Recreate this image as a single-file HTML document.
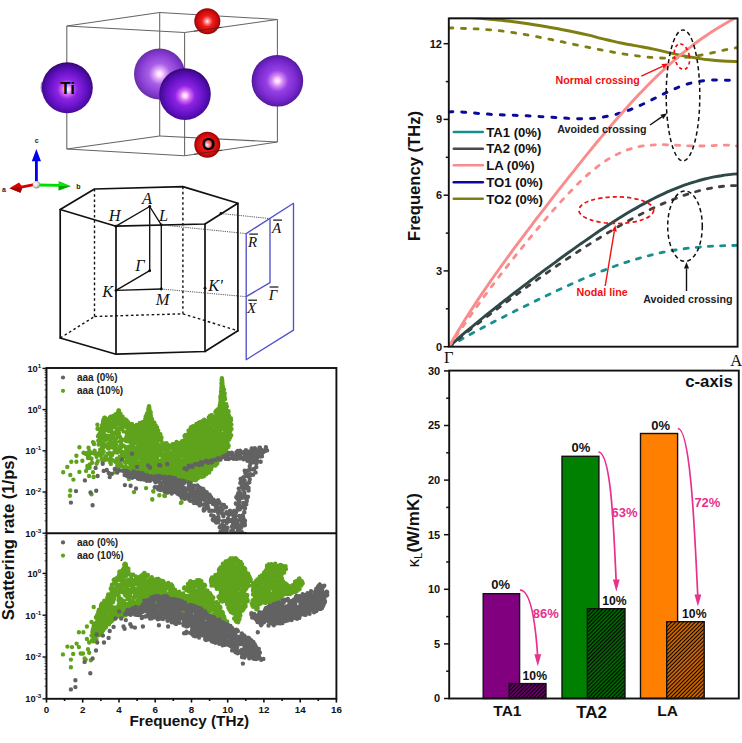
<!DOCTYPE html>
<html><head><meta charset="utf-8"><title>figure</title>
<style>
html,body{margin:0;padding:0;background:#fff;}
body{width:742px;height:743px;overflow:hidden;}
svg{display:block;}
svg{font-family:"Liberation Sans",sans-serif;}
.b{font-weight:bold;}
.se{font-family:"Liberation Serif",serif;}
.si{font-family:"Liberation Serif",serif;font-style:italic;}
</style></head><body>
<svg width="742" height="743" viewBox="0 0 742 743">
<defs>
<radialGradient id="gTiD" cx="50%" cy="53%" r="51%">
<stop offset="0" stop-color="#ffffff"/><stop offset="0.08" stop-color="#ffd0ff"/><stop offset="0.2" stop-color="#d46cf2"/><stop offset="0.38" stop-color="#8e24e2"/><stop offset="0.7" stop-color="#6612c8"/><stop offset="0.92" stop-color="#480a9e"/><stop offset="1" stop-color="#380878"/>
</radialGradient>
<radialGradient id="gTiL" cx="50%" cy="50%" r="50%">
<stop offset="0" stop-color="#ffffff"/><stop offset="0.08" stop-color="#ffe2ff"/><stop offset="0.22" stop-color="#dfa4f6"/><stop offset="0.42" stop-color="#a85fe6"/><stop offset="0.75" stop-color="#8a3fd4"/><stop offset="0.95" stop-color="#7030b4"/><stop offset="1" stop-color="#642aa2"/>
</radialGradient>
<radialGradient id="gTiM" cx="50%" cy="50%" r="50%">
<stop offset="0" stop-color="#ffffff"/><stop offset="0.08" stop-color="#ffd8ff"/><stop offset="0.22" stop-color="#d486f4"/><stop offset="0.42" stop-color="#9440e4"/><stop offset="0.75" stop-color="#7a28cf"/><stop offset="0.95" stop-color="#5c1cab"/><stop offset="1" stop-color="#501896"/>
</radialGradient>
<radialGradient id="gO" cx="50%" cy="50%" r="50%">
<stop offset="0" stop-color="#ffffff"/><stop offset="0.15" stop-color="#ff9a9a"/><stop offset="0.42" stop-color="#ee1c1c"/><stop offset="0.8" stop-color="#cc0a0a"/><stop offset="1" stop-color="#8e0505"/>
</radialGradient>
<radialGradient id="gW" cx="40%" cy="40%" r="60%">
<stop offset="0" stop-color="#ffffff"/><stop offset="0.6" stop-color="#d8d8d8"/><stop offset="1" stop-color="#8c8c8c"/>
</radialGradient>
<pattern id="hatch" patternUnits="userSpaceOnUse" width="2.76" height="8" patternTransform="rotate(45)">
<line x1="1.38" y1="-1" x2="1.38" y2="9" stroke="#000" stroke-width="1.35"/>
</pattern>
</defs>
<rect width="742" height="743" fill="#fff"/>

<g id="crystal">
<g fill="none" stroke="#646464" stroke-width="1.05">
<line x1="66.8" y1="26.0" x2="66.8" y2="149.0"/>
<line x1="159.7" y1="12.6" x2="159.7" y2="135.9"/>
<line x1="184.6" y1="32.6" x2="184.6" y2="155.7"/>
<line x1="277.4" y1="19.4" x2="277.4" y2="142.0"/>
<line x1="66.8" y1="26.0" x2="159.7" y2="12.6"/>
<line x1="159.7" y1="12.6" x2="277.4" y2="19.4"/>
<line x1="277.4" y1="19.4" x2="184.6" y2="32.6"/>
<line x1="184.6" y1="32.6" x2="66.8" y2="26.0"/>
<line x1="66.8" y1="149.0" x2="159.7" y2="135.9"/>
<line x1="159.7" y1="135.9" x2="277.4" y2="142.0"/>
<line x1="277.4" y1="142.0" x2="184.6" y2="155.7"/>
<line x1="184.6" y1="155.7" x2="66.8" y2="149.0"/>
</g>
<ellipse cx="42.4" cy="87.2" rx="1.8" ry="5.6" fill="#8a78a0" opacity="0.85"/>
<circle cx="159.5" cy="74" r="25.5" fill="url(#gTiL)"/>
<circle cx="277.4" cy="80.8" r="25.8" fill="url(#gTiM)"/>
<circle cx="207.3" cy="21.3" r="13" fill="url(#gO)"/>
<circle cx="67.3" cy="87.8" r="25.5" fill="url(#gTiD)"/>
<circle cx="185" cy="94.1" r="25.8" fill="url(#gTiD)"/>
<circle cx="207.3" cy="144.8" r="13" fill="url(#gO)"/>
<g fill="none" stroke="#4a2020" stroke-width="1" opacity="0.75"><line x1="193.9" y1="31.3" x2="221.7" y2="27.3"/><line x1="193.9" y1="154.3" x2="221.7" y2="150.2"/></g>
<text x="67.7" y="93.7" class="b" font-size="17" text-anchor="middle" fill="#000">Ti</text>
<text x="208.3" y="150.1" class="b" font-size="17.4" text-anchor="middle" fill="#000">O</text>
</g>
<g id="compass">
<line x1="34" y1="184.6" x2="20" y2="187.4" stroke="#d40000" stroke-width="2.8"/>
<polygon points="9.4,188.3 19,182.6 22.5,187 20.5,192.8" fill="#d80000"/>
<polygon points="9.4,188.3 20.5,192.8 22.5,187" fill="#a40000"/>
<line x1="39" y1="185" x2="59.5" y2="185.3" stroke="#00dc00" stroke-width="2.8"/>
<polygon points="70.8,185.9 58.6,181.1 58.6,190.4" fill="#10e010"/>
<polygon points="70.8,185.9 58.6,190.4 58.6,186" fill="#00a800"/>
<line x1="36.4" y1="182" x2="36.4" y2="160.5" stroke="#0000f0" stroke-width="2.8"/>
<polygon points="36.4,148.9 31.8,161.2 41,161.2" fill="#0000f0"/>
<circle cx="36.4" cy="184.7" r="3.7" fill="url(#gW)"/>
<text x="36.7" y="143.3" class="b" font-size="7" text-anchor="middle" fill="#222">c</text>
<text x="78.4" y="189" class="b" font-size="7" text-anchor="middle" fill="#222">b</text>
<text x="3.9" y="191.6" class="b" font-size="7" text-anchor="middle" fill="#222">a</text>
</g>
<g id="bz" fill="none" stroke="#111" stroke-linejoin="round" stroke-linecap="round">
<g stroke-width="1.7">
<polygon points="60.2,209.5 94.5,189.0 182.9,186.6 237.9,203.3 205.0,224.0 116.0,226.2"/>
<line x1="60.2" y1="209.5" x2="60.2" y2="338.0"/>
<line x1="116.0" y1="226.2" x2="116.0" y2="354.2"/>
<line x1="205.0" y1="224.0" x2="205.0" y2="351.5"/>
<line x1="237.9" y1="203.3" x2="237.9" y2="330.8"/>
<polyline points="60.2,338.0 116.0,354.2 205.0,351.5 237.9,330.8"/>
</g>
<g stroke-width="1.4" stroke-dasharray="2.6 2.6" stroke-linecap="butt">
<line x1="94.5" y1="189.0" x2="94.5" y2="316.5"/>
<line x1="182.9" y1="186.6" x2="182.9" y2="313.8"/>
<line x1="60.2" y1="338.0" x2="94.5" y2="316.5"/>
<line x1="94.5" y1="316.5" x2="182.9" y2="313.8"/>
<line x1="182.9" y1="313.8" x2="237.9" y2="330.8"/>
</g>
<g stroke-width="1.35">
<line x1="116.0" y1="226.2" x2="149.7" y2="206.5"/>
<line x1="149.7" y1="206.5" x2="161.3" y2="224.9"/>
<line x1="149.7" y1="206.5" x2="149.7" y2="270.7"/>
<line x1="161.3" y1="224.9" x2="161.3" y2="289.0"/>
<line x1="149.7" y1="270.7" x2="116.0" y2="290.4"/>
<line x1="116.0" y1="290.4" x2="161.3" y2="289.0"/>
</g>
<g stroke="#444" stroke-width="0.9" stroke-dasharray="1.2 1" stroke-linecap="butt">
<line x1="221.0" y1="213.5" x2="270.0" y2="218.6"/>
<line x1="161.3" y1="224.9" x2="246.2" y2="233.6"/>
<line x1="161.3" y1="289.0" x2="246.2" y2="296.7"/>
</g>
</g>
<g fill="#111">
<circle cx="149.7" cy="206.5" r="1.45"/>
<circle cx="149.7" cy="270.7" r="1.45"/>
<circle cx="161.3" cy="224.9" r="1.45"/>
<circle cx="161.3" cy="289.0" r="1.45"/>
<circle cx="116.0" cy="290.4" r="1.45"/>
<circle cx="205.0" cy="288.2" r="1.45"/>
<circle cx="221.0" cy="213.5" r="1.45"/>
<circle cx="116.0" cy="226.2" r="1.45"/>
</g>
<g class="si" font-size="16.4" fill="#111" text-anchor="middle">
<text x="147.0" y="204.0">A</text>
<text x="114.6" y="221.0">H</text>
<text x="163.6" y="220.6">L</text>
<text x="139.8" y="271.2">Γ</text>
<text x="107.8" y="296.7">K</text>
<text x="162.6" y="305.0">M</text>
<text x="215.6" y="290.6">K'</text>
</g>
<g fill="none" stroke="#5252cc" stroke-width="1.35" stroke-linejoin="round">
<polygon points="246.2,233.6 293.5,203.3 293.5,330.1 246.2,359.7"/>
<polyline points="270,218.6 270,282.6 246.2,296.7"/>
</g>
<g class="si" font-size="15" fill="#111" text-anchor="middle">
<text x="276.6" y="232.7">A</text>
<line x1="273.2" y1="220.1" x2="282.0" y2="220.1" stroke="#111" stroke-width="1.2"/>
<text x="252.6" y="246.7">R</text>
<line x1="249.2" y1="234.1" x2="258.0" y2="234.1" stroke="#111" stroke-width="1.2"/>
<text x="273.0" y="299.6">Γ</text>
<line x1="269.6" y1="287.0" x2="278.4" y2="287.0" stroke="#111" stroke-width="1.2"/>
<text x="251.6" y="312.8">X</text>
<line x1="248.2" y1="300.2" x2="257.0" y2="300.2" stroke="#111" stroke-width="1.2"/>
</g>
<g id="phonon">
<clipPath id="pc"><rect x="448.8" y="17.4" width="288.8" height="329.3"/></clipPath>
<g fill="none" clip-path="url(#pc)">
<path d="M448.9,27.8C450.3,27.9 454.4,28.1 457.2,28.2C459.9,28.3 462.7,28.4 465.4,28.5C468.2,28.6 470.9,28.7 473.7,28.8C476.4,28.9 479.2,29.0 481.9,29.2C484.7,29.4 487.4,29.6 490.2,29.8C492.9,30.1 495.7,30.3 498.4,30.6C501.2,30.9 503.9,31.3 506.7,31.7C509.4,32.0 512.2,32.4 514.9,32.9C517.7,33.3 520.4,33.8 523.2,34.2C525.9,34.7 528.7,35.2 531.4,35.7C534.2,36.2 536.9,36.8 539.7,37.3C542.4,37.9 545.2,38.4 547.9,39.0C550.7,39.5 553.4,40.1 556.2,40.7C558.9,41.3 561.7,41.8 564.4,42.4C567.2,43.0 569.9,43.6 572.7,44.1C575.4,44.7 578.2,45.3 580.9,45.8C583.7,46.4 586.4,47.0 589.2,47.5C591.9,48.1 594.7,48.6 597.4,49.2C600.2,49.7 602.9,50.2 605.7,50.8C608.4,51.3 611.2,51.8 613.9,52.3C616.7,52.8 619.4,53.2 622.2,53.7C624.9,54.1 627.7,54.6 630.4,55.0C633.2,55.4 635.9,55.8 638.7,56.1C641.4,56.4 644.2,56.8 646.9,57.0C649.7,57.3 652.4,57.5 655.2,57.7C657.9,57.9 660.7,58.0 663.4,58.1C666.2,58.2 668.9,58.2 671.7,58.1C674.4,58.1 677.2,58.0 679.9,57.8C682.7,57.6 685.4,57.4 688.2,57.1C690.9,56.8 693.7,56.4 696.4,56.0C699.2,55.5 701.9,55.0 704.7,54.5C707.4,53.9 710.2,53.3 712.9,52.7C715.7,52.1 718.4,51.4 721.2,50.8C723.9,50.2 726.7,49.5 729.4,49.0C732.2,48.4 736.3,47.7 737.7,47.5" stroke="#7e7e12" stroke-width="2.8" stroke-linecap="round" stroke-dasharray="4.0 8.6"/>
<path d="M448.9,16.6C451.8,16.7 460.3,16.8 466.0,17.1C471.7,17.4 476.6,18.0 483.0,18.6C489.4,19.2 497.5,19.9 504.7,20.7C511.9,21.5 519.1,22.4 526.3,23.5C533.5,24.6 540.6,25.8 547.8,27.0C555.0,28.2 562.2,29.6 569.4,31.0C576.6,32.5 585.6,34.5 590.9,35.7C596.1,36.9 595.9,37.1 600.9,38.3C605.9,39.5 614.5,41.6 621.1,43.0C627.7,44.4 635.1,45.6 640.5,46.6C645.9,47.6 649.2,48.2 653.7,49.2C658.2,50.2 662.9,51.3 667.5,52.3C672.1,53.3 676.6,54.4 681.2,55.3C685.8,56.2 690.4,57.0 695.0,57.8C699.6,58.5 704.1,59.3 708.7,59.8C713.3,60.3 717.6,60.7 722.5,61.0C727.4,61.3 735.3,61.5 737.9,61.6" stroke="#7e7e12" stroke-width="2.9"/>
<path d="M448.9,111.9C450.3,111.9 454.4,111.7 457.2,111.7C459.9,111.8 462.7,112.0 465.4,112.3C468.2,112.5 470.9,112.8 473.7,113.0C476.4,113.3 479.2,113.5 481.9,113.7C484.7,113.9 487.4,114.1 490.2,114.3C492.9,114.5 495.7,114.6 498.4,114.7C501.2,114.9 503.9,115.0 506.7,115.1C509.5,115.1 512.2,115.2 515.0,115.3C517.7,115.4 520.5,115.5 523.2,115.6C526.0,115.7 528.7,115.9 531.5,116.0C534.2,116.1 537.0,116.3 539.7,116.5C542.5,116.6 545.2,116.8 548.0,117.0C550.7,117.2 553.5,117.4 556.2,117.6C559.0,117.8 561.7,118.0 564.5,118.1C567.3,118.3 570.0,118.5 572.8,118.5C575.5,118.6 578.3,118.7 581.0,118.7C583.8,118.7 586.5,118.6 589.3,118.5C592.0,118.4 594.8,118.2 597.5,117.8C600.3,117.5 603.0,117.1 605.8,116.6C608.5,116.1 611.3,115.6 614.0,114.9C616.8,114.2 619.5,113.4 622.3,112.5C625.1,111.6 627.8,110.5 630.6,109.5C633.3,108.4 636.1,107.2 638.8,106.0C641.6,104.8 644.3,103.4 647.1,102.1C649.8,100.8 652.6,99.4 655.3,98.0C658.1,96.7 660.8,95.3 663.6,93.9C666.3,92.6 669.1,91.3 671.8,90.1C674.6,88.8 677.3,87.6 680.1,86.6C682.9,85.5 685.6,84.6 688.4,83.8C691.1,83.0 693.9,82.3 696.6,81.7C699.4,81.2 702.1,80.8 704.9,80.5C707.6,80.2 710.4,80.1 713.1,80.1C715.9,80.0 718.6,80.1 721.4,80.1C724.1,80.2 726.9,80.3 729.6,80.2C732.4,80.1 736.5,79.6 737.9,79.5" stroke="#0a0a9a" stroke-width="3.0" stroke-linecap="round" stroke-dasharray="3.9 9"/>
<path d="M448.9,346.7C450.3,345.9 454.4,343.4 457.2,341.8C459.9,340.2 462.7,338.6 465.4,337.1C468.2,335.5 470.9,334.0 473.7,332.5C476.4,331.0 479.2,329.5 481.9,328.1C484.7,326.6 487.4,325.2 490.2,323.7C492.9,322.3 495.7,320.9 498.4,319.5C501.2,318.1 503.9,316.7 506.7,315.3C509.4,313.9 512.2,312.5 514.9,311.1C517.7,309.7 520.4,308.4 523.2,307.0C525.9,305.7 528.7,304.3 531.4,302.9C534.2,301.6 536.9,300.3 539.7,298.9C542.4,297.6 545.2,296.3 547.9,295.0C550.7,293.6 553.4,292.3 556.2,291.0C558.9,289.8 561.7,288.5 564.4,287.2C567.2,285.9 569.9,284.7 572.7,283.4C575.4,282.2 578.2,281.0 580.9,279.8C583.7,278.6 586.4,277.4 589.2,276.2C591.9,275.1 594.7,274.0 597.4,272.8C600.2,271.7 602.9,270.6 605.7,269.6C608.4,268.5 611.2,267.5 613.9,266.5C616.7,265.5 619.4,264.5 622.2,263.6C624.9,262.6 627.7,261.7 630.4,260.9C633.2,260.0 635.9,259.2 638.7,258.4C641.4,257.6 644.2,256.8 646.9,256.1C649.7,255.4 652.4,254.7 655.2,254.1C657.9,253.4 660.7,252.8 663.4,252.2C666.2,251.7 668.9,251.2 671.7,250.7C674.4,250.2 677.2,249.8 679.9,249.3C682.7,248.9 685.4,248.6 688.2,248.2C690.9,247.9 693.7,247.6 696.4,247.4C699.2,247.1 701.9,246.9 704.7,246.7C707.4,246.5 710.2,246.3 712.9,246.2C715.7,246.0 718.4,245.9 721.2,245.8C723.9,245.7 726.7,245.7 729.4,245.6C732.2,245.5 736.3,245.4 737.7,245.4" stroke="#178f8f" stroke-width="2.8" stroke-linecap="round" stroke-dasharray="4.2 8"/>
<path d="M448.9,346.7C450.3,345.6 454.4,342.2 457.2,340.0C459.9,337.8 462.7,335.6 465.4,333.4C468.2,331.2 470.9,329.0 473.7,326.9C476.4,324.7 479.2,322.6 481.9,320.5C484.7,318.4 487.4,316.3 490.2,314.2C492.9,312.1 495.7,310.0 498.4,307.9C501.2,305.9 503.9,303.8 506.7,301.8C509.4,299.7 512.2,297.7 514.9,295.7C517.7,293.7 520.4,291.7 523.2,289.7C525.9,287.7 528.7,285.7 531.4,283.7C534.2,281.8 536.9,279.8 539.7,277.9C542.4,275.9 545.2,274.0 547.9,272.1C550.7,270.1 553.4,268.2 556.2,266.3C558.9,264.4 561.7,262.6 564.4,260.7C567.2,258.8 569.9,257.0 572.7,255.2C575.4,253.3 578.2,251.5 580.9,249.7C583.7,247.9 586.4,246.1 589.2,244.4C591.9,242.6 594.7,240.9 597.4,239.2C600.2,237.5 602.9,235.8 605.7,234.1C608.4,232.4 611.2,230.8 613.9,229.1C616.7,227.5 619.4,225.9 622.2,224.4C624.9,222.8 627.7,221.2 630.4,219.7C633.2,218.2 635.9,216.8 638.7,215.3C641.4,213.9 644.2,212.5 646.9,211.1C649.7,209.8 652.4,208.4 655.2,207.1C657.9,205.9 660.7,204.6 663.4,203.4C666.2,202.2 668.9,201.1 671.7,200.0C674.4,198.9 677.2,197.8 679.9,196.8C682.7,195.8 685.4,194.9 688.2,194.0C690.9,193.1 693.7,192.3 696.4,191.5C699.2,190.8 701.9,190.1 704.7,189.4C707.4,188.8 710.2,188.2 712.9,187.8C715.7,187.3 718.4,186.9 721.2,186.5C723.9,186.2 726.7,185.9 729.4,185.8C732.2,185.6 736.3,185.6 737.7,185.5" stroke="#3f3f3f" stroke-width="2.8" stroke-linecap="round" stroke-dasharray="4.2 8"/>
<path d="M448.9,346.7C450.3,345.5 454.4,341.7 457.2,339.3C459.9,336.9 462.7,334.5 465.4,332.2C468.2,329.8 470.9,327.5 473.7,325.3C476.4,323.0 479.2,320.7 481.9,318.5C484.7,316.3 487.4,314.1 490.2,311.9C492.9,309.7 495.7,307.5 498.4,305.3C501.2,303.2 503.9,301.0 506.7,298.9C509.4,296.8 512.2,294.6 514.9,292.5C517.7,290.4 520.4,288.3 523.2,286.2C525.9,284.1 528.7,282.1 531.4,280.0C534.2,277.9 536.9,275.8 539.7,273.8C542.4,271.7 545.2,269.7 547.9,267.6C550.7,265.6 553.4,263.6 556.2,261.6C558.9,259.5 561.7,257.5 564.4,255.5C567.2,253.5 569.9,251.6 572.7,249.6C575.4,247.6 578.2,245.7 580.9,243.7C583.7,241.8 586.4,239.9 589.2,238.0C591.9,236.1 594.7,234.2 597.4,232.3C600.2,230.5 602.9,228.6 605.7,226.8C608.4,225.0 611.2,223.2 613.9,221.5C616.7,219.7 619.4,218.0 622.2,216.3C624.9,214.6 627.7,212.9 630.4,211.3C633.2,209.7 635.9,208.1 638.7,206.6C641.4,205.0 644.2,203.5 646.9,202.1C649.7,200.6 652.4,199.2 655.2,197.8C657.9,196.4 660.7,195.1 663.4,193.9C666.2,192.6 668.9,191.4 671.7,190.2C674.4,189.0 677.2,187.9 679.9,186.9C682.7,185.8 685.4,184.8 688.2,183.9C690.9,182.9 693.7,182.1 696.4,181.3C699.2,180.4 701.9,179.7 704.7,179.0C707.4,178.3 710.2,177.7 712.9,177.1C715.7,176.6 718.4,176.1 721.2,175.7C723.9,175.2 726.7,174.9 729.4,174.6C732.2,174.3 736.3,174.0 737.7,173.9" stroke="#2f4848" stroke-width="2.9"/>
<path d="M448.9,346.7C450.3,344.7 454.4,338.8 457.2,334.8C459.9,330.8 462.7,326.8 465.4,322.8C468.2,318.8 470.9,314.9 473.7,311.0C476.4,307.1 479.2,303.3 481.9,299.5C484.7,295.8 487.4,292.0 490.2,288.4C492.9,284.7 495.7,281.1 498.4,277.5C501.2,273.9 503.9,270.4 506.7,266.9C509.4,263.4 512.2,259.9 514.9,256.4C517.7,253.0 520.4,249.6 523.2,246.2C525.9,242.8 528.7,239.4 531.4,236.1C534.2,232.8 536.9,229.4 539.7,226.2C542.4,222.9 545.2,219.6 547.9,216.4C550.7,213.2 553.4,210.0 556.2,206.9C558.9,203.8 561.7,200.8 564.4,197.8C567.2,194.8 569.9,191.9 572.7,189.1C575.4,186.3 578.2,183.5 580.9,180.9C583.7,178.3 586.4,175.8 589.2,173.4C591.9,171.1 594.7,168.8 597.4,166.7C600.2,164.6 602.9,162.6 605.7,160.8C608.4,159.0 611.2,157.4 613.9,155.9C616.7,154.4 619.4,153.1 622.2,151.9C624.9,150.8 627.7,149.7 630.4,148.9C633.2,148.0 635.9,147.3 638.7,146.8C641.4,146.2 644.2,145.8 646.9,145.5C649.7,145.1 652.4,145.0 655.2,144.8C657.9,144.7 660.7,144.7 663.4,144.7C666.2,144.8 668.9,144.9 671.7,145.0C674.4,145.1 677.2,145.3 679.9,145.4C682.7,145.5 685.4,145.7 688.2,145.8C690.9,145.9 693.7,146.0 696.4,146.0C699.2,146.0 701.9,146.0 704.7,145.9C707.4,145.9 710.2,145.7 712.9,145.6C715.7,145.5 718.4,145.3 721.2,145.3C723.9,145.2 726.7,145.1 729.4,145.2C732.2,145.4 736.3,146.0 737.7,146.2" stroke="#f98c8c" stroke-width="2.8" stroke-linecap="round" stroke-dasharray="4.2 8"/>
<path d="M448.9,346.7C450.3,344.3 454.4,337.0 457.2,332.4C460.0,327.8 462.8,323.3 465.5,318.8C468.3,314.4 471.1,310.1 473.9,305.9C476.6,301.6 479.4,297.5 482.2,293.4C484.9,289.3 487.7,285.3 490.5,281.3C493.3,277.3 496.0,273.4 498.8,269.5C501.6,265.7 504.3,261.8 507.1,258.0C509.9,254.2 512.7,250.5 515.4,246.7C518.2,243.0 521.0,239.3 523.8,235.6C526.5,231.9 529.3,228.2 532.1,224.6C534.8,220.9 537.6,217.3 540.4,213.7C543.2,210.1 545.9,206.5 548.7,202.9C551.5,199.3 554.3,195.7 557.0,192.2C559.8,188.6 562.6,185.1 565.3,181.6C568.1,178.0 570.9,174.5 573.7,171.1C576.4,167.6 579.2,164.1 582.0,160.7C584.7,157.2 587.5,153.8 590.3,150.4C593.1,147.0 595.8,143.6 598.6,140.3C601.4,137.0 604.2,133.7 606.9,130.4C609.7,127.1 612.5,123.9 615.2,120.7C618.0,117.5 620.8,114.3 623.6,111.2C626.3,108.1 629.1,105.0 631.9,102.0C634.6,99.0 637.4,96.0 640.2,93.1C643.0,90.2 645.7,87.3 648.5,84.5C651.3,81.7 654.1,79.0 656.8,76.3C659.6,73.6 662.4,71.0 665.1,68.5C667.9,65.9 670.7,63.4 673.5,61.0C676.2,58.6 679.0,56.2 681.8,53.9C684.6,51.6 687.3,49.4 690.1,47.3C692.9,45.1 695.6,43.0 698.4,41.0C701.2,39.0 704.0,37.1 706.7,35.2C709.5,33.3 712.3,31.5 715.0,29.8C717.8,28.0 720.6,26.3 723.4,24.7C726.1,23.1 728.9,21.5 731.7,20.0C734.5,18.4 738.6,16.3 740.0,15.5" stroke="#f98c8c" stroke-width="2.9"/>
</g>
<rect x="448.8" y="18.4" width="288.8" height="328.3" fill="none" stroke="#111" stroke-width="1.9"/>
<g stroke="#111" stroke-width="1.5">
<line x1="443.6" y1="346.7" x2="448.8" y2="346.7"/>
<line x1="443.6" y1="270.9" x2="448.8" y2="270.9"/>
<line x1="443.6" y1="195.2" x2="448.8" y2="195.2"/>
<line x1="443.6" y1="119.4" x2="448.8" y2="119.4"/>
<line x1="443.6" y1="43.7" x2="448.8" y2="43.7"/>
<line x1="445.8" y1="308.8" x2="448.8" y2="308.8"/>
<line x1="445.8" y1="233.1" x2="448.8" y2="233.1"/>
<line x1="445.8" y1="157.3" x2="448.8" y2="157.3"/>
<line x1="445.8" y1="81.6" x2="448.8" y2="81.6"/>
</g>
<g class="b" font-size="11" fill="#111" text-anchor="end">
<text x="442.0" y="350.6">0</text>
<text x="442.0" y="274.8">3</text>
<text x="442.0" y="199.1">6</text>
<text x="442.0" y="123.3">9</text>
<text x="442.0" y="47.6">12</text>
</g>
<text class="b" font-size="16.6" fill="#111" text-anchor="middle" transform="translate(420,176) rotate(-90)">Frequency (THz)</text>
<text class="se" font-size="16.4" fill="#111" x="444" y="362.5">Γ</text>
<text class="se" font-size="16.6" fill="#111" x="730.2" y="366.3">A</text>
<line x1="453.8" y1="132.0" x2="482.8" y2="132.0" stroke="#178f8f" stroke-width="2.6" stroke-linecap="round"/>
<text class="b" font-size="13.15" fill="#111" x="486.2" y="136.7">TA1 (0%)</text>
<line x1="453.8" y1="148.7" x2="482.8" y2="148.7" stroke="#4a4a4a" stroke-width="2.6" stroke-linecap="round"/>
<text class="b" font-size="13.15" fill="#111" x="486.2" y="153.4">TA2 (0%)</text>
<line x1="453.8" y1="165.3" x2="482.8" y2="165.3" stroke="#f98c8c" stroke-width="2.6" stroke-linecap="round"/>
<text class="b" font-size="13.15" fill="#111" x="486.2" y="170.0">LA (0%)</text>
<line x1="453.8" y1="182.3" x2="482.8" y2="182.3" stroke="#0a0a9a" stroke-width="2.6" stroke-linecap="round"/>
<text class="b" font-size="13.15" fill="#111" x="486.2" y="187.0">TO1 (0%)</text>
<line x1="453.8" y1="198.8" x2="482.8" y2="198.8" stroke="#7e7e12" stroke-width="2.6" stroke-linecap="round"/>
<text class="b" font-size="13.15" fill="#111" x="486.2" y="203.5">TO2 (0%)</text>
<g fill="none" stroke-width="1.5" stroke-dasharray="4.2 3">
<ellipse cx="683" cy="95.4" rx="16.8" ry="65.5" stroke="#111"/>
<ellipse cx="685" cy="226.2" rx="17.3" ry="35.2" stroke="#111"/>
<ellipse cx="681.9" cy="56.6" rx="7.4" ry="12.9" stroke="#f01010" stroke-width="1.7" stroke-dasharray="3.4 2.8" transform="rotate(-12 681.9 56.6)"/>
<ellipse cx="616.3" cy="210.2" rx="37.4" ry="13.3" stroke="#f01010" stroke-width="1.7"/>
</g>
<line x1="641.3" y1="76.2" x2="662.5" y2="66.3" stroke="#f01010" stroke-width="1.4"/>
<polygon points="668.4,63.6 663.6,68.6 661.5,64.1" fill="#f01010"/>
<line x1="650.0" y1="125.0" x2="661.8" y2="116.9" stroke="#111" stroke-width="1.4"/>
<polygon points="667.2,113.2 663.3,118.9 660.4,114.8" fill="#111"/>
<line x1="605.2" y1="286.0" x2="614.3" y2="231.4" stroke="#f01010" stroke-width="1.4"/>
<polygon points="615.4,225.0 616.8,231.8 611.9,231.0" fill="#f01010"/>
<line x1="686.5" y1="291.0" x2="686.5" y2="268.5" stroke="#111" stroke-width="1.4"/>
<polygon points="686.5,262.0 689.0,268.5 684.0,268.5" fill="#111"/>
<g class="b" font-size="10.7">
<text x="555.5" y="83.6" fill="#f01010">Normal crossing</text>
<text x="557.3" y="133.2" fill="#222">Avoided crossing</text>
<text x="576.6" y="296" fill="#f01010">Nodal line</text>
<text x="643.3" y="303.3" fill="#222">Avoided crossing</text>
</g>
</g>
<g id="scatter">
<clipPath id="ct"><rect x="46.5" y="368.0" width="289.9" height="165.3"/></clipPath>
<clipPath id="cb"><rect x="46.5" y="533.3" width="289.9" height="165.5"/></clipPath>
<path d="M154.2,465.3h0M181.9,478.0h0M138.3,464.1h0M120.9,439.5h0M139.1,439.9h0M204.7,451.8h0M129.5,438.7h0M167.9,470.3h0M153.3,457.9h0M117.0,429.7h0M101.6,448.6h0M200.6,438.6h0M215.8,411.3h0M191.2,440.8h0M161.0,448.2h0M148.9,448.6h0M104.2,459.1h0M149.6,470.0h0M107.2,425.5h0M171.2,471.2h0M208.1,469.2h0M145.2,471.3h0M128.1,429.3h0M146.6,437.9h0M226.4,450.9h0M166.6,443.3h0M219.1,460.3h0M215.6,462.2h0M149.8,420.3h0M110.3,445.0h0M214.1,451.5h0M119.0,459.5h0M168.9,460.2h0M212.7,463.1h0M208.0,456.1h0M127.2,432.7h0M131.6,451.1h0M226.8,425.3h0M226.6,416.6h0M181.4,473.0h0M211.0,428.7h0M185.4,462.4h0M107.8,447.8h0M198.7,428.6h0M141.6,462.5h0M228.9,419.9h0M144.1,436.0h0M168.1,476.5h0M155.4,470.0h0M129.0,440.0h0M144.5,426.5h0M175.9,473.4h0M153.6,474.8h0M119.7,428.1h0M195.2,436.8h0M140.7,432.8h0M172.1,460.8h0M110.7,437.2h0M201.7,431.7h0M172.9,458.2h0M220.8,424.9h0M166.1,451.2h0M158.0,434.4h0M161.5,477.3h0M191.7,470.5h0M224.9,405.6h0M172.6,477.5h0M112.8,424.8h0M203.3,472.6h0M150.6,429.5h0M118.2,423.7h0M153.9,474.2h0M174.1,452.0h0M182.9,462.6h0M171.7,475.8h0M196.3,436.3h0M223.9,389.5h0M208.0,423.8h0M163.8,466.1h0M149.9,431.6h0M143.0,465.8h0M192.7,445.2h0M105.9,456.2h0M215.1,448.8h0M136.2,426.6h0M229.0,435.8h0M123.6,431.4h0M108.5,420.3h0M198.7,447.5h0M194.0,470.8h0M149.4,412.6h0M195.1,446.0h0M218.0,444.3h0M196.4,463.7h0M165.1,466.1h0M206.1,465.2h0M176.0,472.2h0M189.5,451.2h0M114.4,416.2h0M172.5,444.3h0M181.7,449.9h0M205.1,457.0h0M161.6,450.2h0M201.0,443.2h0M188.0,451.1h0M115.6,433.4h0M208.2,431.8h0M217.3,452.3h0M115.4,414.5h0M139.4,466.7h0M222.7,453.3h0M219.3,408.8h0M147.0,419.6h0M145.5,423.3h0M217.0,463.7h0M182.4,474.4h0M224.7,436.1h0M196.2,425.7h0M199.0,446.1h0M222.8,391.7h0M136.9,456.0h0M174.0,471.6h0M152.7,433.4h0M147.7,413.9h0M165.0,444.5h0M150.8,425.2h0M218.5,428.1h0M209.0,468.3h0M167.5,450.0h0M224.8,454.2h0M184.6,458.7h0M158.7,436.3h0M183.1,451.8h0M137.4,426.8h0M227.2,446.1h0M216.9,428.3h0M164.3,449.2h0M187.3,475.6h0M142.4,422.5h0M205.1,456.0h0M126.4,458.3h0M126.7,422.2h0M187.1,478.1h0M116.2,419.7h0M223.4,412.9h0M147.3,413.2h0M144.9,464.7h0M208.5,423.8h0M122.6,416.6h0M152.3,463.7h0M221.9,405.3h0M198.3,472.8h0M227.0,443.2h0M132.0,453.7h0M221.4,445.0h0M128.1,428.3h0M154.9,430.2h0M223.0,397.5h0M205.8,456.0h0M208.6,459.6h0M100.8,436.4h0M128.2,422.1h0M180.9,449.2h0M198.4,467.4h0M206.6,447.0h0M161.0,464.5h0M229.1,439.6h0M223.2,417.4h0M214.5,425.5h0M131.7,460.1h0M177.6,443.5h0M131.0,441.3h0M204.8,435.9h0M150.2,436.2h0M118.6,451.4h0M138.9,437.9h0M145.0,422.1h0M154.1,464.6h0M151.7,471.2h0M183.7,474.0h0M108.4,443.7h0M146.8,431.4h0M167.4,475.6h0M222.7,419.1h0M219.7,443.5h0M151.4,467.3h0M126.0,420.3h0M195.2,472.7h0M101.8,437.4h0M153.6,439.6h0M154.3,447.6h0M99.4,443.4h0M200.5,460.3h0M113.7,423.6h0M108.7,424.8h0M196.4,460.1h0M196.2,464.0h0M221.3,395.7h0M203.9,476.2h0M164.8,475.1h0M189.0,472.5h0M119.2,460.9h0M111.9,434.1h0M215.4,436.7h0M175.4,471.1h0M145.4,458.7h0M183.5,481.8h0M176.2,448.1h0M166.2,472.5h0M109.3,445.4h0M215.2,460.6h0M104.2,460.2h0M97.9,436.2h0M224.7,393.3h0M165.4,445.8h0M203.1,453.5h0M198.0,427.2h0M197.5,425.9h0M142.0,457.1h0M191.1,467.2h0M203.9,433.3h0M132.4,445.8h0M197.8,477.7h0M216.4,412.9h0M182.3,451.2h0M187.1,481.3h0M160.3,466.6h0M191.5,468.5h0M155.9,454.5h0M190.8,445.0h0M191.4,455.8h0M105.2,440.4h0M145.8,464.3h0M208.1,472.0h0M212.0,463.7h0M182.8,465.1h0M139.8,422.9h0M134.8,453.6h0M227.9,431.3h0M212.5,443.3h0M155.8,459.6h0M143.6,452.4h0M163.3,462.1h0M143.6,465.8h0M191.7,430.7h0M191.4,461.1h0M151.0,419.8h0M219.3,431.0h0M148.0,471.3h0M168.8,457.7h0M199.0,446.3h0M117.4,467.0h0M186.6,456.3h0M119.4,424.4h0M201.8,439.2h0M192.2,467.0h0M110.1,418.7h0M196.4,424.0h0M123.0,445.4h0M150.7,461.5h0M190.9,430.9h0M151.5,456.2h0M220.2,423.5h0M174.6,457.1h0M194.8,470.9h0M201.9,451.9h0M212.6,449.8h0M138.9,444.4h0M109.6,422.4h0M203.1,453.3h0M154.1,426.2h0M188.4,476.1h0M121.2,447.1h0M101.4,435.4h0M118.2,460.5h0M224.7,432.9h0M110.0,438.7h0M170.1,453.7h0M166.2,445.5h0M209.4,433.2h0M149.8,458.5h0M153.6,451.7h0M126.8,456.3h0M224.6,433.7h0M126.1,462.6h0M206.8,445.0h0M160.3,437.4h0M144.4,445.5h0M208.0,464.1h0M210.1,415.6h0M137.4,428.7h0M154.7,445.3h0M179.3,460.5h0M187.5,472.3h0M203.8,466.5h0M168.7,456.3h0M156.1,471.1h0M169.9,469.1h0M160.1,437.5h0M187.1,466.7h0M147.4,422.3h0M183.2,445.2h0M100.1,442.4h0M189.4,476.3h0M194.3,444.1h0M142.4,468.9h0M146.2,428.2h0M168.0,459.3h0M125.0,424.1h0M153.9,436.6h0M209.3,420.8h0M185.6,461.6h0M137.1,440.0h0M182.9,460.8h0M217.2,435.7h0M222.0,442.3h0M186.1,461.3h0M220.5,442.6h0M180.4,444.2h0M191.3,441.0h0M202.0,474.4h0M208.6,461.0h0M139.7,423.6h0M183.9,476.5h0M206.9,438.8h0M221.7,425.3h0M177.1,476.9h0M230.2,428.3h0M193.7,468.3h0M182.1,452.9h0M159.1,476.4h0M138.7,455.0h0M146.4,438.8h0M156.1,449.5h0M116.0,462.2h0M145.8,446.1h0M148.9,461.0h0M192.3,465.3h0M141.5,442.0h0M154.7,471.7h0M147.6,450.3h0M178.4,472.6h0M153.9,440.0h0M207.6,471.6h0M207.1,469.5h0M212.5,463.2h0M189.7,474.4h0M171.8,462.2h0M123.6,457.2h0M223.5,402.9h0M179.1,449.6h0M131.0,457.3h0M204.3,426.6h0M175.4,472.6h0M217.1,433.2h0M161.3,440.3h0M145.8,437.7h0M151.2,432.7h0M110.7,444.8h0M214.5,429.4h0M202.6,423.1h0M172.3,469.9h0M131.3,437.7h0M183.7,478.9h0M203.6,452.9h0M199.3,477.1h0M177.0,458.0h0M115.3,425.3h0M211.2,444.4h0M208.6,428.5h0M193.7,436.5h0M119.1,429.9h0M209.9,433.7h0M121.6,424.1h0M220.8,401.2h0M179.8,452.7h0M207.0,439.6h0M211.2,469.2h0M220.5,428.4h0M121.6,465.8h0M146.9,440.9h0M157.1,432.5h0M112.7,453.5h0M207.7,469.3h0M140.0,453.1h0M148.3,457.3h0M226.5,430.3h0M130.4,464.2h0M215.0,453.7h0M177.0,468.9h0M116.3,438.5h0M149.3,422.5h0M210.9,433.6h0M206.1,474.3h0M207.5,467.5h0M103.5,432.7h0M155.3,431.4h0M224.2,444.9h0M206.7,471.3h0M170.3,475.5h0M226.1,408.5h0M137.9,446.4h0M226.8,432.3h0M132.9,427.4h0M108.2,435.8h0M210.9,442.5h0M174.1,446.7h0M123.7,453.0h0M159.1,435.9h0M126.5,432.2h0M148.5,439.9h0M136.6,459.5h0M215.2,424.6h0M156.3,455.6h0M117.3,413.7h0M144.3,449.3h0M180.4,467.7h0M208.4,432.8h0M197.1,456.5h0M200.0,428.3h0M203.4,452.8h0M221.1,391.7h0M200.8,439.9h0M203.2,470.1h0M149.6,436.7h0M148.7,412.2h0M203.7,467.7h0M221.9,412.4h0M211.4,466.5h0M154.4,474.1h0M145.1,440.8h0M188.6,433.5h0M109.7,417.7h0M151.0,437.3h0M174.6,470.8h0M227.9,429.5h0M156.3,444.0h0M168.6,464.1h0M218.4,450.9h0M217.5,422.6h0M182.3,441.7h0M152.4,461.1h0M138.1,450.9h0M211.2,440.0h0M132.5,446.3h0M167.6,464.9h0M179.9,463.1h0M175.8,479.2h0M156.2,443.5h0M139.2,472.8h0M178.5,479.3h0M138.4,470.4h0M162.4,461.7h0M117.5,452.5h0M156.7,466.3h0M144.4,454.3h0M219.1,440.1h0M133.1,459.5h0M148.8,447.5h0M140.0,448.0h0M145.6,430.9h0M220.3,459.8h0M100.2,449.8h0M152.5,447.6h0M211.8,415.3h0M196.5,453.2h0M210.9,438.3h0M155.6,450.3h0M210.1,460.0h0M212.9,442.2h0M198.3,465.5h0M225.5,422.9h0M223.2,451.0h0M197.1,465.6h0M103.6,451.7h0M154.7,432.1h0M223.0,391.7h0M192.2,463.0h0M131.9,435.8h0M228.6,445.4h0M192.8,448.8h0M224.0,415.3h0M137.1,471.4h0M141.8,464.1h0M171.1,458.3h0M119.3,448.4h0M200.8,465.7h0M123.1,452.1h0M140.5,427.6h0M107.7,453.7h0M230.1,437.6h0M221.8,446.1h0M181.9,476.7h0M119.2,460.8h0M209.6,456.4h0M146.5,436.3h0M146.6,465.7h0M173.6,444.4h0M208.2,452.5h0M211.0,468.3h0M203.7,423.0h0M134.9,447.9h0M142.5,424.4h0M187.2,465.2h0M136.6,424.9h0M140.4,426.7h0M227.6,443.5h0M188.6,442.4h0M136.8,438.4h0M226.3,428.9h0M143.1,471.4h0M147.0,439.4h0M153.1,434.0h0M217.8,435.9h0M127.1,438.5h0M156.2,469.1h0M171.4,453.5h0M227.3,437.5h0M98.3,440.8h0M217.6,443.6h0M215.3,437.5h0M142.8,458.6h0M189.1,465.1h0M113.0,417.5h0M196.9,478.0h0M171.2,462.8h0M122.6,425.3h0M210.7,439.4h0M135.8,450.6h0M215.8,434.9h0M190.4,463.3h0M164.7,470.1h0M121.1,464.4h0M211.6,419.7h0M215.4,442.5h0M119.4,416.3h0M160.1,439.0h0M149.2,415.5h0M133.5,430.9h0M132.0,438.1h0M172.8,459.4h0M215.4,459.7h0M182.7,445.0h0M204.8,470.1h0M224.4,450.0h0M137.7,458.6h0M197.2,431.8h0M195.4,436.3h0M224.2,414.1h0M222.0,439.7h0M175.5,482.2h0M145.0,459.8h0M154.7,469.6h0M105.4,429.3h0M178.5,469.2h0M196.4,479.6h0M206.8,470.4h0M215.8,445.6h0M222.2,400.6h0M140.8,457.1h0M104.0,421.9h0M141.9,430.3h0M222.6,437.6h0M180.1,454.5h0M207.4,422.8h0M172.0,447.4h0M193.4,458.6h0M167.7,477.3h0M161.2,447.2h0M224.6,416.7h0M197.0,475.2h0M230.4,430.8h0M205.5,426.7h0M110.9,455.4h0M105.1,446.2h0M151.1,469.2h0M104.4,437.6h0M152.2,475.0h0M225.3,444.3h0M132.0,423.9h0M199.9,445.9h0M125.8,438.2h0M198.8,464.8h0M162.5,472.0h0M175.3,471.2h0M145.4,460.3h0M194.0,471.1h0M139.4,470.7h0M114.7,423.4h0M120.6,450.4h0M144.5,430.5h0M221.7,415.0h0M216.8,455.2h0M102.1,431.8h0M151.9,436.8h0M190.2,447.0h0M215.6,453.8h0M149.1,418.8h0M179.2,475.7h0M131.0,442.6h0M211.3,460.8h0M184.5,436.0h0M212.8,432.0h0M160.8,454.2h0M222.9,433.9h0M119.7,464.7h0M159.1,445.7h0M209.2,472.3h0M148.3,465.8h0M205.9,433.1h0M161.5,462.3h0M146.8,414.1h0M183.1,468.6h0M123.7,422.8h0M204.4,443.3h0M151.9,446.5h0M148.8,439.2h0M222.5,398.4h0M147.1,448.3h0M219.3,457.9h0M99.7,440.6h0M210.9,421.9h0M160.9,471.9h0M156.3,430.0h0M166.1,465.0h0M187.8,456.2h0M189.1,436.6h0M201.3,459.3h0M199.1,437.7h0M193.3,429.1h0M153.3,439.7h0M141.9,432.8h0M213.5,436.7h0M214.6,462.7h0M221.8,436.8h0M133.6,462.0h0M136.0,453.0h0M205.8,440.6h0M158.3,476.6h0M157.0,470.7h0M104.1,423.9h0M222.2,437.3h0M205.6,430.7h0M188.2,449.3h0M221.6,400.1h0M152.8,447.6h0M220.7,412.4h0M148.1,445.7h0M126.7,435.7h0M109.0,427.1h0M224.5,433.7h0M198.7,430.5h0M223.2,388.1h0M162.4,469.2h0M178.0,480.0h0M141.7,425.6h0M130.0,456.4h0M120.6,461.2h0M171.5,461.2h0M100.8,432.3h0M109.5,446.3h0M114.2,439.1h0M141.5,466.9h0M215.5,428.8h0M112.3,427.5h0M118.6,434.6h0M123.2,420.8h0M129.0,470.0h0M164.7,472.0h0M162.9,461.5h0M174.1,450.8h0M177.5,460.8h0M129.8,441.3h0M180.6,451.1h0M206.9,426.9h0M224.6,421.6h0M129.6,455.5h0M202.6,473.8h0M198.8,445.2h0M211.7,461.0h0M219.8,456.7h0M209.9,462.7h0M208.9,460.8h0M227.4,434.2h0M130.6,466.5h0M163.5,473.8h0M189.8,453.0h0M149.7,460.7h0M204.6,450.1h0M185.3,466.3h0M142.6,440.9h0M210.4,461.7h0M207.2,422.3h0M144.5,467.1h0M186.5,463.2h0M227.0,416.4h0M179.5,472.3h0M150.1,430.9h0M226.7,431.6h0M158.3,463.4h0M214.0,432.3h0M218.3,448.4h0M145.6,447.8h0M167.5,449.5h0M220.1,430.7h0M189.6,436.9h0M157.3,457.3h0M217.9,455.0h0M149.8,456.9h0M206.1,449.5h0M193.1,451.0h0M174.8,465.2h0M115.3,432.6h0M225.1,399.0h0M140.0,424.4h0M150.0,418.8h0M157.7,466.3h0M183.2,460.2h0M199.6,427.8h0M172.5,448.8h0M209.1,437.9h0M105.7,436.0h0M199.1,449.6h0M152.6,463.3h0M184.3,480.0h0M182.8,451.1h0M187.6,473.1h0M105.2,421.8h0M164.8,467.9h0M187.4,439.1h0M151.3,438.6h0M133.6,467.2h0M203.9,466.5h0M199.2,430.9h0M197.7,464.6h0M184.8,470.7h0M114.1,452.4h0M192.3,442.7h0M178.6,465.0h0M188.5,480.8h0M104.3,425.2h0M172.0,463.2h0M141.4,438.1h0M124.7,466.6h0M206.7,434.8h0M182.2,454.5h0M227.5,412.9h0M158.2,450.1h0M193.0,426.1h0M172.7,452.1h0M194.9,454.0h0M194.8,444.6h0M144.7,472.9h0M206.1,426.2h0M161.2,464.7h0M193.2,477.7h0M230.1,424.2h0M207.1,466.8h0M125.4,439.9h0M209.6,461.0h0M217.6,434.5h0M181.5,471.4h0M162.4,445.6h0M219.9,418.5h0M110.4,440.5h0M158.5,439.9h0M183.1,452.7h0M188.1,453.4h0M128.9,446.6h0M190.7,427.9h0M203.8,464.9h0M182.8,456.3h0M126.2,449.0h0M223.3,445.5h0M221.8,406.0h0M110.6,461.1h0M172.1,464.7h0M164.8,443.5h0M177.4,462.4h0M209.5,463.7h0M229.6,435.7h0M195.9,467.7h0M190.8,441.3h0M151.8,442.6h0M184.8,474.7h0M196.3,462.1h0M189.2,467.7h0M155.0,470.7h0M156.5,452.6h0M109.1,424.9h0M141.1,459.3h0M202.0,471.9h0M204.7,434.3h0M139.0,444.2h0M146.3,434.8h0M168.7,446.7h0M169.7,477.0h0M151.9,474.4h0M190.4,480.1h0M120.3,424.4h0M190.0,450.9h0M198.1,457.5h0M227.9,446.0h0M176.9,447.3h0M177.9,451.4h0M133.5,459.2h0M223.5,414.3h0M213.0,462.7h0M186.2,440.0h0M230.4,418.6h0M185.3,438.2h0M145.9,454.3h0M115.1,461.2h0M130.1,462.0h0M148.7,416.7h0M186.8,466.3h0M159.0,453.1h0M145.5,427.6h0M224.1,436.6h0M197.8,437.5h0M225.1,433.5h0M222.4,426.8h0M230.6,428.9h0M197.3,434.8h0M178.8,446.8h0M213.3,417.0h0M127.2,441.2h0M122.4,457.1h0M175.9,477.1h0M151.1,449.7h0M166.1,478.0h0M143.1,448.6h0M131.4,426.1h0M172.9,453.2h0M152.0,471.7h0M186.6,468.8h0M226.9,406.6h0M224.9,421.2h0M153.6,434.0h0M212.1,463.2h0M186.1,440.0h0M205.6,472.8h0M167.7,449.5h0M188.0,462.4h0M188.8,452.9h0M128.0,423.6h0M186.8,459.0h0M151.7,422.6h0M224.9,439.0h0M144.8,452.4h0M200.9,466.2h0M183.9,445.0h0M192.5,479.9h0M208.4,441.5h0M132.4,453.1h0M142.0,433.2h0M181.4,451.6h0M132.1,461.6h0M223.1,437.2h0M205.1,462.7h0M206.0,461.5h0M186.8,437.7h0M169.0,454.5h0M100.4,454.5h0M183.6,451.0h0M180.2,473.2h0M201.5,465.3h0M194.0,479.1h0M139.3,454.2h0M194.0,434.0h0M105.8,419.0h0M139.7,428.5h0M193.5,459.3h0M147.0,425.3h0M158.4,445.3h0M113.8,427.3h0M105.6,457.3h0M201.5,424.3h0M107.9,419.7h0M119.9,458.8h0M131.6,456.2h0M159.7,453.6h0M110.8,463.9h0M131.0,427.6h0M119.8,456.6h0M153.3,464.7h0M214.1,438.8h0M179.0,472.9h0M226.2,412.7h0M212.1,464.4h0M147.4,415.4h0M152.3,445.2h0M217.4,457.8h0M195.6,457.7h0M211.5,467.5h0M188.7,446.9h0M142.5,460.6h0M203.0,469.8h0M138.5,444.8h0M218.4,427.8h0M219.1,455.5h0M138.7,470.2h0M176.4,465.5h0M153.1,470.9h0M145.7,416.5h0M155.2,453.8h0M167.7,464.6h0M193.2,476.1h0M141.1,455.3h0M164.5,448.6h0M220.5,436.3h0M199.9,469.6h0M164.8,472.8h0M166.0,476.4h0M182.4,462.8h0M154.1,441.6h0M153.6,432.3h0M194.1,457.0h0M178.5,473.4h0M123.8,439.9h0M194.6,457.1h0M193.5,453.0h0M133.4,466.5h0M225.1,424.9h0M205.0,449.6h0M115.6,426.7h0M142.1,458.9h0M118.2,421.4h0M139.3,431.4h0M121.3,428.8h0M192.0,480.0h0M212.2,454.9h0M144.6,444.6h0M221.9,420.5h0M171.9,448.0h0M196.6,478.1h0M116.0,416.8h0M212.5,461.5h0M176.8,449.5h0M145.8,472.5h0M144.0,434.2h0M223.1,445.5h0M149.1,442.4h0M146.8,419.1h0M141.6,464.7h0M196.4,454.0h0M171.4,475.3h0M198.4,468.6h0M215.4,457.6h0M192.9,444.6h0M120.9,442.4h0M188.0,480.3h0M144.1,455.8h0M156.2,461.5h0M216.6,441.5h0M221.1,437.3h0M148.6,450.9h0M203.5,432.4h0M152.8,448.7h0M174.0,454.9h0M203.8,464.7h0M139.7,458.0h0M132.0,442.5h0M222.2,387.0h0M174.5,473.7h0M215.2,424.8h0M195.9,446.5h0M154.5,438.4h0M206.6,458.1h0M158.5,469.1h0M231.2,435.2h0M130.2,464.0h0M194.4,455.0h0M223.2,428.1h0M220.8,401.6h0M220.0,442.8h0M213.0,424.9h0M206.2,450.0h0M159.5,464.9h0M118.1,450.2h0M171.9,458.4h0M217.2,417.0h0M115.4,439.5h0M228.2,418.8h0M225.7,450.4h0M214.0,448.8h0M145.4,441.9h0M210.5,448.7h0M189.7,475.8h0M102.9,423.2h0M228.6,411.2h0M153.0,473.2h0M176.7,465.0h0M120.7,465.8h0M132.7,470.9h0M228.2,420.9h0M145.9,447.9h0M195.4,436.3h0M145.2,473.0h0M176.6,462.5h0M152.6,435.5h0M149.1,413.6h0M187.7,466.1h0M158.0,431.2h0M222.4,441.8h0M108.3,446.5h0M166.1,476.8h0M220.5,452.6h0M212.0,446.5h0M197.6,453.7h0M126.6,420.2h0M150.9,450.7h0M105.8,435.4h0M109.8,431.1h0M189.9,451.7h0M102.4,453.5h0M175.8,454.3h0M143.7,451.4h0M146.3,453.2h0M214.3,445.3h0M148.2,448.9h0M144.5,470.3h0M214.4,440.2h0M228.6,446.0h0M225.7,437.8h0M147.2,432.0h0M134.1,431.2h0M201.4,452.3h0M202.9,432.7h0M193.0,464.4h0M162.1,455.2h0M125.3,425.8h0M145.3,457.7h0M185.6,449.4h0M183.0,451.2h0M227.6,433.5h0M187.7,480.0h0M204.9,455.8h0M133.1,429.5h0M193.5,472.5h0M147.0,458.4h0M141.7,449.8h0M220.4,402.8h0M140.6,446.1h0M145.8,473.2h0M129.0,468.4h0M129.5,440.1h0M205.0,463.5h0M133.0,459.9h0M202.4,466.9h0M131.7,457.5h0M146.6,423.8h0M192.1,432.6h0M147.0,468.9h0M226.7,417.1h0M111.8,447.3h0M141.1,467.2h0M142.4,422.2h0M226.9,416.2h0M186.7,448.2h0M158.6,465.8h0M147.4,455.4h0M188.5,430.6h0M119.8,446.2h0M162.2,443.1h0M188.9,435.7h0M180.4,460.3h0M156.6,465.6h0M173.6,457.5h0M145.9,425.5h0M209.3,433.1h0M156.3,465.6h0M190.2,434.3h0M218.9,413.9h0M231.4,424.6h0M191.7,427.1h0M203.6,426.3h0M134.6,456.6h0M226.5,417.0h0M198.0,470.4h0M143.7,455.3h0M221.7,427.9h0M165.4,461.1h0M144.5,463.8h0M147.7,439.2h0M125.9,424.3h0M130.9,465.7h0M214.0,461.0h0M188.8,464.0h0M155.8,449.1h0M110.0,421.6h0M126.4,469.4h0M121.2,439.0h0M122.1,428.3h0M165.0,466.3h0M201.0,438.2h0M174.4,446.5h0M147.0,428.8h0M105.1,446.0h0M171.4,455.4h0M137.2,426.8h0M146.9,461.2h0M191.4,460.4h0M155.9,459.1h0M209.7,428.4h0M120.5,421.0h0M217.9,421.2h0M186.5,437.2h0M159.2,438.8h0M129.7,436.9h0M146.6,470.9h0M181.8,444.8h0M211.3,427.7h0M193.5,454.9h0M185.9,447.5h0M140.6,441.1h0M170.7,463.3h0M112.0,455.2h0M99.6,454.5h0M150.1,431.0h0M228.3,418.6h0M228.5,412.1h0M184.5,465.9h0M149.9,457.7h0M102.0,425.5h0M156.4,458.5h0M128.7,437.3h0M156.9,474.6h0M137.6,439.9h0M222.4,389.8h0M137.4,453.6h0M208.4,422.1h0M225.2,421.2h0M177.8,469.1h0M190.9,440.1h0M133.7,445.9h0M111.9,431.8h0M165.0,454.0h0M147.3,421.7h0M131.3,464.0h0M206.8,437.0h0M159.4,453.4h0M184.9,450.6h0M227.3,419.4h0M191.3,456.2h0M197.6,453.5h0M203.7,428.3h0M205.3,466.9h0M211.6,448.7h0M126.7,467.5h0M141.1,467.6h0M109.8,453.0h0M228.7,417.4h0M99.1,453.1h0M206.8,451.5h0M171.3,463.8h0M117.3,435.1h0M174.5,460.3h0M182.0,441.3h0M222.9,417.3h0M192.7,476.3h0M184.4,448.0h0M189.6,472.2h0M157.1,461.7h0M152.7,467.7h0M202.7,440.0h0M140.3,442.1h0M154.0,466.3h0M191.5,479.9h0M210.5,439.9h0M205.5,441.2h0M216.2,448.2h0M209.0,472.5h0M130.0,439.0h0M200.2,443.1h0M141.5,435.4h0M223.0,437.9h0M221.0,437.8h0M159.0,436.4h0M195.5,480.2h0M192.5,477.9h0M184.7,462.5h0M127.1,452.4h0M140.7,440.0h0M226.2,404.3h0M143.5,462.8h0M120.1,437.0h0M201.9,476.7h0M163.5,476.8h0M150.4,435.9h0M191.9,439.3h0M208.3,464.6h0M200.9,459.6h0M182.8,465.9h0M139.0,450.2h0M189.7,467.6h0M130.6,435.4h0M191.4,449.1h0M112.8,460.2h0M201.6,427.4h0M108.7,448.5h0M186.8,470.2h0M152.1,425.6h0M129.3,461.3h0M193.7,460.8h0M168.8,451.9h0M113.6,418.8h0M214.2,445.5h0M157.6,437.9h0M164.8,459.1h0M117.6,423.8h0M231.5,428.9h0M148.4,466.6h0M218.0,417.9h0M197.3,475.4h0M157.1,427.5h0M222.7,428.6h0M222.0,445.6h0M215.4,421.8h0M212.0,464.5h0M147.3,465.5h0M147.4,421.9h0M174.9,471.9h0M225.3,444.9h0M230.4,421.8h0M144.1,422.3h0M139.3,430.2h0M143.4,460.6h0M202.8,424.7h0M187.4,450.8h0M102.2,429.5h0M100.9,455.8h0M207.6,426.0h0M206.4,441.0h0M168.9,445.5h0M214.8,460.6h0M137.0,454.4h0M144.0,458.3h0M174.5,464.1h0M230.8,418.1h0M171.4,457.8h0M131.6,448.3h0M200.6,445.2h0M156.7,455.4h0M195.8,439.0h0M130.6,432.5h0M133.1,471.3h0M224.4,408.1h0M198.6,451.5h0M155.0,472.8h0M137.9,433.6h0M201.9,454.5h0M204.3,437.4h0M164.3,448.3h0M121.8,453.1h0M181.3,468.9h0M200.7,427.8h0M223.5,413.8h0M170.7,477.3h0M201.9,457.1h0M203.2,454.4h0M139.5,450.3h0M152.3,457.3h0M148.7,462.8h0M160.6,463.7h0M137.3,435.6h0M99.6,429.8h0M192.4,454.8h0M222.4,424.4h0M177.5,464.0h0M222.3,406.7h0M218.8,448.2h0M211.1,455.3h0M102.0,451.4h0M116.0,432.2h0M215.9,422.5h0M159.0,446.4h0M174.0,471.9h0M222.0,429.2h0M216.2,451.7h0M195.9,458.1h0M137.4,455.0h0M177.5,459.9h0M119.1,414.5h0M208.8,462.9h0M195.0,456.7h0M184.7,460.3h0M222.0,446.5h0M185.8,440.2h0M163.7,457.9h0M154.4,422.6h0M155.2,437.3h0M145.6,419.4h0M150.2,425.5h0M135.2,427.2h0M191.6,462.1h0M128.1,462.3h0M156.2,463.9h0M226.2,412.7h0M152.3,443.9h0M138.0,443.3h0M219.2,432.5h0M131.0,439.9h0M133.8,460.6h0M156.1,473.8h0M201.9,473.3h0M154.3,475.2h0M168.0,450.0h0M145.3,451.8h0M159.1,433.7h0M142.1,450.0h0M204.2,461.2h0M191.5,471.4h0M131.4,433.9h0M208.5,439.9h0M217.6,409.5h0M184.0,450.0h0M102.1,442.7h0M155.7,476.2h0M182.2,447.4h0M171.8,454.8h0M218.3,427.6h0M136.4,467.8h0M190.0,461.8h0M148.8,436.3h0M200.7,434.6h0M203.8,438.5h0M192.6,462.0h0M204.9,471.0h0M200.2,451.2h0M146.9,414.4h0M117.2,465.8h0M159.1,463.7h0M166.3,456.7h0M216.8,415.4h0M213.9,458.2h0M133.6,471.4h0M206.8,433.9h0M152.2,436.9h0M188.1,445.7h0M206.4,451.1h0M168.8,459.3h0M219.2,456.9h0M150.6,428.7h0M203.1,449.9h0M137.7,455.3h0M162.7,462.3h0M145.9,471.0h0M173.1,463.0h0M193.7,429.8h0M142.3,453.4h0M208.7,417.5h0M106.6,438.2h0M138.3,441.7h0M113.4,422.7h0M188.2,437.3h0M196.6,450.8h0M193.8,427.8h0M212.8,464.1h0M133.2,455.9h0M143.9,441.2h0M176.7,465.1h0M225.4,406.0h0M175.1,476.5h0M131.3,464.6h0M225.2,405.1h0M146.4,439.5h0M221.9,385.8h0M158.9,461.9h0M195.9,448.7h0M211.3,421.3h0M172.5,467.6h0M99.6,434.8h0M222.1,424.5h0M121.5,421.6h0M131.1,463.2h0M199.2,441.3h0M139.3,428.3h0M118.4,420.6h0M110.1,444.3h0M158.1,474.9h0M113.7,442.7h0M199.8,428.0h0M160.7,450.4h0M171.3,472.6h0M182.3,456.0h0M130.0,450.9h0M224.4,424.2h0M185.3,469.4h0M138.0,428.4h0M197.9,444.6h0M223.2,448.7h0M99.9,433.6h0M213.1,421.8h0M227.3,415.9h0M132.1,460.3h0M140.0,471.1h0M137.0,442.4h0M196.7,451.9h0M209.7,449.1h0M206.7,461.3h0M211.3,465.5h0M230.4,421.9h0M201.5,462.6h0M202.0,475.8h0M192.1,433.0h0M152.7,456.6h0M192.2,471.7h0M138.4,467.5h0M196.9,438.6h0M151.9,437.9h0M196.1,443.1h0M124.3,454.2h0M209.0,443.4h0M127.3,437.7h0M182.6,476.4h0M137.5,435.1h0M162.0,474.0h0M175.1,445.4h0M176.1,460.9h0M126.6,447.5h0M197.0,430.1h0M219.2,426.4h0M180.6,449.1h0M182.0,443.5h0M106.6,459.2h0M119.7,414.7h0M123.6,468.8h0M208.1,465.9h0M131.7,438.7h0M183.6,445.3h0M167.9,468.1h0M217.3,447.3h0M107.2,459.6h0M129.0,440.3h0M225.5,419.9h0M154.0,435.1h0M201.3,435.0h0M194.1,445.4h0M127.8,460.5h0M192.7,454.5h0M224.6,425.3h0M160.4,434.3h0M143.7,430.9h0M139.8,456.4h0M163.6,462.0h0M150.8,418.8h0M228.1,424.5h0M183.9,440.8h0M105.3,456.7h0M147.2,445.9h0M133.2,429.5h0M124.9,462.0h0M106.5,421.9h0M203.1,453.3h0M217.7,415.8h0M207.4,427.9h0M217.9,428.6h0M174.6,469.1h0M116.8,428.8h0M195.0,431.8h0M179.4,468.8h0M226.5,440.8h0M194.3,434.8h0M138.4,466.0h0M149.3,425.6h0M131.2,456.5h0M217.6,425.7h0M166.9,460.9h0M198.7,422.8h0M222.6,401.8h0M106.6,419.2h0M229.0,415.6h0M109.6,439.3h0M209.6,451.0h0M183.1,480.2h0M200.3,428.0h0M181.4,468.5h0M132.3,469.5h0M218.7,437.4h0M179.1,442.9h0M201.5,432.7h0M205.0,435.8h0M173.4,468.3h0M146.5,424.0h0M175.1,482.1h0M160.8,453.3h0M139.1,441.3h0M208.3,427.4h0M131.2,431.9h0M200.7,430.8h0M224.3,404.4h0M156.5,450.1h0M118.1,416.7h0M203.7,449.9h0M174.4,475.5h0M171.9,474.9h0M134.6,427.1h0M224.1,429.6h0M191.9,441.1h0M210.3,441.6h0M219.8,435.6h0M184.3,463.2h0M226.5,443.3h0M185.9,446.3h0M219.8,459.1h0M170.4,476.8h0M230.6,435.0h0M219.4,430.1h0M140.8,448.0h0M193.1,426.7h0M132.7,459.5h0M162.6,469.8h0M192.3,443.6h0M162.1,448.2h0M138.5,467.9h0M193.2,430.1h0M148.6,436.4h0M220.2,447.1h0M134.8,462.9h0M185.1,441.9h0M210.1,435.4h0M199.6,466.6h0M215.8,450.4h0M145.1,450.5h0M226.1,446.3h0M149.3,423.0h0M202.5,446.4h0M145.9,428.0h0M172.8,456.0h0M194.1,435.9h0M208.8,463.1h0M182.1,448.6h0M120.6,413.9h0M140.6,468.6h0M145.2,419.1h0M213.0,434.3h0M134.1,433.6h0M116.2,431.6h0M205.3,423.7h0M102.4,446.6h0M153.8,457.8h0M151.2,433.1h0M222.8,409.9h0M158.6,436.9h0M194.3,446.9h0M220.2,402.9h0M115.9,450.0h0M206.9,449.4h0M154.7,442.2h0M225.4,417.6h0M201.9,469.2h0M147.2,417.4h0M190.0,431.9h0M215.5,443.1h0M174.7,470.5h0M136.3,439.0h0M134.0,465.7h0M124.7,446.4h0M167.6,464.3h0M137.9,462.7h0M192.9,430.6h0M224.7,419.4h0M216.8,439.3h0M211.1,418.1h0M185.5,442.7h0M227.0,429.7h0M210.3,428.4h0M125.8,421.0h0M106.5,439.4h0M126.1,452.1h0M180.5,453.2h0M226.0,409.4h0M200.5,441.4h0M142.4,464.8h0M188.9,466.6h0M205.8,426.1h0M150.2,462.0h0M185.6,435.0h0M199.1,449.6h0M152.2,441.0h0M171.7,478.1h0M190.8,476.0h0M200.2,435.4h0M121.2,457.1h0M206.4,428.8h0M142.0,432.4h0M195.5,425.5h0M137.5,469.5h0M149.7,422.4h0M135.5,435.7h0M133.3,432.1h0M219.8,425.1h0M197.9,443.1h0M220.4,442.2h0M192.3,463.5h0M104.7,422.1h0M134.8,427.5h0M215.4,437.2h0M197.8,458.7h0M134.1,443.4h0M147.4,428.2h0M168.7,448.5h0M119.2,466.5h0M113.1,415.9h0M107.7,427.8h0M143.5,456.0h0M201.0,438.6h0M211.9,431.7h0M194.7,439.7h0M218.4,416.5h0M216.4,455.6h0M132.9,436.6h0M220.5,443.8h0M217.0,410.3h0M193.4,468.8h0M205.7,450.5h0M159.8,473.2h0M227.1,438.6h0M196.6,448.8h0M150.9,430.8h0M131.9,467.1h0M211.8,451.6h0M190.2,431.9h0M174.5,448.4h0M131.0,465.0h0M205.2,469.6h0M147.0,425.7h0M226.1,435.6h0M209.9,461.1h0M175.5,450.9h0M140.6,456.1h0M129.1,428.3h0M198.5,461.9h0M139.3,435.3h0M139.3,446.9h0M216.7,450.8h0M194.9,431.5h0M177.9,461.0h0M202.3,449.1h0M104.7,428.6h0M132.9,442.2h0M150.4,426.2h0M221.8,391.5h0M145.4,473.4h0M130.8,428.0h0M110.3,462.4h0M206.1,467.0h0M116.1,448.4h0M215.2,444.6h0M190.6,443.7h0M202.6,432.5h0M199.4,434.4h0M134.1,432.6h0M167.3,469.9h0M165.8,450.7h0M216.5,432.5h0M203.3,449.8h0M146.9,451.9h0M222.5,395.1h0M182.1,479.1h0M147.5,470.6h0M159.5,454.9h0M199.2,470.7h0M228.2,447.0h0M207.2,457.1h0M101.6,436.3h0M115.4,418.4h0M203.9,435.5h0M195.0,431.6h0M212.4,452.3h0M131.3,458.7h0M194.4,450.2h0M183.6,451.4h0M218.8,416.3h0M167.1,446.8h0M222.6,446.6h0M166.6,459.2h0M198.2,471.4h0M158.5,467.2h0M197.9,460.5h0M227.4,442.4h0M151.5,471.9h0M186.8,457.8h0M174.0,457.5h0M192.5,454.7h0M162.7,459.1h0M183.7,474.0h0M153.4,448.6h0M165.8,461.9h0M224.4,414.3h0M126.2,422.4h0M192.8,476.8h0M172.5,478.6h0M154.5,447.5h0M137.1,433.6h0M155.8,433.7h0M147.9,437.6h0M108.5,422.5h0M231.0,420.3h0M165.3,457.6h0M207.1,455.8h0M148.3,453.2h0M120.1,415.3h0M180.1,466.7h0M224.7,425.4h0M202.8,446.5h0M179.0,450.6h0M153.3,427.5h0M219.1,416.4h0M215.8,437.5h0M129.5,437.6h0M138.8,465.4h0M102.0,445.3h0M142.5,422.5h0M162.5,458.5h0M222.1,443.9h0M191.1,436.0h0M114.1,426.6h0M230.1,418.3h0M114.7,424.1h0M183.2,475.6h0M98.1,453.5h0M144.2,433.3h0M142.7,467.2h0M206.9,461.9h0M151.6,430.5h0M110.5,457.5h0M132.6,461.5h0M138.5,467.5h0M196.6,438.8h0M199.2,428.0h0M201.9,434.0h0M139.2,448.6h0M198.2,423.7h0M210.8,448.7h0M227.2,439.3h0M223.7,447.9h0M225.8,442.2h0M198.1,441.0h0M197.7,425.8h0M113.2,437.1h0M215.9,443.3h0M198.4,464.2h0M155.8,425.8h0M202.5,471.3h0M136.9,453.1h0M189.8,460.0h0M200.0,467.0h0M147.8,433.9h0M104.4,444.7h0M194.2,451.4h0M150.4,468.5h0M169.7,466.7h0M183.8,477.3h0M189.3,474.6h0M167.7,460.6h0M104.1,435.0h0M173.8,453.8h0M142.9,442.1h0M189.3,473.3h0M146.6,433.6h0M162.3,466.5h0M149.8,446.9h0M164.9,455.1h0M148.9,438.4h0M142.3,446.6h0M120.0,429.3h0M133.2,437.7h0M190.2,432.8h0M198.7,443.8h0M162.3,458.1h0M224.2,415.3h0M208.9,425.2h0M158.3,430.6h0M190.7,444.3h0M223.4,408.0h0M136.3,439.1h0M188.3,471.4h0M114.5,423.7h0M145.8,454.8h0M153.6,445.9h0M114.3,442.5h0M219.4,451.6h0M196.8,461.9h0M141.1,463.7h0M228.5,416.7h0M154.6,424.8h0M138.6,454.5h0M230.4,427.6h0M213.0,420.4h0M153.8,462.7h0M192.5,465.3h0M145.3,460.7h0M188.1,449.1h0M209.7,458.4h0M161.5,437.4h0M206.0,430.3h0M196.7,455.7h0M141.9,460.0h0M147.5,449.2h0M147.7,472.9h0M148.3,415.2h0M155.4,441.9h0M217.9,438.5h0M194.4,457.5h0M145.9,429.8h0M220.3,397.0h0M203.1,430.2h0M218.5,433.5h0M184.4,465.7h0M217.8,418.9h0M231.0,419.4h0M195.5,465.8h0M145.7,422.5h0M152.5,467.5h0M204.2,437.1h0M200.6,470.2h0M148.4,430.8h0M212.6,445.8h0M157.3,445.6h0M145.0,438.8h0M197.6,457.1h0M211.3,436.3h0M175.4,450.4h0M171.1,473.7h0M174.6,465.6h0M132.8,433.9h0M224.6,396.4h0M102.8,448.6h0M199.1,445.3h0M150.5,466.3h0M189.0,479.7h0M143.3,423.9h0M144.7,461.3h0M121.9,428.5h0M135.0,439.1h0M184.5,449.6h0M204.3,419.7h0M108.7,419.8h0M137.4,429.6h0M166.4,462.5h0M194.7,456.6h0M224.2,454.1h0M160.4,461.6h0M215.4,412.1h0M157.7,464.3h0M192.5,464.4h0M130.7,431.4h0M213.0,436.8h0M197.3,456.1h0M181.2,474.5h0M116.8,420.5h0M215.8,412.3h0M107.7,446.7h0M199.5,429.1h0M194.6,473.7h0M155.8,432.1h0M212.1,418.2h0M223.1,410.8h0M110.6,416.7h0M203.8,440.9h0M135.0,466.0h0M172.4,477.6h0M223.3,417.9h0M190.6,454.9h0M190.2,458.4h0M121.1,423.2h0M179.1,468.9h0M218.0,412.4h0M190.1,446.4h0M205.9,463.7h0M181.6,464.7h0M134.3,429.4h0M165.0,477.2h0M137.7,472.1h0M195.0,438.2h0M198.6,435.7h0M149.1,464.8h0M211.0,456.9h0M157.2,434.7h0M185.9,481.6h0M205.6,428.1h0M147.1,452.3h0M224.0,389.6h0M182.4,446.0h0M210.4,443.3h0M139.6,433.1h0M199.0,431.5h0M114.6,449.0h0M146.6,455.9h0M203.0,451.4h0M221.3,396.6h0M143.9,443.1h0M168.4,466.7h0M139.5,457.8h0M117.0,458.7h0M191.9,437.6h0M198.1,478.1h0M129.6,450.8h0M219.5,411.3h0M226.8,439.5h0M158.8,440.1h0M206.2,422.1h0M102.7,438.2h0M205.1,435.7h0M147.8,449.0h0M215.2,465.6h0M141.0,433.4h0M217.9,448.8h0M148.3,421.0h0M193.7,470.5h0M224.8,398.6h0M207.4,420.9h0M154.7,441.4h0M135.4,471.0h0M151.3,422.1h0M144.7,431.3h0M128.6,423.4h0M198.3,431.4h0M149.1,437.1h0M152.1,444.1h0M216.9,411.9h0M216.2,441.3h0M140.4,450.9h0M173.8,474.4h0M118.1,414.4h0M190.6,473.7h0M159.9,461.1h0M141.2,451.2h0M133.0,454.4h0M193.5,474.3h0M194.3,429.7h0M159.0,471.0h0M206.4,434.4h0M151.0,434.4h0M146.0,429.9h0M174.6,444.0h0M157.0,471.6h0M202.3,428.8h0M207.7,424.0h0M149.6,445.5h0M153.2,468.3h0M132.0,434.1h0M143.4,436.4h0M149.6,414.5h0M222.5,451.2h0M214.6,416.9h0M221.0,416.8h0M226.3,437.9h0M142.8,436.3h0M223.3,451.2h0M208.8,437.9h0M209.8,445.6h0M200.4,433.7h0M201.7,449.7h0M210.9,451.5h0M219.9,448.9h0M155.6,431.0h0M209.7,440.8h0M159.8,462.8h0M130.4,442.2h0M144.6,442.2h0M218.8,421.5h0M210.3,427.6h0M140.1,428.1h0M184.4,445.5h0M133.8,456.6h0M207.4,462.0h0M212.5,444.8h0M208.6,434.4h0M144.3,430.5h0M188.1,466.1h0M151.5,458.9h0M189.5,434.5h0M191.8,451.7h0M156.1,427.4h0M218.5,413.2h0M129.1,424.6h0M123.5,454.5h0M196.9,450.5h0M194.0,435.8h0M185.7,465.3h0M187.1,444.8h0M221.7,417.9h0M200.2,472.6h0M230.8,424.2h0M135.0,465.6h0M128.2,454.5h0M222.5,395.0h0M197.3,435.8h0M150.0,457.3h0M169.8,472.5h0M207.1,422.3h0M156.8,470.6h0M136.7,425.5h0M169.9,446.5h0M141.9,444.5h0M153.8,465.7h0M172.2,454.7h0M174.5,451.6h0M213.5,421.2h0M143.1,423.9h0M201.3,426.9h0M198.5,432.3h0M197.6,430.3h0M110.3,437.8h0M223.1,403.8h0M177.5,459.8h0M138.2,436.6h0M200.4,454.8h0M146.4,440.3h0M116.1,442.4h0M228.9,435.9h0M222.1,448.6h0M190.8,458.3h0M155.5,475.8h0M151.9,453.0h0M131.5,428.6h0M214.3,416.8h0M146.7,435.2h0M115.4,421.6h0M215.8,465.0h0M114.0,446.7h0M200.2,424.3h0M146.8,437.5h0M172.6,460.1h0M192.1,465.7h0M153.8,424.2h0M221.9,393.1h0M153.9,466.0h0M99.0,434.4h0M131.6,444.9h0M215.3,422.5h0M114.0,438.3h0M193.1,437.1h0M195.1,474.7h0M144.2,439.9h0M126.3,427.2h0M181.6,471.4h0M179.3,459.4h0M223.2,440.5h0M209.2,436.1h0M161.8,453.3h0M204.7,472.3h0M167.0,477.7h0M154.4,435.2h0M167.3,459.5h0M177.4,449.5h0M178.4,475.4h0M150.3,419.9h0M190.7,438.0h0M122.5,452.0h0M142.3,436.2h0M126.7,423.1h0M194.8,474.4h0M219.6,407.2h0M201.6,474.8h0M125.4,419.5h0M201.4,438.6h0M221.5,423.9h0M133.7,470.3h0M205.9,438.3h0M100.3,436.9h0M125.7,466.5h0M146.4,435.5h0M152.7,461.0h0M157.8,435.6h0M179.1,478.5h0M229.0,437.7h0M142.4,446.7h0M196.0,449.8h0M147.0,422.1h0M229.3,433.7h0M171.0,463.9h0M153.0,438.6h0M157.9,443.9h0M155.0,461.9h0M155.3,449.8h0M132.9,443.5h0M104.1,431.2h0M179.5,455.7h0M142.4,444.2h0M159.0,476.0h0M163.4,448.1h0M137.9,430.3h0M120.6,422.0h0M154.4,423.8h0M131.2,428.8h0M186.2,453.0h0M101.4,427.9h0M176.6,441.9h0M165.5,475.6h0M184.5,458.7h0M134.0,452.7h0M217.4,419.3h0M217.8,452.5h0M150.1,428.9h0M100.5,438.4h0M223.6,453.9h0M138.7,439.5h0M160.4,470.1h0M115.9,444.5h0M148.5,431.7h0M163.0,447.8h0M220.2,423.6h0M165.0,456.8h0M145.0,447.6h0M215.6,460.5h0M210.1,463.1h0M129.5,456.3h0M197.5,459.6h0M155.6,459.2h0M209.2,451.0h0M158.0,460.1h0M206.8,445.7h0M137.0,456.2h0M178.8,458.9h0M191.1,427.1h0M205.3,464.3h0M192.5,446.6h0M102.3,460.4h0M197.7,458.1h0M186.4,441.0h0M130.3,449.2h0M220.0,444.0h0M142.8,446.6h0M217.0,427.0h0M205.8,441.1h0M149.9,418.7h0M110.5,418.9h0M148.8,420.7h0M160.7,445.7h0M110.7,428.4h0M119.9,441.6h0M143.3,448.3h0M203.1,420.8h0M146.1,435.0h0M146.2,454.2h0M119.0,433.5h0M192.1,433.6h0M164.3,448.7h0M173.8,451.4h0M148.4,420.3h0M204.3,469.1h0M134.3,437.7h0M196.4,434.2h0M219.6,405.8h0M214.7,432.5h0M215.5,418.2h0M172.8,463.6h0M209.6,445.8h0M191.5,435.5h0M108.2,430.8h0M183.1,461.1h0M201.5,433.9h0M225.1,407.3h0M135.7,425.7h0M217.3,463.4h0M148.8,448.4h0M147.0,445.0h0M175.3,447.3h0M135.2,432.5h0M141.6,439.3h0M111.1,443.9h0M132.3,445.7h0M202.6,467.1h0M229.2,426.2h0M135.6,431.7h0M194.4,430.5h0M138.5,425.4h0M150.5,448.7h0M155.4,439.9h0M165.3,457.1h0M204.0,455.6h0M152.1,431.9h0M101.7,458.9h0M110.1,437.6h0M226.3,443.5h0M196.3,442.1h0M173.3,470.1h0M126.1,441.0h0M221.5,454.1h0M136.1,462.5h0M154.5,450.1h0M168.1,478.3h0M228.1,416.9h0M218.9,450.8h0M199.9,436.8h0M230.1,434.5h0M196.8,441.4h0M216.8,413.6h0M159.4,463.8h0M211.8,446.5h0M200.5,421.9h0M221.8,386.4h0M222.4,383.0h0M223.9,405.6h0M220.8,401.4h0M223.2,392.8h0M221.9,378.3h0M221.6,383.4h0M222.2,387.7h0M222.3,380.6h0M221.2,393.0h0M222.0,381.8h0M222.0,390.3h0M221.8,382.0h0M220.8,395.6h0M223.0,395.5h0M220.8,398.5h0M220.6,399.9h0M221.4,383.2h0M221.1,396.5h0M221.3,387.9h0M220.4,409.0h0M223.1,401.4h0M222.2,393.7h0M222.7,389.7h0M220.5,401.8h0M220.7,402.4h0M221.1,394.8h0M222.4,394.9h0M221.3,403.4h0M222.0,380.2h0M222.2,409.7h0M222.9,399.5h0M223.5,400.2h0M223.1,411.0h0M220.5,406.0h0M222.4,387.4h0M223.1,398.2h0M221.3,404.8h0M222.2,384.2h0M222.0,382.1h0M221.8,387.7h0M222.5,400.7h0M220.5,399.5h0M222.9,409.0h0M222.5,409.4h0M223.3,400.5h0M222.5,403.9h0M221.6,379.7h0M223.3,402.9h0M221.3,391.5h0M222.9,393.4h0M220.6,404.2h0M221.6,385.2h0M221.0,403.9h0M221.6,408.8h0M221.9,384.9h0M222.5,383.1h0M221.9,379.1h0M221.0,391.3h0M222.8,385.9h0M221.7,407.8h0M223.8,408.2h0M223.0,407.7h0M222.0,397.7h0M222.4,402.9h0M220.4,411.7h0M223.2,409.1h0M222.9,393.5h0M221.8,388.1h0M223.5,398.1h0M118.8,413.1h0M119.9,421.5h0M116.0,420.8h0M121.2,416.4h0M120.7,417.1h0M118.3,420.0h0M120.2,418.6h0M118.9,415.6h0M122.1,420.0h0M117.4,422.1h0M119.2,418.4h0M116.4,420.5h0M117.5,415.9h0M120.6,419.9h0M118.5,410.4h0M119.0,412.0h0M117.5,419.6h0M118.9,411.3h0M118.3,417.7h0M118.3,413.5h0M119.7,413.1h0M119.7,414.9h0M117.2,416.9h0M119.4,413.7h0M122.7,420.7h0M118.3,412.1h0M118.3,411.5h0M119.8,414.9h0M119.7,421.3h0M118.5,412.0h0M118.4,412.0h0M118.8,417.2h0M118.3,412.4h0M120.0,421.1h0M117.6,417.5h0M119.7,413.9h0M118.9,410.5h0M120.2,421.8h0M118.3,410.9h0M116.1,419.7h0M119.5,415.4h0M117.2,418.4h0M121.9,418.5h0M118.3,415.9h0M121.6,418.5h0M151.8,418.6h0M152.3,420.3h0M149.7,410.7h0M148.3,410.0h0M150.7,412.3h0M148.6,411.5h0M153.1,422.9h0M148.2,419.8h0M146.1,421.0h0M148.9,406.4h0M148.4,412.2h0M148.8,421.7h0M149.1,421.5h0M148.6,412.9h0M149.2,407.1h0M153.1,423.3h0M146.0,423.0h0M150.6,414.2h0M148.4,409.0h0M148.3,409.9h0M150.6,419.5h0M145.4,424.0h0M151.0,418.8h0M148.3,409.4h0M151.7,423.8h0M148.8,407.4h0M147.3,418.1h0M147.8,414.0h0M149.2,407.8h0M150.9,416.0h0M149.1,406.3h0M149.3,407.5h0M148.9,409.2h0M150.4,423.6h0M149.8,418.2h0M149.6,409.8h0M145.8,423.7h0M148.1,421.3h0M149.5,409.8h0M146.7,421.5h0M149.2,409.7h0M149.2,409.9h0M145.2,424.0h0M148.0,413.9h0M149.4,409.2h0M104.3,425.1h0M105.2,422.0h0M106.8,424.4h0M103.8,420.2h0M105.0,424.8h0M102.7,424.6h0M102.8,423.8h0M104.0,418.6h0M104.3,420.4h0M106.2,422.8h0M104.7,420.9h0M104.2,420.8h0M103.5,419.6h0M104.9,419.5h0M105.4,423.9h0M104.3,421.0h0M104.1,419.0h0M105.0,425.5h0M104.6,420.7h0M103.9,421.4h0M104.3,420.8h0M106.5,424.7h0M104.4,419.8h0M105.3,419.3h0M104.5,418.6h0M104.5,417.6h0M103.1,421.2h0M104.5,418.7h0M103.9,421.3h0M104.3,417.9h0M103.6,420.3h0M103.5,422.3h0M105.2,421.8h0M104.5,417.6h0M106.0,422.6h0M105.9,423.0h0M103.4,422.8h0M105.7,424.0h0M105.8,421.4h0M104.8,417.9h0M104.6,420.4h0M103.0,423.9h0M103.0,421.5h0M104.9,417.8h0M104.4,419.3h0M63.2,472.3h0M67.3,466.9h0M71.3,461.8h0M76.4,461.8h0M76.4,455.7h0M79.4,447.3h0M82.4,460.8h0M79.4,471.9h0M70.3,475.0h0M73.4,479.6h0M70.3,490.5h0M69.9,495.8h0M85.5,453.7h0M88.5,447.7h0M89.5,465.9h0M86.1,470.9h0M89.1,476.0h0M91.5,458.8h0M93.0,472.3h0M93.6,442.6h0M94.6,450.7h0M96.6,456.8h0M98.6,444.6h0M100.6,442.6h0M93.6,477.0h0M91.5,494.2h0M83.5,452.7h0M128.9,479.0h0M134.0,492.1h0M146.1,488.1h0M152.2,499.2h0M153.2,491.1h0M159.3,495.2h0M164.3,495.8h0M181.5,502.2h0M114.8,472.3h0M153.4,491.5h0M152.3,499.5h0M164.9,496.1h0M180.9,502.9h0M166.0,492.6h0M87.4,466.0h0M92.1,462.8h0M89.3,450.9h0M89.0,455.1h0M94.5,451.1h0M93.0,442.1h0M97.4,424.7h0M88.0,458.0h0M97.7,461.2h0M89.0,466.2h0M91.5,452.9h0M93.8,453.2h0M96.6,463.7h0M89.8,464.5h0M89.8,457.7h0M87.9,457.2h0M89.6,467.8h0M94.0,444.1h0M97.5,428.8h0M95.0,453.8h0M86.2,453.3h0M87.4,468.0h0" fill="none" stroke="#5fa21c" stroke-width="4.4" stroke-linecap="round" clip-path="url(#ct)"/>
<path d="M95.6,467.9h0M97.6,476.0h0M102.7,463.8h0M103.7,470.9h0M108.7,472.9h0M109.7,477.0h0M114.8,468.9h0M121.9,459.4h0M132.0,453.7h0M160.3,465.5h0M167.3,464.2h0M148.1,465.5h0M137.0,466.9h0M124.9,485.1h0M130.6,485.7h0M136.0,488.5h0M158.9,489.5h0M166.3,492.1h0M96.2,490.7h0M90.5,492.5h0M76.0,491.1h0M84.9,480.4h0M70.9,502.6h0M92.6,505.3h0M106.7,469.9h0M111.8,473.9h0M150.0,467.5h0M159.1,465.2h0M167.2,464.0h0M194.2,485.8h0M178.7,494.3h0M202.9,489.2h0M142.0,476.6h0M239.1,529.2h0M155.9,487.2h0M174.1,482.3h0M206.1,494.9h0M222.3,530.7h0M163.6,480.7h0M177.0,491.4h0M159.4,476.0h0M206.8,494.7h0M182.9,483.5h0M195.6,500.2h0M175.0,486.0h0M205.0,496.2h0M156.8,476.1h0M200.7,504.6h0M203.2,489.0h0M158.1,481.1h0M189.0,489.8h0M182.7,489.3h0M201.1,497.9h0M213.0,501.4h0M151.4,478.9h0M182.4,480.8h0M133.4,475.3h0M184.9,494.2h0M196.7,498.9h0M127.4,471.9h0M182.6,483.2h0M198.8,491.6h0M190.3,500.7h0M183.6,496.6h0M194.0,503.0h0M210.9,498.5h0M205.4,493.1h0M164.5,491.6h0M198.9,498.0h0M171.7,493.5h0M198.2,503.7h0M203.6,504.5h0M188.9,484.2h0M161.5,485.8h0M145.6,475.2h0M125.2,474.1h0M174.4,481.9h0M163.7,479.3h0M185.3,496.4h0M213.9,516.7h0M181.7,497.7h0M185.6,489.7h0M177.3,490.7h0M235.2,524.3h0M203.8,510.6h0M169.5,480.2h0M184.5,494.9h0M206.6,496.9h0M204.4,504.4h0M175.6,482.8h0M241.3,527.2h0M124.6,475.0h0M171.7,485.7h0M189.4,489.3h0M218.8,520.1h0M169.9,483.4h0M175.9,488.4h0M193.7,490.2h0M175.1,478.8h0M201.6,495.0h0M150.7,477.6h0M198.3,502.8h0M148.1,476.6h0M213.4,516.0h0M167.4,489.8h0M235.6,519.5h0M190.8,487.3h0M134.9,475.4h0M189.1,499.3h0M164.5,478.9h0M172.8,477.6h0M200.6,488.2h0M164.8,488.7h0M217.5,503.4h0M200.1,501.8h0M191.5,493.8h0M220.7,511.8h0M205.2,495.0h0M193.8,488.3h0M222.7,533.0h0M140.9,479.3h0M140.3,473.1h0M221.8,513.0h0M208.4,508.3h0M124.1,471.4h0M232.3,520.4h0M214.3,520.2h0M203.9,497.9h0M212.0,510.7h0M158.2,489.3h0M200.3,497.7h0M157.5,481.3h0M182.3,494.6h0M133.6,476.0h0M228.7,521.3h0M188.7,488.8h0M218.4,517.0h0M163.4,479.4h0M200.8,488.1h0M197.4,499.8h0M181.3,494.7h0M198.0,488.9h0M168.2,487.8h0M230.0,510.6h0M172.3,482.4h0M220.5,531.7h0M216.5,503.2h0M153.7,478.5h0M161.7,482.9h0M172.9,487.3h0M225.0,528.0h0M226.7,531.3h0M204.9,496.9h0M228.7,514.7h0M137.8,478.4h0M188.5,495.7h0M133.5,477.0h0M175.7,489.2h0M193.9,492.1h0M169.8,482.1h0M231.2,531.0h0M138.4,478.7h0M126.4,474.3h0M174.7,491.9h0M191.1,485.7h0M151.5,476.3h0M167.6,492.5h0M176.1,482.8h0M201.2,495.3h0M189.5,495.5h0M188.6,487.0h0M218.2,512.9h0M154.2,476.9h0M117.6,471.7h0M233.5,526.0h0M234.5,523.2h0M218.6,519.2h0M157.4,476.7h0M188.6,482.5h0M117.3,472.6h0M126.7,471.0h0M220.1,512.6h0M166.5,478.0h0M193.4,501.9h0M127.5,473.6h0M205.6,495.9h0M164.6,476.6h0M222.6,509.5h0M218.8,502.6h0M125.8,474.9h0M231.6,531.9h0M155.6,478.0h0M206.5,503.1h0M154.3,480.3h0M233.0,522.9h0M196.1,495.3h0M188.0,497.5h0M209.5,494.8h0M204.0,492.4h0M179.3,480.8h0M160.4,490.1h0M132.9,474.1h0M166.7,479.7h0M151.6,478.6h0M142.0,475.8h0M217.0,503.5h0M184.4,481.3h0M232.3,514.4h0M172.0,480.9h0M174.3,478.4h0M192.2,487.3h0M177.7,488.0h0M129.4,476.9h0M206.0,496.3h0M138.5,473.0h0M212.3,502.3h0M223.4,516.3h0M179.4,488.1h0M178.9,480.1h0M176.4,486.1h0M190.7,483.1h0M193.6,499.7h0M208.7,501.4h0M217.9,517.8h0M148.0,475.4h0M168.7,486.9h0M159.3,478.4h0M196.2,502.8h0M151.2,478.9h0M223.9,505.0h0M148.5,476.4h0M206.8,506.5h0M201.4,489.9h0M170.1,477.6h0M180.1,491.6h0M211.4,502.1h0M215.5,504.4h0M214.6,510.8h0M234.1,522.7h0M183.3,493.8h0M209.5,499.8h0M170.7,477.4h0M186.6,498.0h0M180.9,483.6h0M124.8,474.7h0M155.5,482.3h0M213.5,499.7h0M169.7,476.9h0M146.9,480.7h0M170.3,485.7h0M213.8,519.2h0M230.5,520.1h0M168.0,481.6h0M159.2,486.1h0M167.8,481.6h0M222.9,530.8h0M230.5,513.0h0M171.8,481.3h0M221.4,504.7h0M139.6,476.0h0M190.3,500.6h0M150.0,480.8h0M192.3,486.0h0M207.7,505.6h0M200.4,497.4h0M211.1,497.2h0M157.7,481.1h0M146.8,477.1h0M199.3,497.7h0M176.0,486.8h0M132.2,477.7h0M197.7,491.3h0M176.6,491.7h0M216.1,507.4h0M181.7,484.0h0M179.0,489.9h0M226.0,507.2h0M163.5,481.0h0M183.1,496.1h0M239.4,525.1h0M161.6,485.7h0M192.0,494.9h0M139.0,473.9h0M167.0,477.6h0M194.8,494.6h0M159.9,476.6h0M203.7,509.4h0M204.8,499.9h0M174.3,484.9h0M159.0,488.9h0M189.6,498.3h0M174.1,484.0h0M218.1,500.2h0M159.7,488.8h0M189.1,496.0h0M199.7,505.4h0M221.3,532.0h0M200.2,491.9h0M166.2,484.5h0M161.2,486.2h0M198.8,489.0h0M160.0,482.6h0M212.7,503.7h0M184.0,487.8h0M190.0,493.6h0M219.2,502.0h0M228.7,520.2h0M127.2,476.0h0M225.0,521.0h0M163.2,482.4h0M181.5,486.5h0M227.5,527.8h0M216.4,501.5h0M195.0,498.1h0M201.4,496.1h0M119.8,470.4h0M222.2,528.0h0M198.5,486.6h0M165.9,478.1h0M226.6,512.1h0M222.6,514.0h0M176.9,491.0h0M216.7,517.6h0M200.3,490.5h0M185.1,489.6h0M213.9,520.6h0M134.9,472.1h0M199.4,502.4h0M187.8,496.0h0M190.5,494.3h0M138.8,472.5h0M180.5,481.4h0M189.4,499.9h0M165.5,486.0h0M173.7,486.8h0M216.2,522.6h0M204.0,490.8h0M202.8,499.1h0M144.1,478.0h0M174.1,489.3h0M188.3,495.3h0M191.1,495.9h0M222.7,527.9h0M154.1,479.1h0M155.7,477.5h0M130.9,473.7h0M173.6,483.7h0M233.8,516.7h0M149.9,477.0h0M218.0,507.7h0M166.1,482.1h0M182.3,489.3h0M175.5,491.2h0M123.1,470.9h0M193.8,499.2h0M165.2,479.7h0M170.9,488.2h0M197.7,492.3h0M217.6,521.3h0M235.3,525.0h0M205.9,492.4h0M232.2,530.1h0M219.7,527.3h0M169.0,485.2h0M222.8,521.1h0M185.0,496.4h0M179.0,482.2h0M211.2,515.3h0M222.4,505.0h0M184.0,483.0h0M231.8,520.9h0M207.6,496.8h0M174.5,487.7h0M154.7,487.3h0M169.3,487.3h0M228.0,518.5h0M195.9,492.3h0M177.3,493.6h0M171.1,491.3h0M188.5,494.6h0M175.8,483.8h0M209.0,501.7h0M127.7,475.2h0M167.0,488.0h0M216.6,520.8h0M197.2,501.0h0M193.4,490.0h0M186.2,493.8h0M184.7,495.3h0M167.5,483.3h0M162.3,477.0h0M202.8,492.5h0M170.8,478.6h0M156.1,480.9h0M204.1,497.0h0M179.2,485.7h0M214.5,502.1h0M136.8,477.3h0M204.7,509.6h0M215.7,501.5h0M188.4,487.3h0M157.5,479.8h0M215.5,505.7h0M190.3,483.2h0M159.0,480.1h0M234.2,519.1h0M175.4,481.9h0M226.6,523.0h0M142.7,473.2h0M136.7,477.0h0M175.1,478.3h0M204.0,508.7h0M163.0,478.7h0M220.9,525.9h0M190.9,490.6h0M209.6,496.2h0M161.2,489.4h0M182.8,489.7h0M166.1,477.4h0M167.8,479.5h0M234.8,533.2h0M224.3,526.2h0M170.8,482.6h0M196.5,499.6h0M133.5,471.4h0M218.1,522.2h0M202.9,498.7h0M189.7,487.3h0M186.0,489.7h0M173.0,491.6h0M198.6,493.7h0M165.3,482.7h0M190.5,489.3h0M166.2,482.4h0M216.2,521.1h0M197.0,502.0h0M231.1,533.6h0M181.3,481.8h0M189.1,482.8h0M180.4,495.6h0M149.3,479.7h0M178.7,489.8h0M201.9,491.1h0M222.1,524.7h0M218.0,509.4h0M185.1,490.8h0M179.1,484.7h0M182.5,487.5h0M206.7,492.3h0M197.4,485.5h0M212.7,519.7h0M131.9,473.5h0M145.7,479.6h0M226.2,513.3h0M172.1,484.4h0M209.4,510.9h0M168.5,485.5h0M217.2,504.4h0M138.9,476.8h0M118.8,470.2h0M184.7,498.7h0M139.0,478.6h0M187.0,496.1h0M187.9,497.2h0M128.5,472.3h0M144.2,479.6h0M221.1,507.8h0M207.2,501.5h0M233.1,526.9h0M185.7,494.7h0M127.3,472.9h0M214.5,501.9h0M204.3,498.9h0M210.3,496.4h0M184.5,468.4h0M186.6,469.4h0M188.5,466.0h0M189.8,466.8h0M190.7,465.7h0M192.5,466.7h0M194.7,464.3h0M197.6,464.1h0M199.1,465.0h0M200.9,462.3h0M201.9,464.5h0M204.0,462.1h0M206.0,460.6h0M208.2,462.7h0M210.5,460.6h0M211.8,462.3h0M214.0,460.0h0M215.9,459.8h0M217.1,459.4h0M218.2,458.2h0M220.6,459.1h0M222.5,457.0h0M225.0,455.5h0M225.4,456.0h0M227.4,456.6h0M260.2,450.6h0M228.5,459.1h0M257.2,458.0h0M228.3,453.6h0M239.8,457.2h0M244.3,451.6h0M245.8,455.7h0M240.1,450.8h0M240.5,458.3h0M256.7,457.7h0M237.8,451.0h0M256.2,452.6h0M230.8,458.1h0M234.5,456.1h0M263.4,452.0h0M236.8,455.7h0M240.2,455.3h0M255.0,448.7h0M247.5,454.3h0M238.8,455.2h0M259.0,452.4h0M255.5,454.5h0M265.9,449.8h0M256.1,452.9h0M236.7,458.9h0M244.2,453.5h0M241.9,452.4h0M248.7,457.6h0M262.3,450.6h0M252.2,453.6h0M246.6,453.2h0M259.8,449.3h0M237.4,454.0h0M229.2,453.0h0M249.8,451.4h0M251.6,457.8h0M226.0,455.7h0M246.4,452.6h0M254.8,448.2h0M247.2,453.5h0M255.4,462.2h0M239.7,451.2h0M260.3,455.9h0M250.6,458.7h0M247.5,460.7h0M249.0,459.2h0M255.1,455.5h0M265.9,447.2h0M235.1,456.8h0M255.9,450.5h0M261.2,454.0h0M246.4,452.4h0M237.0,452.2h0M242.0,457.6h0M248.3,457.9h0M256.8,456.2h0M254.6,449.3h0M232.3,453.8h0M261.9,449.9h0M250.3,458.5h0M250.9,452.4h0M265.7,450.7h0M249.9,458.3h0M247.2,452.6h0M226.0,457.3h0M251.8,461.5h0M253.7,459.7h0M250.4,455.8h0M252.4,455.9h0M251.6,460.1h0M243.6,459.2h0M260.6,452.0h0M237.8,455.5h0M245.6,453.1h0M247.2,458.2h0M261.6,453.7h0M250.5,455.4h0M226.4,455.4h0M255.3,450.1h0M262.0,456.3h0M236.4,452.3h0M238.2,452.1h0M265.9,450.6h0M255.6,462.5h0M255.3,452.1h0M251.7,450.1h0M252.6,457.7h0M259.4,451.4h0M255.8,453.3h0M255.9,462.5h0M250.8,461.0h0M253.2,453.3h0M245.9,450.2h0M255.8,451.7h0M253.0,462.2h0M257.3,450.2h0M233.6,458.8h0M239.7,458.3h0M227.1,454.9h0M260.6,456.4h0M245.7,451.7h0M225.8,458.9h0M231.8,452.7h0M228.9,454.1h0M251.2,452.5h0M255.9,450.6h0M248.2,451.7h0M259.4,447.7h0M237.7,454.8h0M244.7,457.2h0M232.4,455.6h0M253.6,454.0h0M252.6,456.0h0M253.1,457.8h0M265.7,450.0h0M246.2,456.1h0M238.6,456.5h0M244.8,453.2h0M258.1,450.5h0M251.7,448.5h0M248.2,455.4h0M256.7,460.7h0M251.3,451.2h0M260.0,447.7h0M256.5,453.1h0M237.6,495.1h0M232.2,531.0h0M237.3,534.4h0M244.7,497.0h0M251.1,460.5h0M255.1,456.2h0M240.5,495.6h0M244.8,504.0h0M237.5,523.4h0M234.5,516.7h0M231.9,526.4h0M239.9,509.3h0M246.6,500.1h0M243.2,503.0h0M245.0,508.2h0M249.4,482.3h0M241.2,480.3h0M242.4,479.6h0M244.2,512.1h0M241.7,533.6h0M236.9,504.5h0M244.4,512.3h0M234.4,516.3h0M240.2,517.1h0M244.6,485.4h0M256.5,463.3h0M246.8,501.0h0M260.7,461.8h0M250.4,474.6h0M239.9,494.8h0M239.5,491.9h0M241.3,507.5h0M237.7,508.4h0M233.0,530.8h0M247.5,488.2h0M243.2,517.4h0M239.6,516.0h0M251.7,462.5h0M232.7,530.5h0M249.2,469.9h0M245.0,533.9h0M244.7,470.8h0M245.0,520.7h0M247.4,484.1h0M241.6,531.7h0M243.4,505.2h0M239.0,504.5h0M240.3,493.6h0M241.4,481.0h0M243.3,478.5h0M239.8,498.6h0M243.6,477.3h0M237.9,532.2h0M244.6,482.9h0M256.9,457.6h0M242.0,497.7h0M251.9,462.5h0M248.6,490.5h0M255.6,472.4h0M236.3,497.3h0M244.7,522.9h0M256.2,454.7h0M260.8,455.4h0M234.1,511.0h0M260.5,461.7h0M239.2,500.5h0M254.9,459.7h0M249.0,470.0h0M241.6,507.3h0M232.0,520.8h0M249.7,466.3h0M236.1,512.3h0M240.3,482.9h0M234.7,527.0h0M240.6,483.1h0M245.5,472.4h0M237.4,498.8h0M236.5,527.0h0M244.0,497.3h0M241.7,486.1h0M247.7,470.6h0M245.3,473.1h0M234.8,515.8h0M257.1,458.1h0M235.5,524.7h0M240.3,496.6h0M249.0,474.8h0M235.8,515.8h0M241.1,479.0h0M249.0,482.2h0M240.7,516.4h0M242.2,523.1h0M246.9,498.4h0M248.0,496.7h0M244.5,494.4h0M235.1,513.2h0M248.6,488.0h0M244.7,480.4h0M243.2,489.4h0M252.6,461.5h0M235.8,503.5h0M249.8,479.2h0M250.3,474.3h0M253.1,474.8h0M242.6,487.9h0M238.7,488.6h0M234.4,511.7h0M239.6,496.8h0M238.3,493.1h0M244.8,525.3h0M239.3,492.4h0M250.1,475.3h0M257.5,456.0h0M237.7,529.7h0M232.8,519.5h0M235.9,526.9h0M242.9,515.3h0M244.1,488.2h0M254.9,460.2h0M252.7,469.4h0M239.4,505.8h0M240.6,479.0h0M235.2,518.7h0M237.5,534.4h0M254.3,468.7h0M256.3,467.0h0M244.0,507.4h0M261.8,454.6h0M242.9,522.7h0M243.0,521.4h0M242.2,496.8h0M253.9,458.6h0M246.3,504.2h0M233.0,526.8h0M265.3,450.8h0M257.4,454.4h0M250.4,463.6h0M241.3,480.1h0M244.2,519.9h0M239.0,520.3h0M244.7,486.1h0M246.7,475.9h0M238.9,509.6h0M234.4,512.1h0M240.3,520.0h0M242.1,478.6h0M244.8,524.7h0M256.4,463.4h0M244.4,492.4h0M244.2,535.1h0M255.5,455.5h0M239.1,501.8h0M248.7,476.5h0M267.1,450.4h0" fill="none" stroke="#626262" stroke-width="4.4" stroke-linecap="round" clip-path="url(#ct)"/>
<path d="M62.9,654.4h0M67.4,646.6h0M70.9,659.6h0M70.9,667.2h0M73.2,653.9h0M72.0,647.1h0M76.6,643.6h0M78.9,647.1h0M80.7,653.5h0M83.0,653.5h0M85.7,659.6h0M88.0,649.3h0M89.2,652.8h0M78.9,632.2h0M83.4,632.2h0M86.9,639.0h0M91.5,635.6h0M89.2,642.5h0M86.9,626.5h0M91.5,621.9h0M93.7,607.0h0M97.2,615.0h0M94.9,626.5h0M84.6,658.5h0M90.8,660.3h0M164.5,609.0h0M121.5,581.1h0M200.4,584.4h0M172.3,606.2h0M158.4,586.5h0M189.0,591.6h0M156.6,595.5h0M198.2,606.1h0M211.2,609.0h0M142.8,579.1h0M95.9,617.2h0M117.0,615.1h0M205.2,600.1h0M146.8,590.2h0M137.3,603.1h0M208.6,593.9h0M138.2,599.4h0M113.9,599.2h0M176.3,607.7h0M130.3,600.3h0M106.3,608.4h0M220.8,614.8h0M128.9,605.3h0M129.6,613.1h0M93.5,634.1h0M222.6,620.5h0M162.3,598.6h0M100.0,623.0h0M165.5,594.2h0M192.8,582.2h0M187.6,596.2h0M151.9,589.9h0M93.8,638.6h0M191.3,601.0h0M103.9,607.6h0M131.4,581.2h0M175.0,589.8h0M165.4,603.9h0M211.5,605.9h0M142.0,598.1h0M119.5,571.6h0M223.5,616.8h0M147.2,595.7h0M199.8,586.3h0M107.1,623.0h0M174.7,591.6h0M220.3,606.9h0M155.9,588.1h0M113.1,610.4h0M109.2,618.6h0M102.1,631.9h0M137.2,584.6h0M210.5,611.5h0M209.3,611.5h0M163.7,597.8h0M171.5,592.6h0M182.6,599.8h0M105.8,622.1h0M221.6,620.4h0M139.2,606.4h0M155.7,579.9h0M122.4,576.6h0M105.9,603.0h0M116.1,617.2h0M160.4,580.4h0M216.2,606.3h0M125.9,580.3h0M130.4,603.6h0M172.4,609.6h0M150.0,588.7h0M111.3,593.4h0M218.2,613.8h0M171.8,606.6h0M98.2,611.9h0M222.1,613.7h0M199.7,585.9h0M139.3,599.9h0M201.4,581.2h0M148.3,582.5h0M204.2,601.9h0M178.7,602.4h0M224.2,616.6h0M148.3,588.6h0M191.6,593.4h0M219.8,616.0h0M167.4,608.4h0M155.1,605.9h0M162.5,586.2h0M105.8,609.6h0M95.7,632.0h0M218.3,609.2h0M150.1,592.5h0M211.7,596.6h0M118.9,607.9h0M193.1,596.0h0M109.2,595.0h0M107.3,612.7h0M217.8,617.5h0M145.8,588.3h0M97.3,621.2h0M150.5,604.9h0M152.7,600.4h0M180.9,601.1h0M115.2,607.4h0M148.7,592.4h0M157.2,589.5h0M107.2,602.2h0M111.7,586.2h0M142.6,586.4h0M134.9,595.3h0M209.6,610.2h0M103.7,602.6h0M169.0,598.9h0M101.2,614.8h0M108.2,594.5h0M110.9,604.6h0M212.1,599.0h0M168.9,595.3h0M184.4,587.4h0M129.5,613.7h0M93.8,625.0h0M109.0,601.3h0M220.8,612.9h0M156.9,579.0h0M184.7,597.3h0M198.0,586.1h0M116.4,607.7h0M148.1,608.2h0M99.3,634.9h0M216.2,606.3h0M146.3,581.1h0M138.3,590.2h0M201.4,595.5h0M113.5,610.3h0M155.4,585.9h0M210.1,603.5h0M185.3,609.7h0M110.7,588.8h0M176.6,595.4h0M145.3,603.7h0M108.5,611.9h0M155.0,600.6h0M183.8,602.7h0M143.5,588.6h0M146.7,603.3h0M199.7,604.8h0M118.9,601.4h0M171.2,607.7h0M134.2,584.3h0M112.4,590.6h0M186.5,589.4h0M161.0,605.8h0M99.1,626.4h0M210.4,600.0h0M190.4,581.1h0M219.9,607.8h0M174.9,590.2h0M113.7,579.9h0M217.6,605.8h0M121.8,571.0h0M104.3,600.7h0M134.0,588.5h0M165.6,606.0h0M102.1,607.1h0M161.6,602.2h0M167.9,596.3h0M221.1,614.5h0M114.3,611.8h0M144.3,573.0h0M94.6,634.3h0M198.7,605.2h0M129.6,599.9h0M153.6,596.4h0M212.8,601.8h0M184.9,597.7h0M206.5,602.6h0M208.2,609.7h0M131.7,608.5h0M193.3,603.6h0M143.5,598.6h0M113.8,618.9h0M223.2,615.7h0M138.6,602.8h0M103.3,603.9h0M128.6,585.0h0M118.7,604.7h0M149.4,608.2h0M108.9,600.8h0M211.2,607.6h0M162.6,588.5h0M223.0,617.2h0M208.7,602.7h0M153.2,588.0h0M143.6,598.1h0M132.8,592.1h0M98.4,630.6h0M139.3,589.3h0M163.3,587.9h0M135.8,607.9h0M117.8,595.2h0M197.8,582.8h0M181.8,596.8h0M111.5,616.5h0M199.4,580.3h0M202.8,597.5h0M199.2,588.3h0M103.5,603.4h0M194.2,594.3h0M110.8,604.3h0M102.3,624.3h0M134.4,605.1h0M95.4,623.2h0M111.7,599.8h0M93.9,628.0h0M130.1,595.7h0M114.2,611.2h0M214.6,614.8h0M173.8,591.5h0M157.6,588.8h0M145.9,602.4h0M96.0,623.0h0M191.4,585.3h0M161.1,608.3h0M128.3,609.1h0M173.7,598.4h0M120.6,580.5h0M108.2,599.9h0M212.8,606.9h0M109.9,617.3h0M168.3,582.9h0M196.6,605.3h0M110.5,614.3h0M158.1,581.7h0M105.4,604.7h0M202.2,590.8h0M223.4,616.9h0M158.6,589.2h0M116.9,585.9h0M198.5,580.3h0M183.2,593.4h0M175.8,600.3h0M119.3,614.8h0M148.1,586.2h0M138.8,580.3h0M195.7,595.6h0M150.5,580.0h0M194.2,600.2h0M162.7,589.9h0M152.8,584.0h0M156.1,607.3h0M219.4,607.6h0M101.0,633.5h0M160.0,582.0h0M119.1,602.3h0M179.4,601.5h0M110.5,600.0h0M108.4,602.0h0M142.8,595.2h0M191.8,590.4h0M185.5,588.5h0M119.4,571.8h0M178.6,609.2h0M128.9,581.5h0M112.2,610.3h0M131.6,580.4h0M139.5,596.9h0M98.7,635.3h0M129.6,613.9h0M98.4,628.3h0M172.3,585.8h0M101.3,624.4h0M186.6,590.3h0M138.2,592.6h0M162.5,585.7h0M168.8,604.2h0M107.7,603.2h0M152.0,589.3h0M171.7,590.3h0M174.4,594.9h0M103.6,623.7h0M141.2,579.8h0M205.9,609.8h0M104.6,621.5h0M131.3,574.6h0M136.7,609.9h0M194.9,593.1h0M96.7,632.8h0M149.2,595.8h0M156.5,593.0h0M193.5,584.5h0M95.2,628.5h0M165.6,608.3h0M103.3,615.9h0M127.0,605.3h0M142.1,584.1h0M201.7,599.9h0M120.4,571.8h0M196.0,598.7h0M117.0,616.2h0M220.2,618.2h0M134.9,594.2h0M158.6,585.2h0M212.4,600.3h0M98.9,622.2h0M208.4,601.8h0M92.9,633.7h0M93.2,633.3h0M182.8,608.0h0M164.1,586.8h0M143.2,596.1h0M216.7,606.5h0M211.3,607.3h0M206.2,590.4h0M108.6,598.2h0M139.0,609.7h0M201.6,583.3h0M121.2,571.5h0M132.8,585.0h0M207.5,599.2h0M104.6,607.6h0M174.9,590.6h0M217.9,611.6h0M159.3,595.0h0M175.2,601.7h0M131.7,585.5h0M139.2,596.1h0M114.3,598.6h0M201.4,591.1h0M156.9,586.5h0M102.6,628.3h0M212.2,598.5h0M112.5,617.0h0M172.8,600.4h0M207.4,600.1h0M213.3,597.8h0M182.1,598.4h0M146.2,584.4h0M199.6,603.6h0M109.5,610.8h0M196.7,591.1h0M107.3,606.3h0M138.6,603.7h0M112.2,595.3h0M161.8,584.2h0M155.0,593.4h0M132.3,609.1h0M169.5,588.1h0M151.8,577.8h0M147.4,580.8h0M188.6,599.8h0M110.3,613.5h0M127.7,571.6h0M145.7,605.7h0M172.7,587.4h0M112.0,599.3h0M126.2,594.5h0M103.2,607.0h0M205.1,597.8h0M138.3,593.9h0M161.4,588.3h0M142.4,606.5h0M188.4,588.1h0M147.1,608.9h0M172.1,591.4h0M130.0,603.0h0M95.7,625.0h0M139.8,576.7h0M102.2,614.6h0M136.7,589.3h0M183.8,610.7h0M141.4,593.8h0M138.0,590.9h0M202.9,586.9h0M162.2,588.4h0M143.6,588.5h0M137.5,600.1h0M193.5,589.7h0M200.0,604.0h0M118.5,605.8h0M119.0,597.8h0M142.2,597.4h0M92.7,635.5h0M103.0,611.7h0M204.5,590.5h0M124.6,594.1h0M144.6,591.8h0M176.2,609.0h0M136.7,603.6h0M133.1,585.7h0M190.6,599.2h0M95.9,617.6h0M196.2,583.3h0M112.7,613.7h0M133.1,601.5h0M178.1,605.6h0M193.0,600.2h0M173.1,599.0h0M160.6,595.5h0M132.0,574.9h0M98.8,633.4h0M109.6,595.3h0M164.0,593.2h0M205.5,600.6h0M92.3,632.1h0M193.7,590.0h0M224.5,618.8h0M186.7,596.4h0M180.3,605.4h0M146.4,589.5h0M192.7,600.8h0M96.2,628.3h0M111.2,598.5h0M111.2,620.1h0M154.4,605.4h0M143.9,604.1h0M163.7,587.8h0M162.0,601.8h0M206.5,595.3h0M187.9,583.9h0M138.6,584.9h0M161.5,583.6h0M124.3,590.2h0M132.9,608.2h0M107.1,606.4h0M125.6,576.1h0M211.4,607.6h0M190.9,598.5h0M109.9,594.6h0M194.5,587.0h0M166.0,596.7h0M192.0,583.6h0M156.6,593.4h0M138.1,604.3h0M102.5,605.6h0M207.3,606.1h0M164.4,606.6h0M122.5,577.7h0M199.3,603.4h0M154.8,590.2h0M164.3,602.5h0M120.0,609.8h0M223.9,617.2h0M143.5,576.0h0M187.0,589.0h0M147.5,591.2h0M139.5,589.3h0M185.3,609.2h0M220.3,610.2h0M123.9,580.9h0M128.0,613.8h0M128.9,611.2h0M142.0,595.6h0M165.6,597.5h0M155.9,595.3h0M141.9,608.6h0M162.7,581.0h0M129.9,609.1h0M126.0,566.1h0M118.7,606.5h0M195.2,603.6h0M161.7,600.7h0M205.4,608.7h0M154.4,592.2h0M94.5,634.7h0M226.9,621.4h0M137.2,581.8h0M171.7,596.9h0M207.5,590.8h0M202.5,596.8h0M138.7,579.4h0M114.2,595.9h0M214.1,615.2h0M128.4,573.0h0M107.6,619.0h0M144.8,578.0h0M131.3,583.3h0M143.0,607.3h0M168.4,604.7h0M110.7,606.2h0M158.0,600.8h0M152.9,588.9h0M151.0,606.8h0M173.7,608.6h0M152.5,588.7h0M165.0,589.2h0M195.8,582.5h0M108.7,606.4h0M152.8,582.7h0M216.9,613.8h0M108.2,609.2h0M180.0,593.5h0M141.2,593.2h0M162.0,589.6h0M142.8,589.4h0M95.9,626.4h0M142.8,589.8h0M152.5,599.0h0M108.7,609.6h0M100.8,625.6h0M96.3,635.1h0M159.5,593.6h0M208.0,595.5h0M122.0,611.7h0M102.8,614.7h0M97.7,625.6h0M198.3,602.6h0M111.9,584.8h0M172.9,587.7h0M112.6,613.0h0M207.1,605.3h0M128.4,606.5h0M173.0,599.1h0M92.0,640.1h0M133.8,597.7h0M152.9,584.8h0M128.3,572.0h0M96.7,617.0h0M183.7,597.5h0M183.0,600.1h0M163.1,585.1h0M129.3,599.2h0M139.1,584.7h0M219.2,613.7h0M127.1,614.2h0M140.3,590.8h0M115.3,614.3h0M214.5,606.5h0M195.7,592.4h0M111.5,620.2h0M186.3,590.0h0M189.7,599.1h0M173.1,598.6h0M174.8,600.9h0M144.6,605.3h0M220.0,616.4h0M93.2,633.1h0M145.9,600.3h0M142.4,606.6h0M165.1,586.3h0M190.6,588.4h0M213.5,602.7h0M139.2,600.5h0M111.3,599.1h0M145.0,586.1h0M160.3,597.6h0M111.8,620.9h0M123.8,583.1h0M134.2,607.1h0M147.1,596.8h0M124.3,611.8h0M189.8,582.2h0M165.6,586.7h0M200.2,595.5h0M109.6,606.8h0M109.6,606.3h0M216.8,609.2h0M162.6,593.7h0M132.8,601.3h0M195.5,583.7h0M175.9,595.0h0M189.2,591.2h0M165.5,591.2h0M142.2,587.4h0M134.7,580.0h0M158.9,595.3h0M121.3,578.4h0M181.6,607.7h0M116.4,608.6h0M98.9,609.6h0M125.9,587.8h0M103.5,628.9h0M140.7,600.5h0M105.4,603.9h0M150.7,603.9h0M184.0,588.3h0M113.1,589.4h0M171.9,589.9h0M123.4,614.6h0M156.4,579.7h0M147.4,584.9h0M160.9,608.8h0M167.9,604.7h0M119.2,591.8h0M200.6,585.5h0M223.5,620.2h0M147.5,581.8h0M112.2,618.2h0M116.2,613.3h0M204.1,604.9h0M133.2,574.8h0M108.8,612.2h0M194.3,591.2h0M130.6,602.1h0M112.2,590.7h0M148.5,582.5h0M199.5,588.5h0M100.6,615.7h0M142.2,595.8h0M168.1,593.9h0M183.3,600.9h0M182.5,608.8h0M125.2,606.4h0M116.7,608.4h0M134.1,610.2h0M201.3,591.9h0M225.3,620.4h0M153.8,590.2h0M213.7,614.5h0M98.1,620.2h0M147.9,581.1h0M201.5,606.9h0M130.3,603.9h0M214.5,614.4h0M202.5,584.7h0M143.4,574.1h0M200.1,597.6h0M117.8,585.0h0M119.5,603.2h0M104.1,617.3h0M174.2,608.0h0M162.8,603.8h0M120.8,584.7h0M225.4,620.9h0M143.3,584.7h0M216.6,615.3h0M111.7,587.9h0M95.2,636.8h0M113.8,584.0h0M159.0,596.1h0M159.7,603.1h0M146.7,603.1h0M215.1,607.7h0M200.9,597.7h0M100.1,611.5h0M121.0,598.9h0M151.1,607.8h0M129.1,594.2h0M142.2,590.8h0M138.7,585.9h0M157.0,600.5h0M200.9,589.5h0M171.4,584.4h0M191.1,595.5h0M135.7,592.9h0M202.8,598.3h0M118.2,577.0h0M110.5,600.7h0M217.6,606.1h0M209.9,593.3h0M206.7,607.5h0M107.9,598.8h0M203.0,603.2h0M180.4,594.6h0M139.0,584.8h0M144.6,603.7h0M118.6,612.3h0M156.7,583.9h0M159.8,603.9h0M102.8,619.0h0M141.5,579.8h0M166.2,595.2h0M204.5,608.3h0M125.5,586.7h0M199.0,582.6h0M223.0,614.0h0M205.0,607.5h0M147.0,594.9h0M156.3,592.4h0M118.1,609.3h0M153.0,579.8h0M115.6,617.2h0M135.3,607.6h0M214.7,613.3h0M96.7,624.4h0M113.1,611.2h0M95.5,626.3h0M207.2,608.0h0M143.4,577.7h0M127.6,582.5h0M104.9,628.2h0M116.9,580.6h0M222.0,615.0h0M101.9,605.3h0M208.6,600.5h0M164.7,601.0h0M122.1,580.3h0M174.3,594.6h0M142.7,599.4h0M167.2,597.8h0M122.2,585.3h0M219.7,618.3h0M169.8,586.4h0M120.6,614.2h0M107.6,623.7h0M154.2,598.4h0M219.5,608.8h0M125.4,607.4h0M112.5,620.3h0M152.8,592.9h0M142.6,595.0h0M196.0,582.7h0M139.6,595.0h0M153.2,594.9h0M148.2,602.2h0M189.3,600.4h0M183.6,595.3h0M123.9,611.9h0M204.6,584.8h0M200.6,603.6h0M153.9,581.4h0M137.5,592.1h0M114.2,592.6h0M163.2,590.5h0M130.2,584.8h0M197.9,593.0h0M123.0,606.8h0M137.0,606.8h0M197.2,586.2h0M129.1,597.8h0M193.6,602.8h0M139.7,609.7h0M140.3,591.2h0M149.1,595.6h0M136.0,607.9h0M92.8,631.6h0M167.8,609.4h0M102.7,605.9h0M173.6,590.7h0M99.4,634.3h0M192.5,595.8h0M210.4,605.2h0M141.2,593.3h0M127.4,609.6h0M155.7,580.9h0M197.3,583.5h0M180.9,596.6h0M173.9,606.3h0M188.3,589.8h0M163.4,607.8h0M104.1,615.8h0M151.9,601.6h0M173.5,600.8h0M151.1,608.2h0M212.8,597.1h0M155.7,591.9h0M165.1,583.8h0M170.4,606.6h0M138.4,590.3h0M134.9,590.0h0M128.9,595.1h0M143.9,609.3h0M141.3,600.0h0M206.7,610.5h0M156.9,586.0h0M128.4,568.8h0M138.3,592.9h0M102.8,625.6h0M158.8,597.9h0M151.1,593.5h0M139.8,600.6h0M166.5,598.8h0M154.1,588.9h0M124.1,601.5h0M118.5,600.4h0M115.6,614.5h0M153.7,598.9h0M174.9,600.6h0M102.6,623.1h0M177.6,608.7h0M143.3,585.0h0M194.7,599.9h0M210.3,595.5h0M106.4,624.3h0M105.9,624.6h0M169.7,596.2h0M161.2,597.3h0M177.9,596.0h0M145.2,605.0h0M181.6,608.8h0M102.9,603.9h0M171.6,602.3h0M118.6,595.7h0M125.1,610.4h0M138.9,583.6h0M171.6,598.5h0M117.6,592.1h0M93.7,631.8h0M205.2,610.0h0M177.9,602.3h0M97.2,621.0h0M111.7,592.2h0M94.4,626.8h0M155.7,582.9h0M148.7,592.6h0M107.4,597.2h0M145.2,593.5h0M95.2,636.1h0M109.2,605.6h0M156.4,605.5h0M106.4,607.0h0M96.6,623.0h0M137.5,582.8h0M192.9,591.9h0M149.4,598.0h0M104.6,618.2h0M171.2,600.1h0M188.8,596.2h0M169.2,609.2h0M205.2,606.1h0M142.5,596.5h0M218.2,603.6h0M147.6,576.0h0M105.9,603.9h0M126.0,588.2h0M180.7,609.0h0M133.2,604.1h0M185.2,600.1h0M171.5,606.3h0M222.6,618.9h0M178.7,607.9h0M125.3,595.6h0M199.4,584.4h0M160.3,606.3h0M152.8,579.5h0M216.6,607.8h0M93.0,636.3h0M189.0,599.9h0M167.7,601.4h0M140.7,599.7h0M110.3,611.2h0M186.6,599.2h0M121.9,607.2h0M147.8,591.7h0M169.5,605.8h0M194.5,594.6h0M214.3,606.0h0M164.9,592.3h0M138.5,582.1h0M108.8,620.8h0M103.0,625.9h0M145.7,582.5h0M160.1,586.7h0M132.8,608.2h0M139.5,591.0h0M199.9,583.9h0M206.8,603.6h0M98.6,622.8h0M107.0,599.6h0M139.4,595.5h0M130.4,604.7h0M209.8,604.6h0M111.7,606.1h0M139.6,603.9h0M160.2,603.3h0M110.0,618.7h0M114.9,614.9h0M217.9,609.4h0M212.7,609.2h0M147.1,601.0h0M153.4,603.2h0M152.1,579.2h0M144.7,608.6h0M115.1,608.6h0M128.8,581.4h0M135.2,596.0h0M114.6,615.9h0M202.2,606.2h0M150.2,579.2h0M119.7,588.9h0M201.3,605.3h0M173.5,605.4h0M197.0,601.5h0M184.5,587.4h0M117.8,608.2h0M144.0,590.3h0M203.0,593.3h0M99.4,622.1h0M159.3,601.5h0M96.4,639.5h0M141.0,602.1h0M150.6,585.1h0M208.7,601.5h0M141.4,598.5h0M107.8,622.9h0M130.6,607.5h0M101.1,605.0h0M141.0,590.2h0M116.1,591.3h0M155.4,579.4h0M150.8,582.0h0M103.2,630.3h0M147.1,592.1h0M150.7,597.7h0M107.2,606.4h0M178.4,599.7h0M135.6,583.4h0M179.4,609.8h0M164.2,606.4h0M172.0,589.7h0M157.1,590.6h0M124.5,609.3h0M122.1,610.7h0M181.3,597.1h0M186.8,600.5h0M159.1,603.5h0M221.1,615.4h0M109.4,608.5h0M146.7,581.1h0M220.4,607.7h0M107.5,606.7h0M187.9,600.5h0M139.9,596.7h0M115.7,589.8h0M169.4,601.9h0M153.9,605.5h0M171.7,597.1h0M95.7,635.8h0M154.1,583.5h0M204.1,584.9h0M126.6,604.2h0M189.6,601.3h0M145.6,584.6h0M163.5,595.3h0M164.7,593.2h0M110.3,595.3h0M106.1,626.9h0M132.1,591.9h0M157.9,584.1h0M119.4,572.6h0M112.8,597.8h0M95.1,631.3h0M142.6,607.8h0M121.1,612.2h0M194.0,598.1h0M165.2,590.7h0M120.4,585.0h0M199.7,591.0h0M177.1,592.3h0M153.5,607.7h0M210.0,611.3h0M101.4,605.6h0M196.7,597.8h0M132.3,605.2h0M163.4,581.5h0M139.9,597.7h0M112.6,607.7h0M227.2,621.6h0M140.4,609.4h0M144.0,604.0h0M171.8,604.9h0M144.7,577.8h0M107.5,621.0h0M157.3,591.7h0M119.7,613.6h0M125.9,566.9h0M114.4,608.8h0M127.2,592.2h0M124.3,575.1h0M127.1,571.0h0M157.9,602.5h0M119.4,607.0h0M130.7,608.7h0M133.9,605.1h0M105.4,614.7h0M199.2,588.8h0M145.8,576.7h0M120.4,609.8h0M182.5,595.3h0M153.5,599.2h0M122.9,613.7h0M115.4,588.5h0M161.1,605.4h0M128.1,572.1h0M210.5,602.6h0M98.2,635.4h0M111.6,593.9h0M183.7,598.9h0M147.4,607.8h0M135.9,576.5h0M164.7,605.0h0M120.5,574.2h0M104.8,609.8h0M171.0,604.8h0M201.3,595.6h0M157.7,586.3h0M100.8,626.2h0M125.4,615.4h0M222.6,612.2h0M177.4,601.3h0M179.1,592.9h0M157.8,589.7h0M124.1,572.6h0M165.2,590.0h0M194.0,581.9h0M122.5,616.1h0M94.8,633.9h0M208.5,599.4h0M223.5,620.5h0M200.0,601.5h0M147.3,588.1h0M194.5,603.4h0M124.5,608.2h0M197.9,581.5h0M125.0,605.3h0M183.0,594.4h0M130.3,574.9h0M112.5,609.8h0M158.2,579.0h0M104.2,604.0h0M163.9,605.6h0M99.1,630.0h0M178.7,602.9h0M198.2,600.0h0M150.3,594.4h0M109.4,609.1h0M116.7,578.3h0M172.2,602.5h0M185.7,588.7h0M172.3,588.8h0M147.4,587.0h0M127.4,604.0h0M184.7,595.6h0M173.3,594.0h0M216.6,602.1h0M155.6,582.6h0M211.7,604.1h0M127.4,598.9h0M92.7,629.6h0M105.4,611.7h0M172.3,588.9h0M99.7,613.2h0M199.1,590.7h0M192.1,586.3h0M135.6,603.0h0M111.5,602.4h0M121.3,608.0h0M124.1,614.6h0M197.4,584.2h0M93.2,641.4h0M113.1,601.7h0M99.8,618.4h0M150.5,582.8h0M139.0,599.6h0M145.0,589.3h0M173.5,599.3h0M164.9,605.7h0M206.8,598.7h0M173.1,610.1h0M206.2,597.8h0M95.0,624.8h0M155.5,590.7h0M99.7,632.4h0M166.7,604.7h0M159.7,598.8h0M94.2,638.7h0M157.5,601.2h0M121.4,603.8h0M154.3,585.5h0M101.0,623.2h0M158.7,603.9h0M186.8,598.0h0M100.7,612.6h0M136.0,606.1h0M151.9,589.8h0M211.3,598.6h0M114.1,596.5h0M101.0,610.3h0M105.2,616.2h0M179.1,591.8h0M103.3,615.0h0M127.7,588.7h0M93.5,633.0h0M204.3,603.7h0M124.4,609.6h0M107.8,598.9h0M130.4,583.3h0M114.8,579.3h0M101.3,612.2h0M144.6,599.7h0M146.8,607.6h0M129.5,604.8h0M151.8,596.1h0M107.8,603.7h0M148.4,602.4h0M163.2,587.5h0M152.3,593.5h0M189.6,601.2h0M175.5,591.7h0M113.1,602.0h0M166.5,604.6h0M157.4,586.9h0M167.9,608.5h0M108.6,618.2h0M165.4,605.5h0M203.8,587.3h0M107.4,618.5h0M126.5,585.6h0M144.8,584.4h0M135.1,603.0h0M152.6,598.3h0M143.4,607.9h0M182.2,601.5h0M98.4,625.9h0M151.6,607.0h0M157.6,605.4h0M103.3,612.6h0M122.1,607.4h0M140.1,581.8h0M109.1,597.7h0M99.8,617.2h0M157.9,587.9h0M131.2,578.2h0M100.7,633.2h0M165.8,588.8h0M149.2,593.9h0M147.9,575.0h0M159.2,587.5h0M208.1,606.5h0M127.3,581.9h0M103.6,614.1h0M196.2,604.1h0M123.2,606.2h0M96.2,632.6h0M196.9,594.3h0M168.4,587.7h0M199.6,580.8h0M125.3,581.3h0M140.1,605.5h0M137.3,593.7h0M153.1,591.7h0M121.5,588.9h0M113.5,596.1h0M152.9,598.8h0M101.8,603.7h0M106.0,618.5h0M114.4,607.9h0M137.9,605.6h0M160.9,595.5h0M140.8,592.8h0M192.2,600.5h0M130.7,604.9h0M146.5,584.9h0M104.6,610.3h0M101.9,612.0h0M100.9,607.0h0M144.7,573.1h0M214.7,614.3h0M182.7,602.6h0M218.9,605.9h0M123.3,600.6h0M189.9,600.4h0M150.5,587.8h0M128.8,591.8h0M189.5,583.7h0M127.1,572.3h0M144.3,596.9h0M128.5,571.2h0M140.2,588.3h0M187.8,588.9h0M205.4,607.0h0M141.7,607.9h0M132.9,609.4h0M162.7,601.8h0M133.5,603.5h0M170.2,590.8h0M118.0,616.4h0M146.9,580.9h0M100.0,616.0h0M160.9,598.0h0M160.8,592.3h0M131.1,589.5h0M157.5,598.4h0M166.8,603.7h0M109.5,614.9h0M142.0,597.5h0M187.8,587.5h0M144.5,576.1h0M213.0,606.0h0M180.3,608.8h0M114.4,607.7h0M165.5,604.2h0M175.1,603.1h0M165.0,593.9h0M205.3,600.4h0M150.4,605.3h0M221.1,619.5h0M185.6,602.5h0M160.9,588.0h0M146.4,600.0h0M125.0,607.1h0M134.2,597.1h0M186.6,600.2h0M162.4,603.5h0M201.5,604.5h0M138.9,577.4h0M142.0,575.1h0M181.3,594.2h0M154.9,595.3h0M96.2,633.8h0M136.9,606.6h0M217.4,616.1h0M191.2,588.3h0M152.6,599.1h0M201.2,588.4h0M141.0,591.1h0M119.5,586.4h0M204.9,585.7h0M172.4,602.2h0M144.9,574.9h0M202.6,586.0h0M98.3,631.4h0M156.8,601.5h0M207.5,592.8h0M155.0,589.3h0M153.0,591.9h0M143.3,577.4h0M162.0,593.4h0M136.2,579.3h0M115.8,608.8h0M109.0,624.3h0M172.2,597.3h0M163.7,588.4h0M125.9,575.9h0M169.8,587.5h0M178.8,597.1h0M109.2,597.3h0M204.8,592.0h0M116.0,583.5h0M123.9,602.1h0M93.5,627.0h0M98.8,624.9h0M100.6,630.2h0M129.8,601.5h0M191.0,589.4h0M98.8,630.4h0M125.0,614.1h0M139.8,586.0h0M197.2,580.1h0M162.5,600.3h0M165.4,604.2h0M163.4,582.7h0M124.8,573.4h0M180.8,599.2h0M214.6,610.0h0M193.2,593.6h0M211.0,598.8h0M118.2,615.1h0M177.8,597.6h0M124.4,612.1h0M110.6,622.1h0M211.0,595.1h0M180.1,609.8h0M154.3,592.7h0M197.2,601.6h0M141.5,575.6h0M150.3,593.1h0M205.1,585.8h0M162.9,599.5h0M210.3,598.5h0M196.8,590.9h0M141.7,576.7h0M123.1,589.6h0M143.3,583.3h0M138.8,598.3h0M130.9,590.9h0M158.9,603.9h0M144.8,597.2h0M164.3,605.3h0M112.3,619.2h0M151.8,577.2h0M176.4,593.4h0M106.1,623.9h0M200.6,606.4h0M111.5,598.2h0M122.2,591.4h0M101.3,610.8h0M184.7,610.5h0M210.2,608.8h0M194.7,598.9h0M144.8,582.1h0M173.3,601.2h0M128.5,573.8h0M101.9,614.5h0M151.3,581.5h0M153.3,600.3h0M181.1,598.3h0M117.4,594.8h0M128.7,579.8h0M104.7,627.6h0M145.9,596.3h0M168.8,585.6h0M141.9,601.9h0M99.1,625.3h0M215.4,608.0h0M121.9,605.0h0M100.8,620.9h0M177.9,602.6h0M107.4,602.9h0M189.0,591.5h0M199.5,598.8h0M154.8,579.7h0M118.7,612.5h0M213.5,603.3h0M148.9,608.9h0M204.0,592.6h0M190.4,590.6h0M114.9,612.0h0M137.5,605.7h0M142.6,599.2h0M165.4,594.6h0M161.2,583.2h0M198.9,585.5h0M201.8,595.3h0M106.2,602.7h0M141.7,609.9h0M151.4,589.0h0M164.4,588.5h0M163.5,592.6h0M198.2,598.0h0M121.2,592.1h0M204.4,589.7h0M120.8,609.3h0M210.3,603.0h0M153.1,581.3h0M110.9,615.8h0M158.6,579.3h0M119.2,574.4h0M117.6,612.5h0M106.3,610.5h0M125.0,563.7h0M123.1,570.1h0M125.8,564.2h0M122.9,572.1h0M124.7,574.7h0M125.8,565.3h0M124.2,567.6h0M127.1,569.2h0M125.3,565.9h0M123.0,569.3h0M124.8,564.1h0M126.3,572.0h0M125.3,564.1h0M123.0,572.6h0M125.4,569.0h0M123.7,570.0h0M125.4,571.2h0M123.0,574.5h0M124.3,565.5h0M124.7,570.9h0M125.9,569.4h0M125.3,564.8h0M125.4,564.2h0M122.9,573.2h0M123.4,570.0h0M124.6,571.6h0M124.8,565.1h0M126.8,571.4h0M125.6,566.4h0M125.6,567.5h0M123.9,569.1h0M124.3,564.8h0M123.4,574.1h0M127.1,571.0h0M126.0,567.6h0M125.5,565.7h0M125.2,570.1h0M122.5,572.7h0M125.8,567.6h0M123.0,571.1h0M230.8,558.5h0M227.3,566.5h0M226.5,595.5h0M224.5,596.5h0M224.4,600.8h0M232.8,572.1h0M249.3,576.5h0M244.0,567.8h0M225.6,561.5h0M245.2,576.4h0M228.7,604.1h0M211.5,585.5h0M233.3,572.2h0M234.1,603.3h0M227.2,570.8h0M229.1,587.2h0M231.1,580.9h0M232.9,583.3h0M219.9,587.4h0M234.8,582.7h0M226.6,591.0h0M230.3,604.0h0M221.7,580.4h0M243.4,580.8h0M236.8,617.9h0M229.3,563.5h0M241.4,579.7h0M242.5,610.4h0M223.5,593.5h0M231.4,572.5h0M231.7,571.4h0M222.9,589.7h0M233.9,561.4h0M238.0,588.9h0M240.7,562.0h0M220.5,567.4h0M244.1,572.5h0M222.9,573.5h0M238.5,621.1h0M224.2,578.4h0M223.6,568.2h0M248.3,577.9h0M232.5,558.9h0M246.3,574.5h0M245.0,604.6h0M248.6,576.8h0M219.4,583.6h0M222.3,597.4h0M219.7,598.7h0M237.5,610.7h0M243.2,609.8h0M219.3,587.6h0M222.4,596.9h0M239.4,607.6h0M234.2,564.5h0M236.0,621.0h0M228.0,598.3h0M217.9,577.6h0M242.9,590.9h0M240.0,614.8h0M228.9,606.6h0M248.7,585.7h0M243.4,605.2h0M214.3,581.6h0M231.4,578.6h0M237.2,584.6h0M216.5,575.5h0M247.2,577.2h0M238.1,588.3h0M239.9,584.9h0M226.1,597.9h0M234.1,559.5h0M225.0,595.8h0M242.6,609.1h0M234.1,618.4h0M234.2,580.9h0M241.1,584.1h0M247.5,584.9h0M230.1,603.2h0M230.5,578.8h0M247.2,575.0h0M229.9,597.2h0M229.2,603.4h0M220.9,579.2h0M240.4,615.5h0M222.9,564.5h0M233.0,594.0h0M236.3,603.7h0M240.8,584.1h0M233.3,594.5h0M230.9,593.9h0M221.9,591.8h0M228.2,604.6h0M234.5,569.5h0M233.9,597.9h0M229.9,571.2h0M231.1,586.1h0M231.5,583.6h0M235.9,580.8h0M220.2,569.0h0M229.9,562.9h0M239.1,610.0h0M245.1,572.6h0M215.2,578.7h0M232.1,604.3h0M244.6,573.3h0M232.1,566.6h0M244.4,578.0h0M220.7,597.9h0M224.1,565.3h0M236.5,589.7h0M242.5,587.6h0M235.0,566.7h0M244.8,604.8h0M222.9,578.8h0M245.8,572.2h0M221.6,598.7h0M234.5,610.8h0M245.9,575.3h0M230.8,607.1h0M229.6,598.7h0M224.0,577.5h0M242.9,572.9h0M243.6,569.1h0M228.2,574.6h0M212.0,577.4h0M237.6,607.4h0M230.6,583.3h0M231.0,593.3h0M232.9,588.7h0M244.3,598.0h0M232.6,578.3h0M229.1,570.3h0M246.0,573.2h0M237.5,571.0h0M247.6,575.1h0M224.0,600.6h0M246.6,580.5h0M236.7,591.8h0M246.5,587.4h0M245.5,581.6h0M247.8,579.9h0M222.0,568.4h0M234.3,568.7h0M232.0,603.5h0M211.1,579.8h0M240.3,574.1h0M237.1,560.9h0M230.6,580.0h0M220.1,595.4h0M241.7,569.0h0M249.3,576.2h0M241.5,564.7h0M231.4,565.8h0M242.4,567.5h0M212.5,580.6h0M240.1,577.0h0M238.8,608.2h0M224.8,588.9h0M237.5,572.0h0M219.1,579.5h0M236.0,575.4h0M246.4,588.4h0M235.5,567.7h0M228.3,598.0h0M241.5,578.6h0M235.6,560.0h0M222.7,570.8h0M215.3,575.3h0M245.6,606.3h0M235.2,610.1h0M230.2,599.8h0M234.0,568.4h0M242.6,595.1h0M216.1,582.7h0M221.6,587.5h0M235.4,575.1h0M236.1,596.9h0M221.2,572.7h0M239.6,618.7h0M236.1,600.9h0M232.7,592.4h0M221.0,590.3h0M240.1,615.4h0M237.7,574.1h0M226.3,592.4h0M245.8,580.2h0M239.9,571.7h0M234.0,595.9h0M221.9,599.2h0M232.2,583.6h0M238.9,568.5h0M230.5,558.4h0M232.3,596.4h0M233.1,605.8h0M234.2,618.6h0M222.9,578.9h0M231.7,599.4h0M220.5,577.7h0M213.1,581.9h0M227.8,562.3h0M233.3,581.5h0M228.4,599.8h0M243.9,575.4h0M214.3,585.6h0M246.7,575.7h0M237.1,583.9h0M240.3,569.6h0M221.6,587.7h0M231.1,586.4h0M246.7,575.3h0M225.2,566.0h0M222.7,581.1h0M235.9,621.1h0M236.9,583.9h0M248.2,578.3h0M225.7,589.5h0M226.1,563.0h0M230.9,583.6h0M243.9,568.7h0M233.8,591.9h0M216.7,587.3h0M242.0,597.2h0M245.7,587.8h0M222.4,583.8h0M218.8,586.5h0M239.6,594.3h0M232.2,568.9h0M213.5,583.3h0M220.0,583.2h0M218.9,570.3h0M224.0,576.5h0M213.6,583.9h0M224.0,564.4h0M240.6,570.8h0M221.5,581.6h0M221.3,588.6h0M215.7,574.9h0M235.0,586.1h0M238.1,598.7h0M227.6,592.2h0M229.2,604.5h0M239.3,585.8h0M216.1,582.5h0M240.5,581.0h0M215.6,586.0h0M242.7,568.2h0M221.4,578.5h0M232.7,571.0h0M225.2,574.8h0M234.0,569.7h0M248.1,581.7h0M238.9,603.5h0M226.4,594.7h0M242.8,591.3h0M219.2,569.3h0M247.8,600.7h0M230.5,610.9h0M240.0,612.1h0M210.9,580.3h0M242.5,587.8h0M231.2,574.2h0M244.5,607.6h0M227.3,586.1h0M243.3,609.6h0M217.9,577.6h0M218.1,579.1h0M237.3,584.9h0M238.2,609.8h0M233.5,610.7h0M227.7,565.0h0M238.1,622.2h0M244.9,602.9h0M225.9,575.9h0M232.6,601.3h0M233.7,608.4h0M218.1,587.4h0M220.2,581.2h0M248.6,578.8h0M235.3,605.5h0M242.4,574.5h0M241.0,596.8h0M211.2,579.0h0M224.6,565.1h0M229.3,601.9h0M233.4,601.8h0M246.7,598.1h0M235.0,613.6h0M239.6,570.4h0M237.3,615.8h0M225.5,586.3h0M240.5,569.8h0M226.8,596.3h0M235.4,571.0h0M231.4,597.6h0M246.0,586.5h0M245.2,586.7h0M237.3,588.8h0M241.4,566.3h0M232.0,596.3h0M230.3,577.7h0M222.6,574.5h0M244.5,580.8h0M237.7,601.8h0M234.6,582.3h0M229.3,609.5h0M235.6,558.1h0M228.2,600.1h0M240.5,609.4h0M238.5,621.3h0M228.9,592.6h0M217.9,582.3h0M232.1,560.7h0M240.8,578.8h0M235.8,616.0h0M245.0,580.0h0M242.0,564.1h0M221.9,578.8h0M234.9,612.4h0M232.1,572.9h0M227.6,602.7h0M242.8,590.2h0M214.1,581.0h0M236.7,621.8h0M231.3,564.0h0M245.8,585.9h0M230.3,582.6h0M239.7,584.7h0M239.7,610.5h0M225.0,589.0h0M230.4,563.1h0M236.0,582.6h0M246.2,594.9h0M225.1,569.9h0M223.6,583.7h0M221.4,570.7h0M235.5,590.9h0M232.7,579.4h0M239.9,615.9h0M239.2,595.9h0M232.8,597.5h0M214.2,584.0h0M242.3,578.5h0M237.8,575.6h0M246.5,583.3h0M245.9,595.3h0M232.1,610.7h0M220.8,592.7h0M232.2,558.5h0M237.9,613.1h0M235.6,560.9h0M227.5,593.7h0M235.3,608.8h0M221.7,570.2h0M232.7,572.8h0M220.3,581.4h0M238.1,593.7h0M238.1,571.2h0M221.6,595.1h0M226.9,583.3h0M225.3,571.0h0M233.9,599.9h0M238.4,614.5h0M227.4,589.1h0M225.5,574.8h0M243.5,571.3h0M224.0,593.2h0M235.7,619.0h0M236.9,594.9h0M229.1,593.2h0M221.7,590.9h0M247.3,595.3h0M231.3,571.9h0M225.2,571.6h0M237.6,610.0h0M236.5,573.4h0M237.2,576.1h0M227.9,582.7h0M228.6,603.3h0M220.1,589.5h0M220.7,576.7h0M238.5,578.6h0M247.3,600.0h0M242.6,606.7h0M229.7,601.4h0M231.8,610.1h0M227.8,586.0h0M221.4,597.2h0M217.6,587.9h0M244.5,585.2h0M231.5,577.0h0M218.5,596.6h0M230.9,560.5h0M232.6,566.9h0M239.1,579.9h0M234.9,582.8h0M231.8,583.8h0M240.3,578.5h0M211.0,582.1h0M244.6,606.0h0M222.2,584.0h0M226.9,568.6h0M237.1,619.0h0M246.2,584.1h0M220.5,585.3h0M244.2,583.6h0M221.1,600.4h0M229.6,606.0h0M242.4,606.4h0M222.0,567.2h0M215.9,576.5h0M232.3,582.7h0M231.8,558.8h0M223.5,593.8h0M240.6,570.7h0M215.7,578.8h0M240.4,578.2h0M239.7,597.1h0M226.2,592.9h0M234.3,567.0h0M211.3,580.4h0M234.5,569.7h0M245.2,569.0h0M233.9,586.8h0M239.5,599.0h0M226.8,582.0h0M240.7,611.6h0M225.8,565.8h0M229.4,573.4h0M236.0,573.9h0M222.3,601.5h0M236.6,604.0h0M232.7,582.6h0M236.3,568.3h0M220.5,587.7h0M240.3,563.7h0M224.0,573.9h0M236.7,619.2h0M239.4,581.3h0M231.7,595.1h0M244.4,582.4h0M248.2,579.2h0M244.0,581.2h0M222.8,564.3h0M236.3,561.3h0M235.4,576.2h0M244.9,589.4h0M242.1,579.1h0M221.9,590.7h0M218.5,573.7h0M231.9,572.2h0M242.0,581.4h0M246.1,580.3h0M248.5,580.0h0M218.6,597.1h0M234.0,596.5h0M242.2,600.4h0M244.3,572.0h0M235.8,597.5h0M231.0,602.1h0M237.7,603.5h0M232.8,558.5h0M244.1,606.6h0M246.4,581.0h0M232.0,575.4h0M233.1,610.4h0M239.1,568.7h0M239.1,583.1h0M222.2,569.5h0M228.8,603.4h0M217.5,576.4h0M225.7,571.0h0M232.5,581.4h0M229.3,576.0h0M229.8,578.2h0M227.1,586.8h0M237.9,605.0h0M243.0,606.5h0M236.4,578.7h0M232.3,594.3h0M239.1,561.6h0M244.8,583.3h0M241.4,611.1h0M229.1,597.1h0M227.4,589.8h0M236.8,567.3h0M213.5,579.5h0M239.1,571.0h0M237.5,576.2h0M229.3,569.1h0M234.2,606.2h0M238.8,564.3h0M246.9,585.4h0M240.8,562.5h0M242.3,594.5h0M230.9,601.6h0M229.7,586.9h0M230.3,611.0h0M246.7,580.4h0M242.4,591.0h0M229.2,575.0h0M225.4,597.9h0M244.6,569.7h0M222.9,563.8h0M241.4,592.9h0M245.2,601.6h0M221.6,589.7h0M234.5,561.3h0M216.8,588.8h0M235.2,619.6h0M233.3,600.6h0M242.8,587.3h0M239.9,573.4h0M226.8,567.2h0M247.5,577.8h0M242.7,586.1h0M235.5,604.7h0M227.5,596.3h0M236.6,594.7h0M230.3,594.9h0M228.8,577.5h0M244.7,590.8h0M228.8,592.8h0M247.2,601.2h0M233.0,573.5h0M219.5,583.9h0M236.1,574.5h0M248.1,582.8h0M248.2,573.6h0M214.5,583.2h0M246.6,599.5h0M220.9,569.0h0M237.2,576.1h0M248.0,574.0h0M225.6,580.8h0M241.8,589.9h0M227.0,570.5h0M235.4,571.8h0M237.9,588.1h0M225.5,573.3h0M237.2,608.6h0M236.4,596.4h0M232.7,596.9h0M232.3,588.0h0M245.0,598.8h0M242.6,579.7h0M236.6,579.1h0M239.6,599.2h0M226.0,565.2h0M219.8,596.5h0M232.6,559.0h0M240.9,568.2h0M217.8,576.8h0M243.9,585.5h0M226.5,602.1h0M234.3,569.2h0M247.4,599.5h0M235.2,574.9h0M232.2,599.6h0M234.9,562.7h0M237.7,579.3h0M230.9,612.1h0M231.9,575.6h0M237.0,560.3h0M237.6,619.3h0M214.8,580.1h0M231.0,605.3h0M228.4,595.9h0M242.5,568.4h0M229.8,569.7h0M243.5,590.8h0M243.2,586.7h0M228.4,574.3h0M216.8,577.1h0M211.6,581.3h0M223.2,574.0h0M235.0,574.5h0M234.5,610.6h0M224.5,580.9h0M227.2,604.4h0M218.6,585.1h0M217.4,587.4h0M223.9,566.4h0M245.1,604.7h0M238.7,565.0h0M233.0,613.2h0M240.3,563.5h0M215.1,582.0h0M234.2,606.8h0M236.8,616.9h0M243.6,592.7h0M242.5,606.2h0M242.2,601.6h0M222.5,577.8h0M228.4,601.6h0M215.8,578.0h0M241.5,595.7h0M242.2,574.0h0M242.1,571.1h0M228.6,577.4h0M228.0,560.7h0M239.9,577.3h0M217.0,586.0h0M230.7,592.3h0M240.5,606.3h0M227.8,604.7h0M247.8,575.6h0M229.4,601.2h0M244.6,594.4h0M234.5,605.3h0M246.9,600.7h0M217.6,586.6h0M250.7,579.4h0M232.5,559.0h0M222.4,575.3h0M240.7,579.8h0M238.9,581.2h0M241.3,580.4h0M234.1,589.3h0M214.5,584.1h0M235.3,613.6h0M243.2,606.4h0M219.1,586.0h0M237.9,588.0h0M245.4,587.8h0M212.7,579.0h0M238.3,589.7h0M236.5,620.3h0M223.7,580.2h0M245.0,570.2h0M238.2,586.1h0M249.8,577.6h0M250.5,580.7h0M222.3,585.0h0M228.4,595.3h0M238.2,572.4h0M242.7,586.3h0M246.3,588.8h0M236.7,559.1h0M232.1,591.9h0M219.5,584.8h0M247.0,583.9h0M242.6,590.7h0M235.9,597.7h0M229.5,594.7h0M248.1,583.6h0M241.8,571.6h0M225.4,594.8h0M242.1,576.3h0M212.5,584.3h0M238.0,609.5h0M231.0,600.1h0M230.0,600.3h0M232.9,597.6h0M234.2,609.6h0M245.9,601.0h0M243.4,577.6h0M237.3,596.1h0M227.4,579.7h0M229.3,563.3h0M233.8,597.9h0M239.6,602.2h0M230.1,596.0h0M234.4,591.5h0M244.2,582.6h0M229.8,560.2h0M228.3,607.7h0M235.3,570.9h0M221.6,591.2h0M237.2,575.3h0M246.3,574.4h0M221.0,575.1h0M223.5,577.4h0M235.1,617.6h0M225.1,588.9h0M233.7,588.1h0M234.5,585.8h0M233.7,606.6h0M247.2,599.7h0M213.9,582.9h0M247.1,586.0h0M238.2,560.7h0M240.4,569.1h0M239.3,617.9h0M227.2,567.9h0M233.5,572.5h0M229.1,589.5h0M228.2,584.4h0M233.2,608.9h0M234.2,588.7h0M222.8,599.5h0M233.5,561.6h0M233.2,596.3h0M214.6,582.2h0M233.5,609.0h0M243.7,596.4h0M235.9,584.7h0M233.0,591.2h0M213.5,580.0h0M245.1,605.5h0M245.4,604.4h0M278.7,565.8h0M265.8,589.7h0M267.8,590.3h0M280.3,593.4h0M282.9,595.1h0M253.7,583.7h0M270.8,568.4h0M285.6,566.2h0M286.5,586.5h0M289.9,592.3h0M267.5,569.5h0M252.8,600.3h0M257.9,603.9h0M256.5,590.5h0M255.7,584.2h0M271.7,579.7h0M266.2,595.3h0M252.3,585.5h0M253.0,590.8h0M268.1,570.2h0M260.5,590.8h0M263.8,599.0h0M259.7,576.8h0M271.8,569.9h0M294.8,588.8h0M272.6,597.2h0M259.8,595.7h0M273.8,565.4h0M269.1,596.7h0M280.6,589.0h0M276.8,575.4h0M274.9,568.9h0M268.7,580.4h0M279.7,591.2h0M259.9,587.9h0M278.0,567.8h0M255.4,582.4h0M290.2,594.0h0M256.1,581.0h0M263.4,581.5h0M271.3,564.1h0M253.0,594.5h0M276.3,576.7h0M262.5,588.4h0M269.6,596.3h0M271.2,564.1h0M256.5,587.8h0M275.4,571.4h0M293.7,587.4h0M300.4,585.6h0M269.6,579.6h0M272.1,601.7h0M278.5,596.1h0M275.7,593.5h0M270.1,587.1h0M260.4,583.8h0M271.3,600.6h0M298.7,582.1h0M296.7,580.9h0M272.4,595.4h0M264.7,600.7h0M274.8,597.6h0M285.3,593.1h0M283.1,584.2h0M254.0,583.9h0M283.3,593.9h0M280.3,580.9h0M256.0,602.8h0M256.8,595.7h0M280.5,596.1h0M254.1,593.1h0M258.2,584.2h0M253.7,592.3h0M274.6,587.4h0M268.8,574.4h0M270.0,577.4h0M263.0,594.5h0M280.0,595.4h0M265.1,588.9h0M272.8,582.9h0M257.0,598.5h0M280.1,566.2h0M302.2,583.3h0M253.9,586.9h0M264.8,588.1h0M269.9,597.5h0M281.5,591.2h0M264.3,576.8h0M256.2,592.0h0M265.7,602.5h0M252.6,600.6h0M269.7,593.0h0M261.3,592.9h0M285.9,584.2h0M262.4,590.8h0M292.8,589.5h0M271.8,568.8h0M283.1,581.5h0M256.2,592.9h0M275.2,587.0h0M256.6,586.3h0M265.5,592.8h0M256.5,598.4h0M264.6,601.1h0M267.5,592.1h0M264.1,586.3h0M281.1,572.7h0M285.9,569.0h0M259.8,604.1h0M274.6,582.5h0M280.1,598.1h0M288.8,587.2h0M265.6,577.1h0M277.7,590.9h0M273.0,569.6h0M257.7,581.7h0M268.5,588.1h0M261.8,575.4h0M271.0,585.1h0M262.3,602.3h0M279.8,595.2h0M279.6,580.9h0M279.8,587.4h0M295.0,581.7h0M271.1,583.0h0M273.6,567.6h0M257.2,604.9h0M269.7,587.2h0M299.4,586.9h0M262.6,579.6h0M300.1,582.1h0M276.0,599.5h0M259.2,595.7h0M262.2,579.5h0M275.1,582.8h0M300.9,580.8h0M297.8,586.8h0M296.2,587.6h0M284.3,570.5h0M286.6,584.3h0M276.9,570.3h0M291.9,592.9h0M265.6,600.6h0M253.6,590.8h0M267.0,593.5h0M270.1,597.3h0M293.8,588.5h0M266.0,570.6h0M273.9,593.4h0M278.0,583.0h0M264.6,586.5h0M281.8,589.3h0M285.1,585.4h0M280.3,567.7h0M291.2,592.9h0M278.1,590.0h0M283.3,568.7h0M260.4,595.1h0M268.7,564.5h0M275.9,573.6h0M277.7,582.0h0M282.7,568.2h0M298.6,579.9h0M271.6,577.9h0M256.2,598.1h0M260.2,581.2h0M260.2,590.8h0M270.1,586.2h0M295.4,588.4h0M273.0,564.9h0M260.2,590.6h0M295.3,583.3h0M280.7,594.9h0M253.8,602.5h0M277.8,585.9h0M278.1,587.6h0M260.6,585.9h0M282.7,591.9h0M277.2,591.8h0M268.5,575.4h0M253.1,583.3h0M281.1,584.8h0M260.3,593.3h0M267.4,571.9h0M272.9,565.4h0M257.9,599.5h0M274.6,584.1h0M274.6,585.1h0M279.7,588.9h0M272.8,565.6h0M296.5,583.5h0M266.3,592.2h0M285.5,585.6h0M280.0,584.7h0M275.8,571.4h0M256.1,590.3h0M257.4,587.6h0M261.1,594.2h0M275.6,591.4h0M254.5,584.3h0M278.1,572.1h0M282.9,570.3h0M256.2,581.4h0M257.0,585.8h0M275.2,576.2h0M299.1,584.6h0M258.4,601.0h0M260.2,600.9h0M274.5,579.6h0M279.6,581.8h0M257.5,585.0h0M278.3,588.3h0M266.3,576.4h0M256.2,604.2h0M266.9,595.5h0M254.0,589.9h0M292.4,587.6h0M278.7,573.6h0M280.4,564.9h0M298.8,579.0h0M272.0,571.7h0M301.2,585.6h0M274.4,595.9h0M256.3,609.2h0M280.6,566.2h0M293.8,588.6h0M268.1,583.0h0M269.3,577.0h0M257.2,587.9h0M276.6,593.4h0M262.3,602.5h0M256.6,603.6h0M277.6,576.1h0M273.7,564.7h0M260.8,593.9h0M275.2,571.2h0M272.7,601.9h0M269.2,585.2h0M281.9,586.7h0M266.7,586.0h0M257.7,608.0h0M266.9,594.4h0M258.2,596.9h0M263.8,593.9h0M291.9,586.6h0M277.8,583.5h0M289.6,592.3h0M260.4,597.9h0M277.6,575.7h0M295.9,590.9h0M273.1,581.3h0M266.8,592.4h0M285.2,590.4h0M263.8,580.8h0M280.7,592.1h0M263.1,590.9h0M267.5,592.8h0M256.6,588.0h0M273.6,575.5h0M293.8,590.8h0M296.8,585.4h0M275.0,597.0h0M274.4,600.9h0M253.6,585.2h0M259.3,600.6h0M255.6,586.6h0M269.8,579.7h0M273.8,592.0h0M271.0,586.8h0M253.5,590.4h0M267.0,567.0h0M257.6,603.7h0M265.9,579.0h0M264.5,572.2h0M280.8,567.8h0M278.5,599.8h0M267.1,572.2h0M265.3,581.8h0M276.1,600.6h0M275.7,594.0h0M300.3,581.1h0M268.5,587.3h0M284.2,572.5h0M252.3,605.4h0M258.6,580.1h0M301.6,581.4h0M268.7,602.3h0M267.0,582.4h0M299.1,582.8h0M261.9,602.1h0M284.9,589.2h0M278.3,594.6h0M265.7,598.4h0M255.2,605.2h0M297.8,588.0h0M277.1,591.1h0M276.6,575.7h0M263.2,601.0h0M288.9,585.9h0M274.6,596.7h0M280.0,573.0h0M264.3,580.9h0M286.8,587.6h0M282.2,582.6h0M293.3,586.1h0M275.7,577.7h0M257.4,579.4h0M269.9,567.0h0M266.7,585.8h0M255.7,607.0h0M267.1,565.4h0M280.8,576.3h0M264.0,588.9h0M266.4,582.0h0M281.2,595.9h0M281.8,594.8h0M280.1,584.1h0M266.5,571.4h0M266.8,582.7h0M262.7,579.1h0M275.8,573.3h0M253.1,606.8h0M264.5,580.2h0M273.2,573.4h0M281.8,596.5h0M264.9,596.3h0M269.7,582.0h0M260.2,576.4h0M258.5,601.4h0M272.9,583.9h0M282.0,578.2h0M255.1,582.6h0M270.9,574.0h0M267.7,581.5h0M281.4,595.9h0M295.4,591.9h0M263.0,591.0h0M299.7,588.7h0M302.0,581.4h0M265.9,570.5h0M290.0,593.3h0M269.9,570.2h0M291.9,590.2h0M265.6,571.6h0M258.4,598.2h0M290.2,587.5h0M264.4,593.2h0M253.9,586.1h0M265.1,592.3h0M253.3,583.0h0M281.3,582.5h0M281.6,574.3h0M272.1,588.3h0M272.1,598.3h0M260.3,603.5h0M280.2,592.0h0M253.7,585.2h0M254.4,594.6h0M256.9,584.9h0M257.2,598.6h0M274.2,597.9h0M275.6,596.6h0M268.8,564.4h0M277.5,576.3h0M273.4,597.0h0M265.0,582.1h0M253.6,591.1h0M262.0,580.3h0M268.5,590.8h0M295.0,583.5h0M298.3,586.9h0M277.3,583.2h0M267.1,591.2h0M286.5,591.7h0M260.2,589.1h0M274.9,579.5h0M280.3,583.1h0M298.5,582.1h0M256.6,599.1h0M287.1,585.9h0M267.8,587.8h0M258.6,588.3h0M276.2,584.5h0M270.2,593.6h0M265.5,582.0h0M292.1,591.8h0M275.2,563.8h0M278.0,568.6h0M267.9,580.9h0M279.9,583.4h0M254.4,604.3h0M272.9,597.1h0M264.0,572.7h0M255.3,603.9h0M290.7,592.1h0M266.2,574.8h0M278.9,573.8h0M258.0,590.1h0M266.5,589.5h0M277.3,594.9h0M255.0,597.3h0M264.6,572.4h0M266.6,583.5h0M258.0,588.8h0M262.2,582.3h0M266.2,591.2h0M279.1,588.3h0M259.0,604.3h0M253.6,584.3h0M270.8,564.8h0M254.7,585.1h0M254.3,595.1h0M285.8,588.0h0M268.1,594.1h0M258.2,597.3h0M285.0,567.1h0M260.3,597.3h0M276.7,584.2h0M259.9,602.5h0M280.6,586.0h0M270.3,574.3h0M293.1,586.4h0M278.7,566.7h0M266.6,585.7h0M265.0,598.2h0M262.4,586.9h0M275.8,570.2h0M276.7,583.3h0M263.1,598.2h0M270.3,572.1h0M258.7,593.3h0M254.3,600.6h0M268.5,597.0h0M296.8,587.6h0M279.0,598.9h0M281.7,574.3h0M296.8,591.1h0M286.3,593.9h0M288.6,586.5h0M267.0,568.4h0M270.3,588.8h0M259.9,581.6h0M282.6,589.0h0M278.1,597.9h0M280.1,578.1h0M284.5,592.3h0M270.1,575.0h0M265.9,577.6h0M280.0,586.6h0M279.6,595.7h0M299.4,578.5h0M301.1,584.9h0M287.7,594.0h0M267.1,565.5h0M267.5,569.0h0M299.3,588.0h0M283.4,590.1h0M271.6,580.0h0M297.4,581.6h0M272.8,572.2h0M267.2,586.9h0M280.7,576.3h0M278.9,599.1h0M261.9,590.5h0M274.4,567.1h0M280.7,597.3h0M282.6,591.1h0M280.2,579.5h0M253.1,589.2h0M251.7,603.4h0M296.4,587.5h0M261.9,594.2h0M259.9,591.7h0M265.6,577.5h0M263.6,592.2h0M275.1,568.9h0M282.7,586.1h0M263.5,590.2h0M266.6,576.9h0M276.3,568.1h0M270.8,569.6h0M292.7,585.1h0M273.2,588.1h0M297.0,583.6h0M271.5,600.0h0M279.4,595.1h0M279.9,581.2h0M286.5,586.1h0M302.7,583.2h0M282.6,588.4h0M300.1,586.3h0M274.5,597.5h0M258.0,584.8h0M277.4,571.3h0M253.7,604.9h0M279.4,572.0h0M260.7,594.5h0M274.3,589.5h0M288.8,588.9h0M266.2,595.3h0M277.9,587.0h0M274.4,596.7h0M272.0,599.0h0M264.6,591.3h0M271.2,594.0h0M301.4,585.2h0M285.1,583.3h0M293.6,588.5h0M280.6,574.5h0M263.9,590.9h0M278.4,586.6h0M280.7,583.7h0M268.6,600.4h0M282.2,565.8h0M256.8,609.2h0M272.3,595.0h0M268.3,590.3h0M292.7,587.2h0M285.7,592.6h0M298.8,589.6h0M286.9,593.3h0M275.9,579.0h0M257.7,601.2h0M290.8,590.2h0M260.2,583.4h0M300.2,585.9h0M256.9,595.2h0M276.1,567.3h0M274.9,569.0h0M279.9,577.0h0M259.0,599.6h0M257.3,599.0h0M260.2,590.1h0M260.1,585.8h0M281.3,573.9h0M265.5,602.9h0M275.5,576.9h0M262.6,592.7h0M265.1,587.5h0M261.6,578.1h0M261.9,587.9h0M290.5,590.3h0M266.3,586.3h0M279.3,582.3h0M216.6,635.7h0M228.1,633.4h0M226.9,642.6h0M198.3,626.6h0" fill="none" stroke="#5fa21c" stroke-width="4.4" stroke-linecap="round" clip-path="url(#cb)"/>
<path d="M70.9,689.4h0M75.4,687.1h0M75.4,680.2h0M90.3,673.3h0M84.6,661.9h0M92.6,658.5h0M96.0,650.5h0M97.2,642.5h0M96.7,634.5h0M102.9,635.6h0M104.0,642.5h0M108.6,637.9h0M109.7,631.0h0M113.6,626.9h0M115.5,618.5h0M121.2,618.5h0M125.8,620.1h0M123.5,626.5h0M124.6,628.8h0M130.3,624.2h0M131.5,626.5h0M142.9,626.5h0M158.9,625.3h0M168.1,626.5h0M184.1,633.3h0M134.9,627.6h0M242.9,663.6h0M257.8,632.3h0M198.3,624.8h0M179.7,618.9h0M162.9,599.0h0M180.4,607.3h0M172.1,617.7h0M193.8,627.6h0M213.4,625.2h0M232.9,635.1h0M235.2,645.4h0M217.6,629.8h0M219.6,634.5h0M175.2,622.1h0M226.0,634.7h0M217.2,641.3h0M257.3,657.7h0M201.3,627.6h0M206.9,617.2h0M127.0,611.2h0M154.7,610.8h0M165.6,601.5h0M184.8,615.0h0M231.7,639.2h0M172.8,615.1h0M170.2,616.4h0M181.0,607.7h0M186.1,610.5h0M223.2,643.4h0M176.0,607.2h0M179.6,615.8h0M203.8,618.5h0M193.8,609.9h0M153.2,611.1h0M183.9,622.5h0M214.7,636.3h0M203.4,615.0h0M195.7,612.1h0M234.9,651.0h0M195.4,632.7h0M194.7,629.2h0M167.6,610.0h0M217.3,626.4h0M146.0,609.3h0M152.1,615.2h0M219.7,627.5h0M190.9,613.1h0M249.0,638.2h0M237.4,644.9h0M165.4,613.4h0M208.5,615.5h0M203.5,617.9h0M196.5,621.7h0M213.0,624.7h0M158.0,596.3h0M207.4,639.4h0M209.5,631.0h0M204.9,634.2h0M171.6,601.2h0M174.3,608.3h0M172.2,603.5h0M213.6,617.1h0M176.9,614.5h0M202.2,633.4h0M177.9,609.2h0M173.6,604.3h0M197.9,615.6h0M253.8,647.4h0M221.1,643.8h0M234.0,642.3h0M216.3,628.3h0M154.5,612.5h0M219.3,622.5h0M144.4,611.1h0M195.6,610.4h0M217.3,627.7h0M206.1,632.8h0M186.5,612.9h0M161.8,613.3h0M230.7,629.1h0M256.2,653.4h0M214.8,640.8h0M232.1,635.8h0M233.9,648.5h0M215.6,642.8h0M247.9,641.8h0M133.1,608.5h0M233.2,631.5h0M214.2,630.4h0M171.1,614.8h0M184.4,606.0h0M199.0,610.8h0M224.4,628.3h0M176.5,605.1h0M171.6,622.2h0M133.1,612.7h0M163.5,613.4h0M249.2,647.3h0M154.4,612.0h0M162.4,609.2h0M226.4,644.0h0M148.2,603.0h0M156.1,606.1h0M249.3,655.4h0M139.7,609.6h0M158.7,603.3h0M197.1,617.5h0M203.0,625.5h0M167.5,609.9h0M212.8,617.1h0M166.6,597.4h0M217.9,622.3h0M186.3,633.0h0M164.7,605.8h0M233.4,643.7h0M240.3,639.7h0M157.1,610.4h0M210.2,620.3h0M239.4,636.6h0M237.9,631.1h0M153.0,597.7h0M160.1,605.8h0M234.4,649.9h0M197.4,609.3h0M201.2,634.0h0M193.2,620.3h0M234.4,636.9h0M238.4,640.9h0M233.0,646.7h0M229.3,625.9h0M213.2,624.4h0M203.5,628.1h0M219.8,626.3h0M248.5,639.7h0M202.4,622.6h0M222.2,622.1h0M155.6,613.7h0M237.2,642.6h0M153.5,617.0h0M191.3,622.6h0M208.5,637.1h0M134.0,607.9h0M249.8,651.0h0M246.4,638.5h0M210.7,632.9h0M194.7,606.1h0M210.5,622.4h0M176.2,604.6h0M155.6,611.0h0M155.7,617.6h0M172.5,614.7h0M191.3,622.5h0M190.9,620.1h0M230.4,634.3h0M209.2,618.6h0M204.8,626.6h0M142.7,616.9h0M229.0,641.8h0M199.1,622.5h0M176.2,615.8h0M160.6,612.3h0M168.8,599.8h0M173.7,603.3h0M173.5,617.4h0M198.5,616.9h0M245.4,640.8h0M195.4,616.9h0M186.2,620.2h0M246.0,650.8h0M168.0,611.4h0M230.6,644.9h0M161.1,599.4h0M246.3,645.0h0M190.8,609.7h0M169.3,604.2h0M206.4,613.6h0M202.9,616.2h0M189.8,613.0h0M187.9,607.4h0M241.8,633.4h0M189.8,615.3h0M196.3,631.0h0M180.9,604.1h0M232.9,649.8h0M171.2,607.7h0M200.3,631.8h0M210.6,617.0h0M215.2,621.3h0M169.3,613.2h0M245.1,649.4h0M235.1,648.9h0M160.6,618.3h0M164.3,599.8h0M177.4,610.5h0M159.5,599.8h0M177.5,610.3h0M251.6,652.0h0M244.4,641.3h0M189.8,604.9h0M203.4,612.8h0M240.7,650.6h0M258.8,658.3h0M174.4,622.4h0M237.7,653.2h0M197.0,632.8h0M205.1,625.4h0M249.3,655.7h0M147.6,611.3h0M177.3,615.4h0M188.3,621.1h0M225.2,626.1h0M192.7,618.1h0M196.1,624.1h0M235.6,652.3h0M153.5,602.6h0M255.7,646.2h0M211.4,628.8h0M236.2,629.6h0M152.4,602.5h0M136.1,614.7h0M208.0,636.5h0M236.8,646.3h0M159.4,606.4h0M191.1,623.8h0M183.9,615.5h0M171.4,613.8h0M225.6,630.5h0M247.1,640.9h0M169.3,600.0h0M178.5,617.3h0M233.1,635.1h0M211.4,628.6h0M244.5,646.0h0M232.1,650.4h0M170.6,615.1h0M170.2,603.9h0M202.5,612.7h0M158.2,597.7h0M196.9,631.1h0M227.5,629.4h0M199.3,630.2h0M246.0,644.0h0M179.9,613.2h0M194.7,608.8h0M194.0,635.9h0M209.1,617.3h0M199.3,633.8h0M153.0,602.7h0M179.4,619.0h0M160.4,600.8h0M185.4,615.9h0M192.1,629.8h0M177.1,621.5h0M145.0,607.7h0M190.6,619.8h0M198.7,634.9h0M187.2,625.5h0M251.5,647.0h0M246.6,643.0h0M155.3,606.4h0M203.4,627.1h0M165.4,617.2h0M223.0,644.0h0M221.5,630.5h0M174.5,619.7h0M164.6,596.2h0M184.4,609.5h0M252.5,655.2h0M177.8,615.3h0M215.4,635.3h0M218.1,628.1h0M186.4,626.4h0M193.5,624.8h0M218.8,636.3h0M143.0,604.4h0M199.6,613.6h0M242.0,649.7h0M221.8,629.0h0M241.0,652.6h0M195.7,630.2h0M223.0,627.9h0M221.3,638.4h0M190.5,616.0h0M134.4,611.4h0M223.5,622.7h0M205.8,617.7h0M233.1,634.8h0M257.7,652.3h0M153.9,599.8h0M213.4,639.7h0M253.9,658.8h0M153.4,598.3h0M204.2,624.6h0M249.5,658.0h0M170.2,606.4h0M205.1,612.5h0M236.4,647.8h0M144.4,600.7h0M256.3,658.5h0M203.7,612.6h0M232.1,647.1h0M210.3,620.1h0M191.2,614.2h0M226.1,638.4h0M176.2,618.2h0M152.6,605.1h0M196.0,608.9h0M163.0,602.8h0M211.4,619.6h0M229.1,625.4h0M259.1,656.8h0M190.8,623.8h0M224.8,633.4h0M165.9,616.8h0M248.1,641.6h0M161.1,598.2h0M179.4,622.7h0M213.8,630.5h0M255.8,658.9h0M209.2,638.9h0M248.9,645.9h0M166.6,607.9h0M193.1,621.8h0M166.2,596.3h0M135.8,606.9h0M205.5,615.3h0M255.3,651.7h0M163.8,607.7h0M202.1,625.6h0M240.5,644.1h0M215.4,636.1h0M176.8,603.6h0M246.8,650.6h0M218.1,628.4h0M216.3,625.4h0M250.4,647.8h0M172.4,611.7h0M224.4,643.8h0M259.7,657.9h0M181.0,603.4h0M171.4,610.7h0M202.2,634.2h0M231.1,630.3h0M204.9,611.5h0M165.3,602.4h0M200.4,629.2h0M246.0,646.6h0M175.9,620.2h0M167.5,610.1h0M212.5,635.5h0M208.1,639.0h0M142.6,611.9h0M177.1,607.2h0M183.4,624.0h0M186.3,626.1h0M221.5,643.8h0M181.6,601.6h0M225.8,641.2h0M163.0,611.9h0M147.4,607.7h0M179.4,607.0h0M172.8,599.1h0M230.7,642.8h0M147.9,599.9h0M254.4,646.9h0M224.6,638.1h0M218.3,620.6h0M171.9,611.9h0M249.1,656.9h0M200.7,608.5h0M195.9,611.6h0M216.4,639.9h0M206.9,631.3h0M228.4,636.7h0M246.1,643.7h0M188.8,623.1h0M202.3,631.6h0M212.7,632.0h0M243.7,644.6h0M220.3,635.2h0M222.8,628.2h0M228.4,643.8h0M192.7,624.7h0M157.2,608.3h0M188.5,613.2h0M208.4,619.9h0M176.9,601.3h0M186.6,613.8h0M174.9,623.3h0M201.1,629.9h0M200.5,616.9h0M248.6,642.1h0M192.5,634.6h0M192.3,629.9h0M205.8,631.9h0M231.6,636.5h0M210.5,639.8h0M131.0,612.1h0M201.3,619.9h0M175.7,606.2h0M244.9,656.5h0M228.0,637.2h0M192.7,627.8h0M219.3,621.7h0M159.4,618.7h0M194.9,616.0h0M165.8,607.4h0M248.8,648.3h0M226.6,633.3h0M173.8,616.2h0M215.7,623.2h0M196.5,607.1h0M193.7,609.4h0M182.0,608.0h0M208.4,620.1h0M207.5,622.3h0M248.6,640.8h0M202.1,624.9h0M238.6,643.9h0M181.4,616.0h0M214.6,640.6h0M211.5,622.7h0M175.7,600.8h0M220.5,643.4h0M140.2,614.0h0M209.8,625.8h0M229.8,644.9h0M216.3,641.6h0M261.2,659.8h0M259.0,651.5h0M245.5,646.7h0M161.3,599.1h0M181.3,608.4h0M204.0,612.7h0M166.2,614.9h0M148.5,602.1h0M237.4,637.0h0M162.5,618.3h0M167.5,620.4h0M148.7,616.4h0M202.5,615.2h0M209.7,622.5h0M184.1,620.2h0M152.1,599.5h0M158.7,600.8h0M219.2,625.0h0M169.2,611.6h0M203.5,635.6h0M156.8,599.2h0M140.3,612.3h0M213.8,623.3h0M136.6,613.9h0M241.9,641.6h0M216.0,623.8h0M209.5,636.9h0M249.4,648.1h0M220.3,642.5h0M248.1,637.7h0M202.0,632.4h0M187.0,612.5h0M178.6,604.3h0M204.5,624.8h0M165.4,602.0h0M226.4,633.6h0M181.6,614.0h0M227.3,631.5h0M138.5,609.9h0M200.0,630.4h0M241.9,652.1h0M236.1,646.8h0M237.2,636.8h0M236.4,636.4h0M200.5,631.4h0M159.7,616.3h0M200.1,616.1h0M237.3,630.2h0M230.4,626.0h0M131.3,614.1h0M249.6,644.3h0M203.2,632.4h0M154.1,598.0h0M253.3,653.4h0M152.8,600.6h0M145.2,605.1h0M194.1,629.9h0M198.8,610.6h0M163.6,613.9h0M195.8,608.3h0M253.5,658.5h0M174.5,602.0h0M166.5,598.2h0M155.6,606.2h0M207.1,627.5h0M172.4,615.9h0M212.3,619.6h0M201.7,632.9h0M198.6,628.4h0M176.8,606.0h0M178.4,614.8h0M200.7,634.8h0M179.1,600.4h0M183.7,625.3h0M230.7,640.0h0M212.6,620.4h0M154.9,617.0h0M203.7,635.0h0M159.3,616.0h0M128.7,613.8h0M247.0,639.5h0M213.9,631.6h0M186.3,622.3h0M176.8,607.2h0M206.3,623.3h0M180.2,603.5h0M199.7,611.5h0M164.5,598.9h0M251.5,640.4h0M226.6,627.5h0M205.2,639.3h0M175.4,602.5h0M205.4,632.8h0M171.9,600.4h0M175.7,620.1h0M169.8,615.0h0M213.9,618.2h0M206.1,638.5h0M197.3,624.1h0M214.3,618.3h0M238.0,651.7h0M206.4,639.1h0M234.6,643.4h0M202.4,619.6h0M247.8,651.3h0M200.0,635.5h0M248.0,652.4h0M208.6,618.9h0M164.4,604.2h0M171.3,618.4h0M187.9,610.4h0M148.7,601.5h0M174.1,606.1h0M184.9,624.1h0M209.5,625.3h0M242.0,651.4h0M211.0,635.6h0M206.4,630.2h0M172.1,615.1h0M230.2,637.7h0M160.4,599.4h0M177.1,613.6h0M147.7,609.4h0M251.8,655.7h0M223.5,640.2h0M194.3,619.2h0M253.3,655.8h0M226.2,624.1h0M181.7,601.2h0M193.3,634.0h0M209.3,632.5h0M176.4,618.8h0M186.0,617.6h0M258.4,652.8h0M220.7,625.9h0M177.3,615.2h0M233.4,635.5h0M159.9,613.6h0M249.3,653.7h0M193.9,608.7h0M186.4,621.4h0M253.0,654.2h0M206.8,626.2h0M199.1,637.5h0M251.6,653.7h0M203.6,633.1h0M237.1,647.8h0M254.8,646.2h0M173.6,614.0h0M152.7,609.4h0M138.5,615.1h0M219.9,630.4h0M200.1,632.8h0M218.7,636.3h0M190.5,619.6h0M205.6,613.2h0M223.3,635.8h0M161.9,608.6h0M206.8,617.5h0M186.3,604.4h0M209.7,630.1h0M129.6,611.2h0M180.0,615.5h0M216.3,639.9h0M201.5,634.8h0M216.8,627.2h0M164.6,608.6h0M165.2,614.1h0M244.1,641.8h0M210.7,629.4h0M251.7,643.8h0M188.6,617.4h0M220.5,622.2h0M180.2,609.5h0M232.3,637.3h0M173.8,612.5h0M163.0,619.0h0M199.2,608.7h0M191.0,625.8h0M231.0,639.4h0M259.9,652.6h0M227.5,632.9h0M212.9,622.9h0M167.6,620.7h0M175.7,613.8h0M170.1,600.9h0M218.1,639.5h0M207.2,639.6h0M132.3,613.3h0M175.8,599.6h0M257.8,658.3h0M179.1,601.4h0M191.2,610.1h0M142.1,606.1h0M240.4,641.7h0M171.0,620.4h0M183.9,608.4h0M178.6,602.3h0M186.5,631.7h0M149.9,608.6h0M174.1,608.4h0M153.5,609.8h0M191.7,620.5h0M181.9,618.1h0M186.2,617.1h0M191.3,606.4h0M184.6,622.1h0M205.0,622.8h0M177.3,610.1h0M165.2,596.2h0M177.6,615.2h0M173.9,620.8h0M128.6,613.5h0M181.6,601.1h0M256.6,648.2h0M141.8,618.0h0M205.8,639.2h0M182.9,615.5h0M216.6,636.2h0M213.1,624.6h0M125.2,613.9h0M238.2,643.8h0M166.1,615.9h0M222.6,645.2h0M153.4,608.1h0M167.6,611.8h0M251.3,651.6h0M233.3,637.4h0M205.1,635.0h0M172.9,605.7h0M134.9,610.3h0M170.8,619.6h0M155.5,615.1h0M190.2,611.4h0M156.8,613.8h0M246.4,652.7h0M244.3,652.7h0M161.3,597.5h0M153.5,596.9h0M171.7,605.5h0M215.5,627.2h0M231.7,641.0h0M192.0,611.2h0M202.9,626.6h0M234.3,639.0h0M223.1,628.4h0M215.0,620.9h0M157.3,613.6h0M197.5,628.5h0M190.6,621.3h0M175.5,620.5h0M165.3,614.4h0M239.3,643.8h0M160.3,607.6h0M178.1,615.9h0M239.2,644.4h0M196.7,630.6h0M174.0,614.2h0M193.2,605.9h0M221.3,631.8h0M230.1,641.3h0M212.1,631.7h0M142.7,608.0h0M196.6,624.8h0M244.4,657.5h0M197.8,619.5h0M245.5,654.2h0M139.9,613.6h0M176.1,624.0h0M246.8,638.6h0M243.8,655.6h0M231.3,643.7h0M150.5,603.7h0M236.8,645.9h0M204.6,628.9h0M157.9,619.2h0M199.2,619.4h0M127.6,609.9h0M181.0,602.7h0M147.4,600.8h0M235.5,649.5h0M172.5,617.5h0M189.3,606.9h0M231.9,627.7h0M250.1,642.4h0M158.6,596.2h0M190.6,623.8h0M177.0,600.8h0M204.5,615.2h0M159.3,612.0h0M159.9,600.4h0M233.7,648.0h0M244.0,635.5h0M203.8,633.0h0M195.5,612.6h0M234.5,640.2h0M206.1,640.1h0M150.9,617.0h0M142.7,617.1h0M225.7,638.4h0M175.3,602.7h0M246.7,649.8h0M188.6,611.4h0M249.7,641.8h0M163.2,599.6h0M177.8,599.9h0M144.3,605.5h0M255.4,656.1h0M229.3,636.3h0M166.9,612.5h0M119.2,611.4h0M165.8,600.6h0M176.9,619.5h0M217.1,622.5h0M184.9,602.6h0M166.5,605.2h0M179.3,619.7h0M250.6,655.4h0M221.2,623.6h0M157.9,616.4h0M233.4,634.4h0M234.8,638.0h0M230.4,645.9h0M202.9,625.6h0M258.8,648.9h0M240.5,640.6h0M233.0,650.4h0M170.3,609.0h0M242.0,657.1h0M238.5,640.2h0M177.0,600.2h0M215.4,639.2h0M199.1,631.2h0M166.9,601.6h0M208.6,626.5h0M224.5,643.1h0M205.3,618.1h0M214.1,618.2h0M177.2,609.8h0M157.1,599.5h0M244.0,636.7h0M198.9,627.7h0M226.7,628.1h0M193.7,632.2h0M199.6,624.6h0M168.6,619.3h0M250.1,640.8h0M216.7,634.4h0M220.9,622.3h0M225.1,624.7h0M209.2,637.8h0M175.5,622.3h0M219.3,619.6h0M253.3,642.0h0M192.0,609.9h0M198.0,628.9h0M235.4,633.1h0M148.6,610.0h0M135.0,614.5h0M180.3,615.7h0M172.6,613.4h0M192.0,630.3h0M249.2,641.1h0M258.6,655.5h0M189.1,620.7h0M219.2,619.9h0M156.8,607.7h0M255.7,656.5h0M165.0,596.7h0M204.8,615.9h0M212.0,641.4h0M197.5,619.6h0M214.1,623.0h0M182.4,607.6h0M230.2,641.7h0M208.3,639.0h0M225.2,627.2h0M165.8,608.5h0M152.3,606.8h0M163.8,599.6h0M167.5,614.9h0M185.8,621.6h0M255.2,655.6h0M149.0,611.2h0M187.5,611.4h0M241.1,637.1h0M243.8,638.6h0M173.9,614.6h0M179.6,606.6h0M163.9,608.5h0M252.7,644.2h0M251.5,657.4h0M211.7,625.8h0M186.3,624.6h0M234.1,640.4h0M237.3,643.5h0M219.3,643.7h0M151.7,618.4h0M169.6,598.6h0M213.1,632.4h0M253.9,650.4h0M191.4,605.2h0M195.3,636.2h0M168.8,606.3h0M204.7,615.7h0M201.6,609.6h0M249.4,657.0h0M254.7,644.3h0M216.4,619.9h0M258.6,655.5h0M197.3,630.8h0M247.1,648.2h0M216.0,638.7h0M213.8,638.6h0M193.9,618.1h0M209.2,636.6h0M165.1,603.1h0M153.2,614.7h0M249.3,658.2h0M211.3,620.5h0M182.2,616.4h0M145.3,616.5h0M180.8,604.7h0M218.5,625.4h0M193.6,618.8h0M189.4,623.4h0M167.1,596.6h0M151.4,597.5h0M233.0,645.1h0M169.1,603.9h0M233.7,649.2h0M169.1,609.7h0M150.2,613.0h0M185.9,604.1h0M255.9,654.9h0M201.9,617.4h0M163.1,607.5h0M165.3,606.3h0M200.7,611.3h0M248.8,651.6h0M213.5,622.8h0M202.1,620.2h0M219.8,639.4h0M204.9,622.6h0M256.6,652.2h0M173.4,620.7h0M204.7,629.0h0M235.4,648.1h0M223.2,624.1h0M165.5,602.9h0M190.3,632.9h0M171.8,606.9h0M249.7,639.1h0M208.8,620.2h0M233.5,629.6h0M188.6,607.3h0M183.6,625.2h0M228.7,644.9h0M182.4,618.2h0M237.0,646.1h0M259.5,653.1h0M227.5,624.4h0M256.1,659.0h0M236.2,639.9h0M162.2,602.0h0M193.6,624.6h0M222.3,631.1h0M203.8,614.4h0M156.4,615.8h0M159.8,611.8h0M217.8,628.5h0M187.3,626.3h0M193.1,632.0h0M167.9,616.0h0M180.5,613.6h0M227.0,635.1h0M150.1,603.2h0M241.3,641.4h0M244.6,642.2h0M213.0,641.7h0M149.5,617.1h0M195.2,609.0h0M158.2,607.5h0M171.6,618.8h0M201.9,629.5h0M159.2,606.0h0M167.6,620.3h0M217.2,632.4h0M211.3,628.8h0M210.8,637.2h0M140.3,607.3h0M212.8,634.5h0M253.3,654.3h0M232.3,645.2h0M166.5,597.3h0M161.9,613.9h0M150.1,618.5h0M263.4,658.9h0M206.2,622.7h0M186.9,610.2h0M246.4,655.3h0M224.8,644.9h0M147.7,614.4h0M194.9,636.0h0M233.5,633.4h0M149.4,601.0h0M189.9,617.3h0M183.2,616.3h0M166.3,604.7h0M205.1,617.7h0M166.9,611.9h0M238.2,639.8h0M205.8,625.4h0M148.4,602.0h0M205.4,629.7h0M242.2,654.9h0M249.6,642.7h0M162.2,597.0h0M173.7,599.2h0M211.7,640.6h0M237.5,641.9h0M148.8,602.3h0M158.7,613.1h0M232.3,642.4h0M235.7,649.3h0M174.9,613.0h0M216.8,641.7h0M193.5,608.3h0M193.6,630.2h0M131.5,609.3h0M181.2,618.4h0M158.1,598.9h0M210.4,615.9h0M154.9,596.3h0M246.4,646.6h0M219.8,637.7h0M232.0,632.1h0M161.3,600.4h0M179.4,600.6h0M212.9,628.0h0M203.1,619.5h0M130.6,614.8h0M189.0,623.4h0M187.5,617.6h0M211.5,629.4h0M234.1,647.9h0M166.3,606.2h0M231.6,631.8h0M172.3,621.2h0M160.6,614.1h0M215.3,621.7h0M198.7,607.9h0M182.8,603.5h0M149.9,607.1h0M201.8,622.9h0M244.8,636.4h0M198.1,615.8h0M197.1,632.2h0M232.9,646.0h0M197.8,632.0h0M258.0,650.1h0M223.9,640.9h0M290.4,613.1h0M321.9,600.1h0M300.4,602.2h0M280.6,605.0h0M302.9,609.9h0M322.7,601.0h0M322.7,598.1h0M299.6,607.8h0M270.8,612.0h0M320.8,608.9h0M313.3,595.3h0M299.3,617.9h0M318.3,605.6h0M316.4,605.4h0M260.8,614.6h0M279.6,608.3h0M269.0,612.0h0M294.2,612.3h0M286.3,613.0h0M276.4,619.6h0M264.1,618.1h0M266.7,610.1h0M314.2,610.8h0M289.2,615.6h0M316.2,589.9h0M299.6,608.9h0M321.4,586.3h0M294.9,602.7h0M302.0,607.7h0M271.9,620.4h0M264.1,612.1h0M316.3,588.8h0M324.3,585.6h0M309.7,606.2h0M275.9,605.0h0M304.9,595.1h0M277.4,608.2h0M322.2,601.6h0M287.8,613.2h0M294.0,606.5h0M324.4,601.2h0M295.5,605.9h0M270.4,607.8h0M281.3,606.1h0M300.6,597.5h0M315.0,595.1h0M283.3,618.9h0M287.9,600.2h0M299.8,598.1h0M299.1,599.6h0M297.8,612.4h0M298.4,607.3h0M296.0,596.7h0M252.2,617.5h0M303.1,607.9h0M312.4,605.1h0M305.7,595.4h0M317.1,593.5h0M322.2,588.9h0M310.2,600.9h0M277.6,617.1h0M319.0,606.8h0M270.3,621.1h0M324.0,603.5h0M309.1,600.8h0M281.4,603.0h0M277.0,615.5h0M263.0,612.1h0M325.1,593.7h0M295.9,599.2h0M273.2,614.8h0M299.6,596.1h0M303.0,614.3h0M251.4,614.5h0M300.0,599.7h0M288.0,611.3h0M306.9,603.2h0M285.6,609.8h0M304.7,612.4h0M267.4,608.0h0M315.4,611.2h0M307.2,595.2h0M316.3,609.3h0M319.5,599.4h0M256.9,620.5h0M305.4,608.1h0M264.3,615.0h0M295.8,598.2h0M322.0,608.0h0M271.6,622.0h0M319.1,601.7h0M327.2,592.3h0M295.9,616.0h0M278.8,612.7h0M284.9,599.7h0M290.8,617.4h0M315.8,606.1h0M297.7,600.1h0M318.9,603.6h0M292.6,601.9h0M300.9,607.4h0M264.7,620.1h0M300.9,600.0h0M280.6,621.0h0M315.0,592.1h0M265.6,609.9h0M297.1,618.7h0M301.4,611.4h0M276.6,603.1h0M267.8,607.1h0M287.2,613.7h0M297.9,610.2h0M281.0,612.2h0M303.3,604.2h0M272.7,620.4h0M324.8,602.2h0M284.4,618.2h0M275.3,612.7h0M273.5,622.7h0M279.3,611.0h0M321.4,602.1h0M262.1,616.8h0M300.9,610.1h0M259.4,612.2h0M310.8,600.3h0M305.3,614.9h0M283.9,601.3h0M296.7,596.0h0M282.1,610.6h0M326.7,591.6h0M289.9,614.2h0M281.8,608.6h0M311.8,604.5h0M321.2,595.8h0M290.1,607.9h0M295.6,598.4h0M279.9,604.4h0M321.1,600.8h0M310.4,598.4h0M318.2,592.1h0M318.7,586.0h0M274.1,621.4h0M319.5,600.8h0M326.5,595.6h0M282.8,610.7h0M253.4,615.6h0M279.8,610.6h0M322.6,598.7h0M299.0,616.2h0M266.6,608.3h0M287.9,617.6h0M316.7,589.9h0M307.1,606.8h0M322.3,591.3h0M273.5,611.2h0M284.0,608.4h0M310.7,603.6h0M270.5,609.2h0M308.4,611.0h0M300.8,600.0h0M292.3,616.3h0M306.3,607.7h0M323.8,600.8h0M324.3,585.6h0M302.8,596.2h0M314.0,604.7h0M317.6,609.4h0M319.2,592.8h0M268.2,618.3h0M307.5,593.2h0M299.0,615.5h0M291.8,612.1h0M302.3,595.7h0M265.1,609.7h0M273.4,608.1h0M277.5,620.0h0M278.7,612.4h0M297.9,610.1h0M275.1,608.5h0M290.7,616.8h0M307.9,594.6h0M319.7,596.7h0M276.5,613.4h0M304.5,609.9h0M282.2,619.8h0M290.2,610.5h0M286.6,606.4h0M255.5,617.2h0M308.9,598.0h0M319.1,605.2h0M289.5,611.8h0M306.2,609.9h0M298.2,613.7h0M280.4,605.0h0M299.3,597.9h0M283.7,602.5h0M283.5,609.3h0M254.2,613.9h0M265.0,620.6h0M321.6,590.3h0M323.3,597.9h0M293.5,614.5h0M266.0,611.7h0M319.0,586.9h0M287.8,620.4h0M274.4,615.6h0M323.6,586.4h0M304.9,600.8h0M289.8,612.7h0M316.1,591.6h0M317.1,590.7h0M282.1,606.1h0M273.6,608.5h0M283.0,608.8h0M305.8,607.2h0M270.4,622.9h0M309.6,613.7h0M279.6,615.8h0M322.0,600.1h0M314.1,598.8h0M282.5,600.5h0M297.6,616.3h0M325.0,601.2h0M324.3,600.7h0M316.0,606.1h0M319.9,584.7h0M262.5,620.5h0M312.5,597.6h0M323.4,593.0h0M291.4,609.4h0M315.2,607.0h0M263.3,615.3h0M310.5,593.9h0M281.9,610.9h0M292.3,600.8h0M303.0,601.5h0M298.5,599.2h0M261.1,625.3h0M281.1,611.1h0M320.9,592.8h0M320.9,604.4h0M327.2,594.9h0M315.4,610.9h0M320.0,599.4h0M292.9,616.5h0M311.8,596.2h0M320.5,603.5h0M261.1,622.1h0M272.2,609.6h0M319.2,594.0h0M318.3,587.0h0M305.1,607.1h0M314.3,605.8h0M290.3,608.0h0M281.5,605.2h0M282.3,614.8h0M301.9,595.9h0M297.9,607.9h0M326.9,594.8h0M308.1,600.2h0M281.8,614.5h0M299.6,596.5h0M269.5,618.6h0M319.7,603.5h0M273.2,614.7h0M302.4,613.1h0M308.3,610.7h0M264.6,616.3h0M264.8,613.9h0M278.8,602.8h0M310.9,605.8h0M313.2,603.7h0M309.1,594.0h0M279.5,613.6h0M314.0,603.1h0M276.0,622.7h0M290.2,603.8h0M318.3,600.2h0M278.2,614.0h0M277.1,607.8h0M300.4,604.4h0M251.9,614.3h0M294.2,599.5h0M311.0,591.2h0M284.9,613.9h0M307.4,613.2h0M307.7,610.4h0M289.9,601.1h0M262.3,616.4h0M289.5,606.9h0M261.6,616.9h0M284.3,619.6h0M301.9,601.8h0M272.7,605.9h0M267.0,609.7h0M320.5,585.8h0M296.2,615.3h0M287.8,610.1h0M306.0,614.0h0M261.2,614.3h0M289.0,606.7h0M288.8,618.6h0M278.2,610.1h0M282.0,617.7h0M272.9,622.7h0M302.4,599.8h0M318.1,586.4h0M273.8,625.2h0M269.0,621.8h0M255.6,617.7h0M294.2,614.4h0M322.7,606.6h0M307.5,596.3h0M276.9,623.3h0M291.4,606.9h0M277.3,608.7h0M260.8,623.1h0M274.8,611.5h0M286.9,613.4h0M268.9,615.6h0M315.5,601.4h0M261.5,624.3h0M280.1,623.4h0M269.2,613.9h0M282.7,606.0h0M317.4,595.4h0M299.6,615.4h0M298.0,596.2h0M275.2,617.8h0M257.3,616.4h0M323.3,594.3h0M306.6,596.7h0M303.3,599.4h0M257.5,622.1h0M258.0,615.3h0M282.5,623.1h0M264.0,622.3h0M295.8,610.9h0M312.4,599.2h0M275.9,620.1h0M318.4,598.0h0M291.0,602.3h0M259.7,619.6h0M286.5,608.6h0M308.4,604.2h0M285.7,621.0h0M261.7,624.3h0M282.6,620.6h0M286.8,611.3h0M314.1,609.9h0M314.8,597.6h0M280.7,618.0h0M295.1,618.0h0M321.6,591.6h0M320.0,593.1h0M277.9,614.6h0M268.4,621.2h0M266.4,618.2h0M256.9,619.6h0M259.0,622.4h0M283.6,618.6h0M256.0,618.6h0M320.5,598.0h0M269.0,607.4h0M285.6,608.3h0M315.7,609.3h0M281.1,622.5h0M316.9,602.5h0M271.5,616.5h0M255.4,618.7h0M291.6,620.1h0M323.5,594.9h0M309.3,607.0h0M309.3,610.7h0M318.7,591.6h0M275.7,603.6h0M314.3,609.6h0M292.5,614.2h0M309.8,592.9h0M259.6,613.9h0M316.4,607.6h0M320.6,600.8h0M314.2,604.9h0M293.6,612.5h0M309.4,613.0h0M293.1,607.9h0M323.2,597.3h0M265.6,615.4h0M277.1,607.0h0M280.2,619.0h0M287.9,613.9h0M265.1,614.6h0M275.1,612.6h0M264.3,614.5h0M320.8,592.3h0M300.3,613.7h0M275.6,619.3h0M272.7,617.7h0M271.1,610.0h0M274.6,611.4h0M307.3,599.7h0M273.0,608.7h0M319.6,605.0h0M323.0,603.7h0M323.1,596.5h0M273.8,612.9h0M303.2,605.5h0M288.8,605.5h0M274.8,612.8h0M320.5,590.8h0M307.5,601.9h0M304.6,596.4h0M319.0,607.3h0M296.7,600.7h0M274.7,623.6h0M270.6,617.8h0M273.3,624.8h0M315.9,609.3h0M294.6,612.5h0M312.7,610.6h0M287.9,598.9h0M258.7,620.7h0M259.4,616.0h0M306.6,599.5h0M300.7,596.5h0M319.1,590.2h0M305.9,612.5h0M300.5,600.6h0M310.8,609.3h0M294.3,615.4h0M280.8,612.8h0M286.6,615.2h0M304.9,595.3h0M300.0,609.9h0M314.2,607.9h0M299.3,607.8h0M272.0,607.2h0M270.7,613.1h0M318.3,608.7h0M271.9,614.4h0M271.5,612.9h0M255.4,616.3h0M273.4,604.3h0M284.4,601.1h0M296.5,596.1h0M265.6,615.1h0M279.2,602.9h0M269.9,610.0h0M321.9,591.1h0M292.3,604.7h0M295.6,611.0h0M280.1,610.2h0M324.4,597.9h0M291.4,619.3h0M318.2,608.8h0M270.3,621.0h0M315.6,591.0h0M295.2,603.7h0M315.7,591.8h0M279.1,605.4h0M271.6,612.5h0M306.2,603.5h0M271.7,608.0h0M276.3,613.8h0M268.5,625.5h0M292.3,611.9h0M299.8,615.7h0M317.3,599.2h0M289.9,612.5h0M277.5,622.7h0M257.6,621.1h0M307.4,609.4h0M269.8,605.8h0M305.9,600.3h0M290.9,610.5h0M315.9,609.2h0M280.0,604.9h0M286.9,611.3h0M305.9,600.8h0M274.2,609.0h0M321.4,594.9h0M262.4,619.1h0M259.8,616.4h0M300.6,605.1h0M269.7,607.9h0M319.7,588.6h0M265.4,615.8h0M270.4,609.0h0M283.2,617.1h0M271.8,616.1h0M316.3,611.1h0M293.0,615.3h0M310.3,593.7h0M282.9,610.2h0M279.3,622.1h0M310.4,605.9h0M320.9,594.3h0M298.9,612.4h0M306.5,607.7h0M288.0,614.8h0M320.5,595.6h0M278.3,610.8h0M288.9,614.4h0M322.3,601.0h0M302.7,594.2h0M280.1,613.2h0M275.1,613.2h0M285.9,613.8h0M268.4,613.5h0M307.0,613.5h0M274.6,618.7h0M318.6,598.8h0M251.4,613.2h0M268.6,618.0h0M273.0,622.0h0M295.2,606.9h0M263.1,615.5h0M278.6,602.8h0M258.7,622.4h0M319.2,598.2h0M316.4,608.9h0M301.5,601.9h0M289.2,614.2h0M279.1,602.7h0M311.5,608.5h0M290.2,617.6h0M284.7,618.3h0M265.8,608.3h0M314.9,601.1h0M272.2,612.4h0M319.6,584.8h0M268.3,621.1h0M280.4,610.2h0M280.2,617.0h0M315.3,600.5h0M323.5,605.0h0M268.6,611.6h0M256.1,617.5h0M289.5,602.8h0M313.2,596.5h0M316.7,594.2h0M317.9,588.7h0M314.0,612.2h0M304.7,595.4h0M273.6,613.1h0M313.8,602.3h0M314.8,600.0h0M299.1,599.3h0M267.1,618.7h0M326.9,592.8h0" fill="none" stroke="#626262" stroke-width="4.4" stroke-linecap="round" clip-path="url(#cb)"/>
<g fill="none" stroke="#111" stroke-width="1.9">
<rect x="46.5" y="368.0" width="289.9" height="330.8"/>
<line x1="46.5" y1="533.3" x2="336.4" y2="533.3"/>
</g>
<g stroke="#111" stroke-width="1.4">
<line x1="42.5" y1="533.2" x2="46.5" y2="533.2"/>
<line x1="42.5" y1="492.0" x2="46.5" y2="492.0"/>
<line x1="42.5" y1="450.8" x2="46.5" y2="450.8"/>
<line x1="42.5" y1="409.6" x2="46.5" y2="409.6"/>
<line x1="42.5" y1="368.4" x2="46.5" y2="368.4"/>
<line x1="42.5" y1="698.8" x2="46.5" y2="698.8"/>
<line x1="42.5" y1="657.0" x2="46.5" y2="657.0"/>
<line x1="42.5" y1="615.2" x2="46.5" y2="615.2"/>
<line x1="42.5" y1="573.4" x2="46.5" y2="573.4"/>
</g><g stroke="#111" stroke-width="0.7">
<line x1="44.5" y1="520.8" x2="46.5" y2="520.8"/>
<line x1="44.5" y1="513.5" x2="46.5" y2="513.5"/>
<line x1="44.5" y1="508.4" x2="46.5" y2="508.4"/>
<line x1="44.5" y1="504.4" x2="46.5" y2="504.4"/>
<line x1="44.5" y1="501.1" x2="46.5" y2="501.1"/>
<line x1="44.5" y1="498.4" x2="46.5" y2="498.4"/>
<line x1="44.5" y1="496.0" x2="46.5" y2="496.0"/>
<line x1="44.5" y1="493.9" x2="46.5" y2="493.9"/>
<line x1="44.5" y1="479.6" x2="46.5" y2="479.6"/>
<line x1="44.5" y1="472.3" x2="46.5" y2="472.3"/>
<line x1="44.5" y1="467.2" x2="46.5" y2="467.2"/>
<line x1="44.5" y1="463.2" x2="46.5" y2="463.2"/>
<line x1="44.5" y1="459.9" x2="46.5" y2="459.9"/>
<line x1="44.5" y1="457.2" x2="46.5" y2="457.2"/>
<line x1="44.5" y1="454.8" x2="46.5" y2="454.8"/>
<line x1="44.5" y1="452.7" x2="46.5" y2="452.7"/>
<line x1="44.5" y1="438.4" x2="46.5" y2="438.4"/>
<line x1="44.5" y1="431.1" x2="46.5" y2="431.1"/>
<line x1="44.5" y1="426.0" x2="46.5" y2="426.0"/>
<line x1="44.5" y1="422.0" x2="46.5" y2="422.0"/>
<line x1="44.5" y1="418.7" x2="46.5" y2="418.7"/>
<line x1="44.5" y1="416.0" x2="46.5" y2="416.0"/>
<line x1="44.5" y1="413.6" x2="46.5" y2="413.6"/>
<line x1="44.5" y1="411.5" x2="46.5" y2="411.5"/>
<line x1="44.5" y1="397.2" x2="46.5" y2="397.2"/>
<line x1="44.5" y1="389.9" x2="46.5" y2="389.9"/>
<line x1="44.5" y1="384.8" x2="46.5" y2="384.8"/>
<line x1="44.5" y1="380.8" x2="46.5" y2="380.8"/>
<line x1="44.5" y1="377.5" x2="46.5" y2="377.5"/>
<line x1="44.5" y1="374.8" x2="46.5" y2="374.8"/>
<line x1="44.5" y1="372.4" x2="46.5" y2="372.4"/>
<line x1="44.5" y1="370.3" x2="46.5" y2="370.3"/>
<line x1="44.5" y1="686.2" x2="46.5" y2="686.2"/>
<line x1="44.5" y1="678.9" x2="46.5" y2="678.9"/>
<line x1="44.5" y1="673.6" x2="46.5" y2="673.6"/>
<line x1="44.5" y1="669.6" x2="46.5" y2="669.6"/>
<line x1="44.5" y1="666.3" x2="46.5" y2="666.3"/>
<line x1="44.5" y1="663.5" x2="46.5" y2="663.5"/>
<line x1="44.5" y1="661.1" x2="46.5" y2="661.1"/>
<line x1="44.5" y1="658.9" x2="46.5" y2="658.9"/>
<line x1="44.5" y1="644.4" x2="46.5" y2="644.4"/>
<line x1="44.5" y1="637.1" x2="46.5" y2="637.1"/>
<line x1="44.5" y1="631.8" x2="46.5" y2="631.8"/>
<line x1="44.5" y1="627.8" x2="46.5" y2="627.8"/>
<line x1="44.5" y1="624.5" x2="46.5" y2="624.5"/>
<line x1="44.5" y1="621.7" x2="46.5" y2="621.7"/>
<line x1="44.5" y1="619.3" x2="46.5" y2="619.3"/>
<line x1="44.5" y1="617.1" x2="46.5" y2="617.1"/>
<line x1="44.5" y1="602.6" x2="46.5" y2="602.6"/>
<line x1="44.5" y1="595.3" x2="46.5" y2="595.3"/>
<line x1="44.5" y1="590.0" x2="46.5" y2="590.0"/>
<line x1="44.5" y1="586.0" x2="46.5" y2="586.0"/>
<line x1="44.5" y1="582.7" x2="46.5" y2="582.7"/>
<line x1="44.5" y1="579.9" x2="46.5" y2="579.9"/>
<line x1="44.5" y1="577.5" x2="46.5" y2="577.5"/>
<line x1="44.5" y1="575.3" x2="46.5" y2="575.3"/>
<line x1="44.5" y1="560.8" x2="46.5" y2="560.8"/>
<line x1="44.5" y1="553.5" x2="46.5" y2="553.5"/>
<line x1="44.5" y1="548.2" x2="46.5" y2="548.2"/>
<line x1="44.5" y1="544.2" x2="46.5" y2="544.2"/>
<line x1="44.5" y1="540.9" x2="46.5" y2="540.9"/>
<line x1="44.5" y1="538.1" x2="46.5" y2="538.1"/>
<line x1="44.5" y1="535.7" x2="46.5" y2="535.7"/>
<line x1="44.5" y1="533.5" x2="46.5" y2="533.5"/>
</g><g stroke="#111" stroke-width="1.6">
<line x1="46.5" y1="698.8" x2="46.5" y2="702.6"/>
<line x1="82.7" y1="698.8" x2="82.7" y2="702.6"/>
<line x1="119.0" y1="698.8" x2="119.0" y2="702.6"/>
<line x1="155.2" y1="698.8" x2="155.2" y2="702.6"/>
<line x1="191.5" y1="698.8" x2="191.5" y2="702.6"/>
<line x1="227.7" y1="698.8" x2="227.7" y2="702.6"/>
<line x1="263.9" y1="698.8" x2="263.9" y2="702.6"/>
<line x1="300.2" y1="698.8" x2="300.2" y2="702.6"/>
<line x1="336.4" y1="698.8" x2="336.4" y2="702.6"/>
<line x1="64.6" y1="698.8" x2="64.6" y2="701.0"/>
<line x1="100.9" y1="698.8" x2="100.9" y2="701.0"/>
<line x1="137.1" y1="698.8" x2="137.1" y2="701.0"/>
<line x1="173.3" y1="698.8" x2="173.3" y2="701.0"/>
<line x1="209.6" y1="698.8" x2="209.6" y2="701.0"/>
<line x1="245.8" y1="698.8" x2="245.8" y2="701.0"/>
<line x1="282.1" y1="698.8" x2="282.1" y2="701.0"/>
<line x1="318.3" y1="698.8" x2="318.3" y2="701.0"/>
</g>
<g class="b" fill="#111" font-size="9.3">
<text x="41.2" text-anchor="end" y="536.6">10<tspan dy="-3.8" font-size="6.2">-3</tspan></text>
<text x="41.2" text-anchor="end" y="495.4">10<tspan dy="-3.8" font-size="6.2">-2</tspan></text>
<text x="41.2" text-anchor="end" y="454.2">10<tspan dy="-3.8" font-size="6.2">-1</tspan></text>
<text x="41.2" text-anchor="end" y="413.0">10<tspan dy="-3.8" font-size="6.2">0</tspan></text>
<text x="41.2" text-anchor="end" y="371.8">10<tspan dy="-3.8" font-size="6.2">1</tspan></text>
<text x="41.2" text-anchor="end" y="660.4">10<tspan dy="-3.8" font-size="6.2">-2</tspan></text>
<text x="41.2" text-anchor="end" y="618.6">10<tspan dy="-3.8" font-size="6.2">-1</tspan></text>
<text x="41.2" text-anchor="end" y="576.8">10<tspan dy="-3.8" font-size="6.2">0</tspan></text>
<text x="41.2" text-anchor="end" y="702.2">10<tspan dy="-3.8" font-size="6.2">-3</tspan></text>
</g>
<g class="b" fill="#111" font-size="9.8" text-anchor="middle">
<text x="46.5" y="712.6">0</text>
<text x="82.7" y="712.6">2</text>
<text x="119.0" y="712.6">4</text>
<text x="155.2" y="712.6">6</text>
<text x="191.5" y="712.6">8</text>
<text x="227.7" y="712.6">10</text>
<text x="263.9" y="712.6">12</text>
<text x="300.2" y="712.6">14</text>
<text x="336.4" y="712.6">16</text>
</g>
<text class="b" font-size="15.3" fill="#111" x="189.3" y="725.7" text-anchor="middle">Frequency (THz)</text>
<text class="b" font-size="16.65" fill="#111" text-anchor="middle" transform="translate(13.6,537.6) rotate(-90)">Scattering rate (1/ps)</text>
<circle cx="63" cy="377.5" r="2.1" fill="#626262"/>
<text class="b" font-size="10" fill="#222" x="77" y="381.1">aaa (0%)</text>
<circle cx="63" cy="390.8" r="2.1" fill="#5fa21c"/>
<text class="b" font-size="10" fill="#222" x="77" y="394.4">aaa (10%)</text>
<circle cx="63" cy="542.4" r="2.1" fill="#626262"/>
<text class="b" font-size="10" fill="#222" x="77" y="546.0">aao (0%)</text>
<circle cx="63" cy="555.6" r="2.1" fill="#5fa21c"/>
<text class="b" font-size="10" fill="#222" x="77" y="559.2">aao (10%)</text>
</g>
<g id="bars">
<rect x="483.2" y="593.7" width="36.4" height="104.8" fill="#800080" stroke="#111" stroke-width="1.4"/>
<rect x="562.0" y="456.3" width="36.9" height="242.2" fill="#008000" stroke="#111" stroke-width="1.4"/>
<rect x="640.5" y="433.5" width="37.1" height="265.0" fill="#ff8000" stroke="#111" stroke-width="1.4"/>
<rect x="509.1" y="683.6" width="36.9" height="14.9" fill="#800080"/>
<rect x="509.1" y="683.6" width="36.9" height="14.9" fill="url(#hatch)" stroke="#111" stroke-width="1.4"/>
<rect x="587.4" y="608.7" width="37.6" height="89.8" fill="#008000"/>
<rect x="587.4" y="608.7" width="37.6" height="89.8" fill="url(#hatch)" stroke="#111" stroke-width="1.4"/>
<rect x="666.7" y="621.7" width="37.5" height="76.8" fill="#ff8000"/>
<rect x="666.7" y="621.7" width="37.5" height="76.8" fill="url(#hatch)" stroke="#111" stroke-width="1.4"/>
<rect x="449.2" y="370.6" width="289.6" height="327.9" fill="none" stroke="#111" stroke-width="1.9"/>
<g stroke="#111" stroke-width="1.5">
<line x1="444.0" y1="698.5" x2="449.2" y2="698.5"/>
<line x1="444.0" y1="643.9" x2="449.2" y2="643.9"/>
<line x1="444.0" y1="589.3" x2="449.2" y2="589.3"/>
<line x1="444.0" y1="534.7" x2="449.2" y2="534.7"/>
<line x1="444.0" y1="480.1" x2="449.2" y2="480.1"/>
<line x1="444.0" y1="425.5" x2="449.2" y2="425.5"/>
<line x1="444.0" y1="370.9" x2="449.2" y2="370.9"/>
<line x1="446.2" y1="671.2" x2="449.2" y2="671.2"/>
<line x1="446.2" y1="616.6" x2="449.2" y2="616.6"/>
<line x1="446.2" y1="562.0" x2="449.2" y2="562.0"/>
<line x1="446.2" y1="507.4" x2="449.2" y2="507.4"/>
<line x1="446.2" y1="452.8" x2="449.2" y2="452.8"/>
<line x1="446.2" y1="398.2" x2="449.2" y2="398.2"/>
</g>
<g class="b" font-size="11" fill="#111" text-anchor="end">
<text x="440.2" y="702.4">0</text>
<text x="440.2" y="647.8">5</text>
<text x="440.2" y="593.2">10</text>
<text x="440.2" y="538.6">15</text>
<text x="440.2" y="484.0">20</text>
<text x="440.2" y="429.4">25</text>
<text x="440.2" y="374.8">30</text>
</g>
<text class="b" font-size="16.8" fill="#111" x="732.8" y="386.7" text-anchor="end">c-axis</text>
<g class="b" fill="#111" text-anchor="middle">
<text x="500.6" y="589.0" font-size="13.0">0%</text>
<text x="534.8" y="680.0" font-size="12.2">10%</text>
<text x="581.0" y="452.0" font-size="13.0">0%</text>
<text x="614.4" y="605.0" font-size="12.2">10%</text>
<text x="660.6" y="429.6" font-size="13.0">0%</text>
<text x="694.3" y="617.6" font-size="12.2">10%</text>
</g>
<g class="b" font-size="13" fill="#e8308c">
<text x="532.8" y="617.6">86%</text><text x="611.6" y="517.3">63%</text><text x="694.4" y="507.2">72%</text>
</g>
<path d="M520.0,590.2C532.0,590.0 536.0,630.0 537.8,658.2" fill="none" stroke="#e8308c" stroke-width="1.7"/>
<polygon points="537.8,666.2 534.4,654.2 541.2,654.2" fill="#e8308c"/>
<path d="M598.4,452.0C612.0,452.0 614.0,540.0 616.3,583.6" fill="none" stroke="#e8308c" stroke-width="1.7"/>
<polygon points="616.3,591.6 612.9,579.6 619.7,579.6" fill="#e8308c"/>
<path d="M677.8,428.5C691.0,428.0 695.0,540.0 697.9,598.6" fill="none" stroke="#e8308c" stroke-width="1.7"/>
<polygon points="697.9,606.6 694.5,594.6 701.3,594.6" fill="#e8308c"/>
<g class="b" fill="#111" text-anchor="middle">
<text x="507.4" y="716.2" font-size="15.5">TA1</text><text x="591.6" y="718" font-size="17">TA2</text><text x="667.7" y="716.2" font-size="15.5">LA</text>
</g>
<g transform="translate(419.2,531) rotate(-90)" fill="#111"><text font-size="17" x="-36.5" y="0">κ<tspan font-size="11.5" dy="3">L</tspan><tspan class="b" dy="-3">(W/mK)</tspan></text></g>
</g>
</svg></body></html>
